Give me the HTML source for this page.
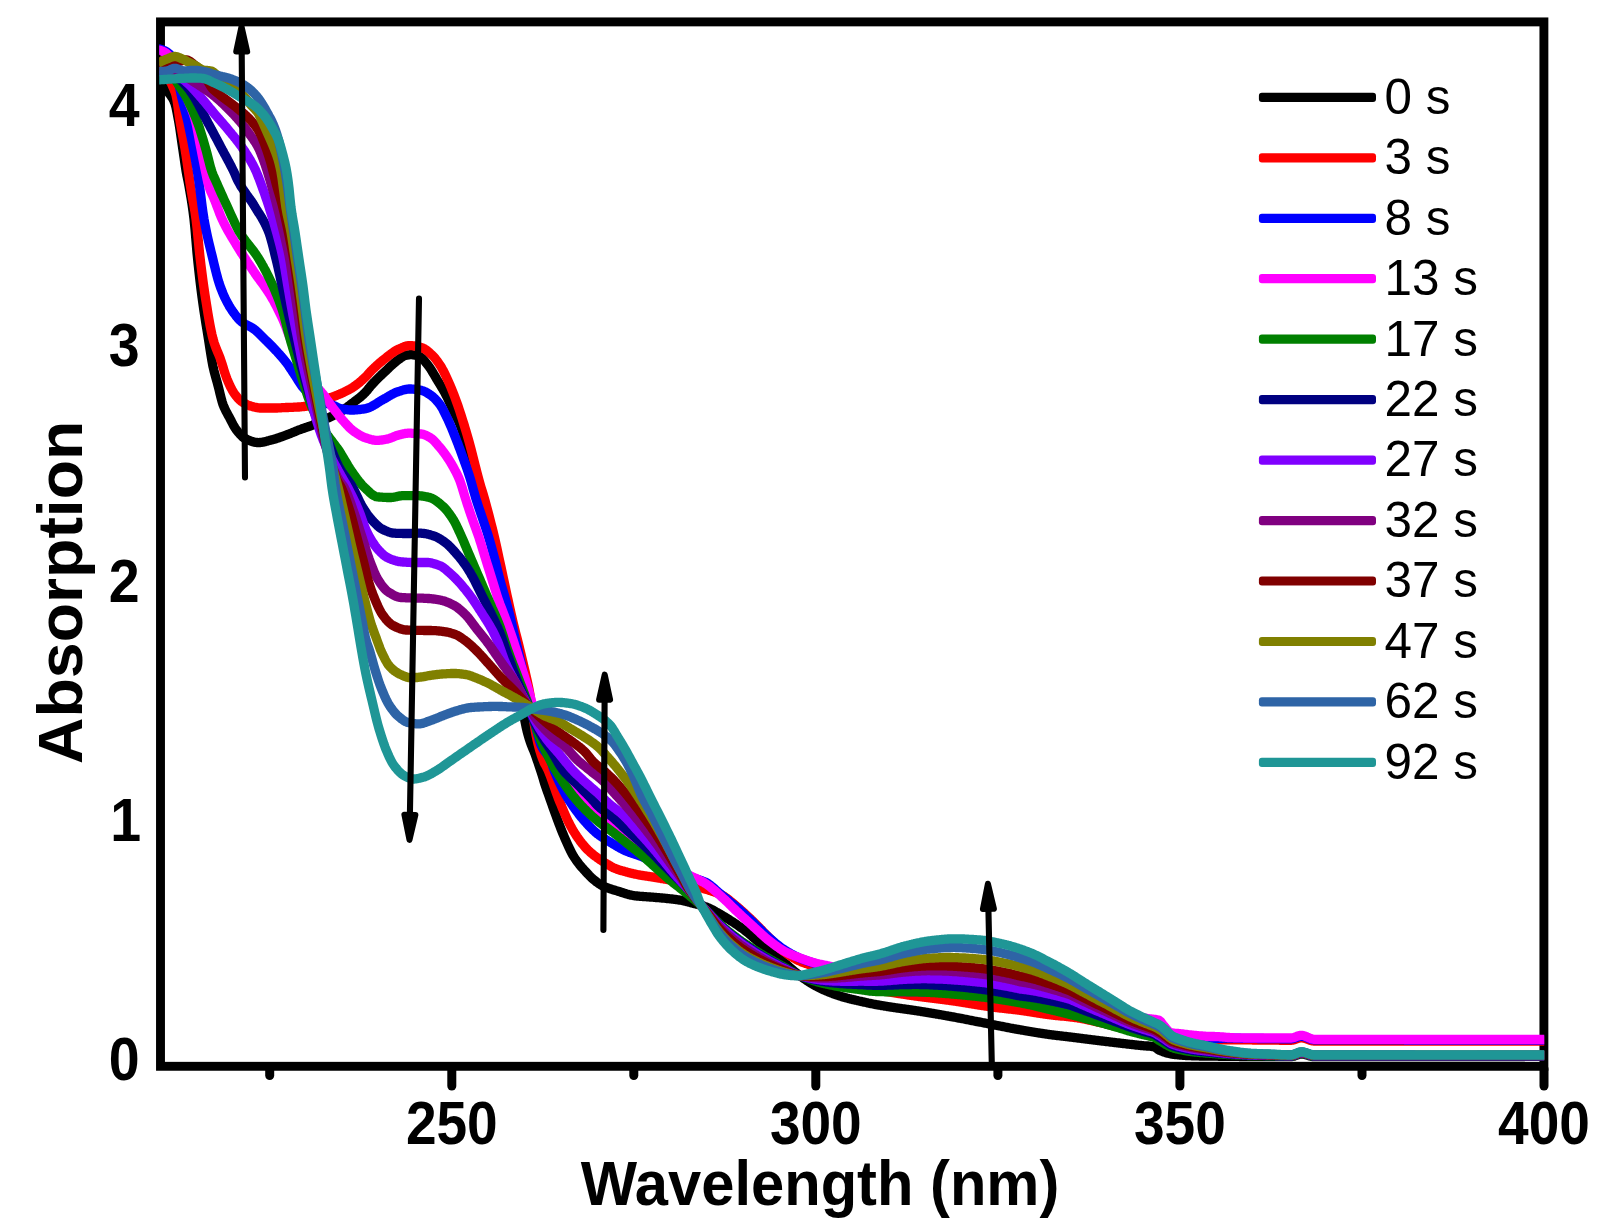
<!DOCTYPE html>
<html lang="en"><head><meta charset="utf-8"><title>UV absorption spectra</title>
<style>
html,body{margin:0;padding:0;background:#fff;}
body{width:1603px;height:1232px;overflow:hidden;}
svg{display:block;}
text{font-family:"Liberation Sans",sans-serif;fill:#000;}
.b{font-weight:bold;}
.c{fill:none;stroke-width:9.3;stroke-linejoin:round;stroke-linecap:butt;}
</style></head><body>
<svg width="1603" height="1232" viewBox="0 0 1603 1232">
<rect x="0" y="0" width="1603" height="1232" fill="#fff"/>
<defs><clipPath id="clip"><rect x="159.2" y="0" width="1385.0" height="1232"/></clipPath></defs>
<g fill="none" stroke="#000" stroke-width="8.9" stroke-linecap="butt">
<rect x="160.5" y="21.9" width="1383.4" height="1044.4"/>
</g>
<g stroke="#000" stroke-width="9.0" stroke-linecap="round">
<line x1="451.8" y1="1069" x2="451.8" y2="1086"/>
<line x1="815.8" y1="1069" x2="815.8" y2="1086"/>
<line x1="1179.9" y1="1069" x2="1179.9" y2="1086"/>
<line x1="1544.0" y1="1069" x2="1544.0" y2="1086"/>
<line x1="269.7" y1="1069" x2="269.7" y2="1075.5"/>
<line x1="633.8" y1="1069" x2="633.8" y2="1075.5"/>
<line x1="997.9" y1="1069" x2="997.9" y2="1075.5"/>
<line x1="1362.0" y1="1069" x2="1362.0" y2="1075.5"/>
</g>
<g clip-path="url(#clip)">
<path class="c" stroke="#000000" d="M158.0 86.0 L159.0 86.1 L160.0 86.3 L161.0 86.6 L162.0 87.0 L163.0 87.5 L164.0 88.0 L165.0 88.7 L166.0 89.7 L167.0 90.8 L168.0 92.1 L169.0 93.3 L170.0 94.5 L171.0 95.8 L172.0 97.3 L173.0 99.0 L174.0 101.1 L175.0 103.5 L176.0 107.3 L177.0 112.2 L178.0 117.7 L179.0 123.3 L180.0 129.6 L181.0 136.5 L182.0 143.5 L183.0 150.3 L184.0 157.2 L185.0 164.1 L186.0 170.6 L187.0 176.1 L188.0 180.9 L189.0 186.2 L190.0 191.9 L191.0 197.8 L192.0 204.1 L193.0 211.1 L194.0 219.0 L195.0 229.0 L196.0 240.9 L197.0 252.8 L198.0 262.8 L199.0 272.1 L200.0 280.9 L201.0 289.1 L202.0 296.9 L203.0 304.2 L204.0 311.0 L205.0 317.6 L206.0 323.9 L207.0 330.1 L208.0 336.3 L209.0 342.5 L210.0 349.0 L211.0 355.4 L212.0 361.3 L213.0 366.5 L214.0 370.8 L215.0 374.7 L216.0 378.3 L217.0 381.8 L218.0 385.5 L219.0 389.4 L220.0 393.6 L221.0 397.6 L222.0 401.3 L223.0 404.5 L224.0 407.0 L225.0 409.2 L226.0 411.3 L227.0 413.1 L228.0 414.9 L229.0 416.7 L230.0 418.6 L231.0 420.5 L232.0 422.5 L233.0 424.4 L234.0 426.2 L235.0 427.9 L236.0 429.3 L237.0 430.6 L238.0 431.9 L239.0 433.1 L240.0 434.3 L241.0 435.3 L242.0 436.3 L243.0 437.2 L244.0 437.9 L245.0 438.5 L246.0 439.0 L247.0 439.5 L248.0 439.9 L249.0 440.4 L250.0 440.8 L251.0 441.1 L252.0 441.5 L253.0 441.8 L254.0 442.1 L255.0 442.3 L256.0 442.4 L257.0 442.5 L258.0 442.6 L259.0 442.6 L260.0 442.5 L261.0 442.4 L262.0 442.3 L263.0 442.1 L264.0 441.9 L265.0 441.7 L266.0 441.4 L267.0 441.1 L268.0 440.9 L269.0 440.6 L270.0 440.3 L271.0 440.1 L272.0 439.8 L273.0 439.6 L274.0 439.3 L275.0 439.0 L276.0 438.7 L277.0 438.3 L278.0 438.0 L279.0 437.7 L280.0 437.3 L281.0 437.0 L282.0 436.6 L283.0 436.2 L284.0 435.9 L285.0 435.5 L286.0 435.1 L287.0 434.8 L288.0 434.4 L289.0 434.0 L290.0 433.6 L291.0 433.2 L292.0 432.8 L293.0 432.4 L294.0 432.0 L295.0 431.6 L296.0 431.1 L297.0 430.7 L298.0 430.3 L299.0 429.9 L300.0 429.6 L301.0 429.2 L302.0 428.8 L303.0 428.5 L304.0 428.2 L305.0 427.8 L306.0 427.5 L307.0 427.1 L308.0 426.8 L309.0 426.5 L310.0 426.1 L311.0 425.7 L312.0 425.4 L313.0 425.0 L314.0 424.5 L315.0 424.1 L316.0 423.7 L317.0 423.2 L318.0 422.8 L319.0 422.3 L320.0 421.8 L321.0 421.3 L322.0 420.8 L323.0 420.3 L324.0 419.9 L325.0 419.4 L326.0 418.9 L327.0 418.4 L328.0 418.0 L329.0 417.5 L330.0 417.1 L331.0 416.6 L332.0 416.1 L333.0 415.7 L334.0 415.2 L335.0 414.7 L336.0 414.2 L337.0 413.7 L338.0 413.2 L339.0 412.6 L340.0 412.0 L341.0 411.4 L342.0 410.7 L343.0 410.1 L344.0 409.4 L345.0 408.7 L346.0 407.9 L347.0 407.2 L348.0 406.5 L349.0 405.7 L350.0 405.0 L351.0 404.2 L352.0 403.4 L353.0 402.7 L354.0 402.0 L355.0 401.2 L356.0 400.4 L357.0 399.7 L358.0 398.9 L359.0 398.1 L360.0 397.3 L361.0 396.5 L362.0 395.6 L363.0 394.7 L364.0 393.8 L365.0 392.8 L366.0 391.7 L367.0 390.6 L368.0 389.3 L369.0 388.1 L370.0 386.8 L371.0 385.6 L372.0 384.5 L373.0 383.4 L374.0 382.4 L375.0 381.3 L376.0 380.3 L377.0 379.3 L378.0 378.3 L379.0 377.3 L380.0 376.3 L381.0 375.4 L382.0 374.4 L383.0 373.5 L384.0 372.5 L385.0 371.6 L386.0 370.7 L387.0 369.7 L388.0 368.7 L389.0 367.8 L390.0 366.8 L391.0 365.9 L392.0 365.0 L393.0 364.1 L394.0 363.2 L395.0 362.3 L396.0 361.5 L397.0 360.7 L398.0 360.0 L399.0 359.3 L400.0 358.5 L401.0 357.8 L402.0 357.0 L403.0 356.4 L404.0 355.9 L405.0 355.5 L406.0 355.2 L407.0 355.1 L408.0 354.9 L409.0 354.8 L410.0 354.7 L411.0 354.7 L412.0 354.7 L413.0 354.8 L414.0 354.9 L415.0 355.1 L416.0 355.3 L417.0 355.6 L418.0 355.8 L419.0 356.1 L420.0 356.6 L421.0 357.3 L422.0 358.1 L423.0 359.2 L424.0 360.3 L425.0 361.5 L426.0 362.8 L427.0 364.0 L428.0 365.2 L429.0 366.6 L430.0 368.0 L431.0 369.5 L432.0 371.1 L433.0 372.8 L434.0 374.5 L435.0 376.2 L436.0 377.9 L437.0 379.6 L438.0 381.2 L439.0 382.8 L440.0 384.5 L441.0 386.1 L442.0 387.8 L443.0 389.5 L444.0 391.3 L445.0 393.1 L446.0 395.0 L447.0 397.0 L448.0 399.1 L449.0 401.2 L450.0 403.5 L451.0 405.7 L452.0 407.9 L453.0 410.0 L454.0 412.0 L455.0 414.0 L456.0 415.9 L457.0 417.9 L458.0 419.9 L459.0 422.1 L460.0 424.5 L461.0 427.1 L462.0 429.9 L463.0 432.8 L464.0 435.8 L465.0 438.9 L466.0 442.0 L467.0 445.1 L468.0 448.3 L469.0 451.6 L470.0 454.9 L471.0 458.4 L472.0 462.0 L473.0 465.8 L474.0 469.9 L475.0 474.0 L476.0 478.1 L477.0 481.9 L478.0 485.5 L479.0 489.0 L480.0 492.4 L481.0 495.9 L482.0 499.5 L483.0 503.2 L484.0 506.9 L485.0 510.6 L486.0 514.4 L487.0 518.2 L488.0 522.1 L489.0 526.0 L490.0 530.0 L491.0 534.1 L492.0 538.3 L493.0 542.7 L494.0 547.3 L495.0 551.9 L496.0 556.5 L497.0 561.1 L498.0 565.7 L499.0 570.3 L500.0 575.0 L501.0 579.6 L502.0 584.3 L503.0 589.0 L504.0 593.6 L505.0 598.3 L506.0 603.0 L507.0 607.7 L508.0 612.3 L509.0 616.6 L510.0 621.0 L511.0 625.6 L512.0 630.5 L513.0 635.8 L514.0 641.3 L515.0 647.1 L516.0 652.9 L517.0 658.8 L518.0 665.0 L519.0 672.0 L520.0 680.8 L521.0 690.5 L522.0 699.3 L523.0 707.9 L524.0 715.6 L525.0 721.4 L526.0 726.4 L527.0 730.7 L528.0 734.5 L529.0 738.0 L530.0 741.1 L531.0 743.9 L532.0 746.4 L533.0 748.9 L534.0 751.3 L535.0 754.0 L536.0 756.8 L537.0 759.7 L538.0 762.5 L539.0 765.5 L540.0 768.5 L541.0 771.5 L542.0 774.7 L543.0 778.0 L544.0 781.3 L545.0 784.5 L546.0 787.5 L547.0 790.4 L548.0 793.2 L549.0 796.1 L550.0 798.9 L551.0 801.7 L552.0 804.6 L553.0 807.4 L554.0 810.2 L555.0 813.0 L556.0 815.7 L557.0 818.5 L558.0 821.2 L559.0 823.8 L560.0 826.4 L561.0 829.0 L562.0 831.5 L563.0 833.9 L564.0 836.3 L565.0 838.6 L566.0 840.9 L567.0 843.1 L568.0 845.3 L569.0 847.5 L570.0 849.7 L571.0 851.7 L572.0 853.6 L573.0 855.3 L574.0 857.0 L575.0 858.5 L576.0 860.0 L577.0 861.4 L578.0 862.7 L579.0 864.0 L580.0 865.3 L581.0 866.5 L582.0 867.6 L583.0 868.7 L584.0 869.8 L585.0 870.9 L586.0 872.0 L587.0 873.1 L588.0 874.1 L589.0 875.2 L590.0 876.2 L591.0 877.2 L592.0 878.2 L593.0 879.1 L594.0 879.9 L595.0 880.7 L596.0 881.5 L597.0 882.3 L598.0 883.0 L599.0 883.7 L600.0 884.3 L601.0 884.9 L602.0 885.5 L603.0 886.0 L604.0 886.5 L605.0 886.9 L606.0 887.3 L607.0 887.7 L608.0 888.0 L609.0 888.4 L610.0 888.7 L611.0 889.0 L612.0 889.4 L613.0 889.7 L614.0 890.0 L615.0 890.3 L616.0 890.6 L617.0 890.9 L618.0 891.2 L619.0 891.5 L620.0 891.8 L621.0 892.2 L622.0 892.5 L623.0 892.8 L624.0 893.1 L625.0 893.5 L626.0 893.8 L627.0 894.1 L628.0 894.4 L629.0 894.6 L630.0 894.9 L631.0 895.1 L632.0 895.3 L633.0 895.5 L634.0 895.7 L635.0 895.8 L636.0 895.9 L637.0 896.0 L638.0 896.1 L639.0 896.2 L640.0 896.3 L641.0 896.4 L642.0 896.4 L643.0 896.5 L644.0 896.6 L645.0 896.6 L646.0 896.7 L647.0 896.8 L648.0 896.9 L649.0 896.9 L650.0 897.0 L651.0 897.1 L652.0 897.2 L653.0 897.2 L654.0 897.3 L655.0 897.4 L656.0 897.5 L657.0 897.6 L658.0 897.6 L659.0 897.7 L660.0 897.8 L661.0 897.9 L662.0 898.0 L663.0 898.1 L664.0 898.2 L665.0 898.2 L666.0 898.4 L667.0 898.5 L668.0 898.6 L669.0 898.7 L670.0 898.8 L671.0 898.9 L672.0 899.0 L673.0 899.1 L674.0 899.3 L675.0 899.4 L676.0 899.5 L677.0 899.7 L678.0 899.8 L679.0 900.0 L680.0 900.1 L681.0 900.3 L682.0 900.5 L683.0 900.7 L684.0 900.9 L685.0 901.1 L686.0 901.4 L687.0 901.6 L688.0 901.9 L689.0 902.1 L690.0 902.4 L691.0 902.7 L692.0 903.0 L693.0 903.2 L694.0 903.5 L695.0 903.8 L696.0 904.0 L697.0 904.3 L698.0 904.5 L699.0 904.8 L700.0 905.1 L701.0 905.4 L702.0 905.6 L703.0 905.9 L704.0 906.3 L705.0 906.6 L706.0 906.9 L707.0 907.3 L708.0 907.7 L709.0 908.1 L710.0 908.6 L711.0 909.1 L712.0 909.6 L713.0 910.2 L714.0 910.7 L715.0 911.3 L716.0 911.9 L717.0 912.5 L718.0 913.0 L719.0 913.6 L720.0 914.2 L721.0 914.7 L722.0 915.3 L723.0 915.9 L724.0 916.5 L725.0 917.1 L726.0 917.7 L727.0 918.3 L728.0 919.0 L729.0 919.6 L730.0 920.2 L731.0 920.9 L732.0 921.5 L733.0 922.1 L734.0 922.8 L735.0 923.5 L736.0 924.1 L737.0 924.8 L738.0 925.5 L739.0 926.2 L740.0 926.9 L741.0 927.6 L742.0 928.3 L743.0 929.0 L744.0 929.7 L745.0 930.5 L746.0 931.3 L747.0 932.1 L748.0 932.9 L749.0 933.7 L750.0 934.6 L751.0 935.4 L752.0 936.3 L753.0 937.2 L754.0 938.1 L755.0 938.9 L756.0 939.8 L757.0 940.7 L758.0 941.5 L759.0 942.3 L760.0 943.2 L761.0 944.0 L762.0 944.9 L763.0 945.7 L764.0 946.5 L765.0 947.4 L766.0 948.2 L767.0 949.0 L768.0 949.9 L769.0 950.7 L770.0 951.5 L771.0 952.3 L772.0 953.1 L773.0 953.9 L774.0 954.7 L775.0 955.5 L776.0 956.2 L777.0 957.0 L778.0 957.8 L779.0 958.5 L780.0 959.3 L781.0 960.1 L782.0 960.9 L783.0 961.7 L784.0 962.5 L785.0 963.3 L786.0 964.2 L787.0 965.0 L788.0 965.9 L789.0 966.8 L790.0 967.6 L791.0 968.5 L792.0 969.4 L793.0 970.2 L794.0 971.1 L795.0 971.9 L796.0 972.7 L797.0 973.5 L798.0 974.3 L799.0 975.0 L800.0 975.8 L801.0 976.5 L802.0 977.2 L803.0 977.9 L804.0 978.6 L805.0 979.3 L806.0 980.0 L807.0 980.7 L808.0 981.3 L809.0 981.9 L810.0 982.6 L811.0 983.2 L812.0 983.8 L813.0 984.3 L814.0 984.9 L815.0 985.5 L816.0 986.0 L817.0 986.6 L818.0 987.1 L819.0 987.6 L820.0 988.1 L821.0 988.6 L822.0 989.1 L823.0 989.5 L824.0 990.0 L825.0 990.4 L826.0 990.9 L827.0 991.3 L828.0 991.7 L829.0 992.1 L830.0 992.5 L831.0 992.9 L832.0 993.3 L833.0 993.7 L834.0 994.0 L835.0 994.4 L836.0 994.8 L837.0 995.1 L838.0 995.4 L839.0 995.8 L840.0 996.1 L841.0 996.4 L842.0 996.7 L843.0 997.0 L844.0 997.3 L845.0 997.6 L846.0 997.8 L847.0 998.1 L848.0 998.4 L849.0 998.6 L850.0 998.9 L851.0 999.1 L852.0 999.4 L853.0 999.6 L854.0 999.8 L855.0 1000.1 L856.0 1000.3 L857.0 1000.5 L858.0 1000.8 L859.0 1001.0 L860.0 1001.2 L861.0 1001.4 L862.0 1001.6 L863.0 1001.9 L864.0 1002.1 L865.0 1002.3 L866.0 1002.5 L867.0 1002.7 L868.0 1003.0 L869.0 1003.2 L870.0 1003.4 L871.0 1003.6 L872.0 1003.8 L873.0 1004.0 L874.0 1004.2 L875.0 1004.4 L876.0 1004.6 L877.0 1004.8 L878.0 1004.9 L879.0 1005.1 L880.0 1005.3 L881.0 1005.5 L882.0 1005.6 L883.0 1005.8 L884.0 1006.0 L885.0 1006.1 L886.0 1006.3 L887.0 1006.5 L888.0 1006.6 L889.0 1006.8 L890.0 1006.9 L891.0 1007.1 L892.0 1007.2 L893.0 1007.4 L894.0 1007.5 L895.0 1007.7 L896.0 1007.8 L897.0 1008.0 L898.0 1008.1 L899.0 1008.2 L900.0 1008.4 L901.0 1008.5 L902.0 1008.7 L903.0 1008.8 L904.0 1008.9 L905.0 1009.1 L906.0 1009.2 L907.0 1009.4 L908.0 1009.5 L909.0 1009.6 L910.0 1009.8 L911.0 1009.9 L912.0 1010.1 L913.0 1010.2 L914.0 1010.4 L915.0 1010.5 L916.0 1010.7 L917.0 1010.8 L918.0 1011.0 L919.0 1011.1 L920.0 1011.3 L921.0 1011.5 L922.0 1011.6 L923.0 1011.8 L924.0 1011.9 L925.0 1012.1 L926.0 1012.3 L927.0 1012.4 L928.0 1012.6 L929.0 1012.8 L930.0 1012.9 L931.0 1013.1 L932.0 1013.3 L933.0 1013.4 L934.0 1013.6 L935.0 1013.8 L936.0 1014.0 L937.0 1014.1 L938.0 1014.3 L939.0 1014.5 L940.0 1014.6 L941.0 1014.8 L942.0 1015.0 L943.0 1015.2 L944.0 1015.3 L945.0 1015.5 L946.0 1015.7 L947.0 1015.9 L948.0 1016.0 L949.0 1016.2 L950.0 1016.4 L951.0 1016.6 L952.0 1016.8 L953.0 1016.9 L954.0 1017.1 L955.0 1017.3 L956.0 1017.5 L957.0 1017.7 L958.0 1017.9 L959.0 1018.1 L960.0 1018.2 L961.0 1018.4 L962.0 1018.6 L963.0 1018.8 L964.0 1019.0 L965.0 1019.2 L966.0 1019.4 L967.0 1019.6 L968.0 1019.8 L969.0 1020.0 L970.0 1020.2 L971.0 1020.4 L972.0 1020.6 L973.0 1020.8 L974.0 1021.0 L975.0 1021.2 L976.0 1021.4 L977.0 1021.6 L978.0 1021.8 L979.0 1021.9 L980.0 1022.1 L981.0 1022.3 L982.0 1022.5 L983.0 1022.7 L984.0 1022.9 L985.0 1023.1 L986.0 1023.3 L987.0 1023.5 L988.0 1023.7 L989.0 1023.9 L990.0 1024.1 L991.0 1024.3 L992.0 1024.5 L993.0 1024.7 L994.0 1024.9 L995.0 1025.1 L996.0 1025.3 L997.0 1025.5 L998.0 1025.7 L999.0 1025.8 L1000.0 1026.0 L1001.0 1026.2 L1002.0 1026.4 L1003.0 1026.6 L1004.0 1026.8 L1005.0 1027.0 L1006.0 1027.2 L1007.0 1027.4 L1008.0 1027.6 L1009.0 1027.8 L1010.0 1028.0 L1011.0 1028.2 L1012.0 1028.4 L1013.0 1028.5 L1014.0 1028.7 L1015.0 1028.9 L1016.0 1029.1 L1017.0 1029.3 L1018.0 1029.4 L1019.0 1029.6 L1020.0 1029.8 L1021.0 1030.0 L1022.0 1030.1 L1023.0 1030.3 L1024.0 1030.5 L1025.0 1030.7 L1026.0 1030.8 L1027.0 1031.0 L1028.0 1031.2 L1029.0 1031.3 L1030.0 1031.5 L1031.0 1031.7 L1032.0 1031.8 L1033.0 1032.0 L1034.0 1032.2 L1035.0 1032.3 L1036.0 1032.5 L1037.0 1032.7 L1038.0 1032.8 L1039.0 1033.0 L1040.0 1033.1 L1041.0 1033.3 L1042.0 1033.4 L1043.0 1033.6 L1044.0 1033.7 L1045.0 1033.9 L1046.0 1034.0 L1047.0 1034.2 L1048.0 1034.3 L1049.0 1034.5 L1050.0 1034.6 L1051.0 1034.7 L1052.0 1034.9 L1053.0 1035.0 L1054.0 1035.1 L1055.0 1035.2 L1056.0 1035.4 L1057.0 1035.5 L1058.0 1035.6 L1059.0 1035.7 L1060.0 1035.8 L1061.0 1035.9 L1062.0 1036.1 L1063.0 1036.2 L1064.0 1036.3 L1065.0 1036.4 L1066.0 1036.5 L1067.0 1036.6 L1068.0 1036.8 L1069.0 1036.9 L1070.0 1037.0 L1071.0 1037.1 L1072.0 1037.2 L1073.0 1037.4 L1074.0 1037.5 L1075.0 1037.6 L1076.0 1037.7 L1077.0 1037.9 L1078.0 1038.0 L1079.0 1038.1 L1080.0 1038.2 L1081.0 1038.4 L1082.0 1038.5 L1083.0 1038.6 L1084.0 1038.8 L1085.0 1038.9 L1086.0 1039.0 L1087.0 1039.1 L1088.0 1039.3 L1089.0 1039.4 L1090.0 1039.5 L1091.0 1039.6 L1092.0 1039.8 L1093.0 1039.9 L1094.0 1040.0 L1095.0 1040.1 L1096.0 1040.3 L1097.0 1040.4 L1098.0 1040.5 L1099.0 1040.6 L1100.0 1040.8 L1101.0 1040.9 L1102.0 1041.0 L1103.0 1041.1 L1104.0 1041.2 L1105.0 1041.4 L1106.0 1041.5 L1107.0 1041.6 L1108.0 1041.7 L1109.0 1041.8 L1110.0 1042.0 L1111.0 1042.1 L1112.0 1042.2 L1113.0 1042.3 L1114.0 1042.4 L1115.0 1042.6 L1116.0 1042.7 L1117.0 1042.8 L1118.0 1042.9 L1119.0 1043.0 L1120.0 1043.1 L1121.0 1043.3 L1122.0 1043.4 L1123.0 1043.5 L1124.0 1043.6 L1125.0 1043.7 L1126.0 1043.8 L1127.0 1044.0 L1128.0 1044.1 L1129.0 1044.2 L1130.0 1044.3 L1131.0 1044.4 L1132.0 1044.5 L1133.0 1044.6 L1134.0 1044.7 L1135.0 1044.9 L1136.0 1045.0 L1137.0 1045.1 L1138.0 1045.2 L1139.0 1045.3 L1140.0 1045.4 L1141.0 1045.5 L1142.0 1045.6 L1143.0 1045.7 L1144.0 1045.8 L1145.0 1045.8 L1146.0 1045.9 L1147.0 1046.0 L1148.0 1046.0 L1149.0 1046.1 L1150.0 1046.2 L1151.0 1046.3 L1152.0 1046.5 L1153.0 1046.6 L1154.0 1046.8 L1155.0 1047.2 L1156.0 1047.8 L1157.0 1048.6 L1158.0 1049.4 L1159.0 1050.0 L1160.0 1050.5 L1161.0 1050.9 L1162.0 1051.3 L1163.0 1051.7 L1164.0 1052.1 L1165.0 1052.4 L1166.0 1052.7 L1167.0 1053.0 L1168.0 1053.3 L1169.0 1053.5 L1170.0 1053.7 L1171.0 1053.9 L1172.0 1054.1 L1173.0 1054.3 L1174.0 1054.4 L1175.0 1054.5 L1176.0 1054.6 L1177.0 1054.7 L1178.0 1054.8 L1179.0 1054.9 L1180.0 1055.0 L1181.0 1055.1 L1182.0 1055.2 L1183.0 1055.3 L1184.0 1055.4 L1185.0 1055.4 L1186.0 1055.5 L1187.0 1055.6 L1188.0 1055.6 L1189.0 1055.7 L1190.0 1055.7 L1191.0 1055.7 L1192.0 1055.8 L1193.0 1055.8 L1194.0 1055.8 L1195.0 1055.8 L1196.0 1055.9 L1197.0 1055.9 L1198.0 1055.9 L1199.0 1055.9 L1200.0 1056.0 L1201.0 1056.0 L1202.0 1056.0 L1203.0 1056.0 L1204.0 1056.0 L1205.0 1056.1 L1206.0 1056.1 L1207.0 1056.1 L1208.0 1056.1 L1209.0 1056.1 L1210.0 1056.1 L1211.0 1056.2 L1212.0 1056.2 L1213.0 1056.2 L1214.0 1056.2 L1215.0 1056.2 L1216.0 1056.2 L1217.0 1056.2 L1218.0 1056.2 L1219.0 1056.3 L1220.0 1056.3 L1221.0 1056.3 L1222.0 1056.3 L1223.0 1056.3 L1224.0 1056.3 L1225.0 1056.3 L1226.0 1056.3 L1227.0 1056.3 L1228.0 1056.4 L1229.0 1056.4 L1230.0 1056.4 L1231.0 1056.4 L1232.0 1056.4 L1233.0 1056.4 L1234.0 1056.4 L1235.0 1056.4 L1236.0 1056.4 L1237.0 1056.4 L1238.0 1056.4 L1239.0 1056.4 L1240.0 1056.5 L1241.0 1056.5 L1242.0 1056.5 L1243.0 1056.5 L1244.0 1056.5 L1245.0 1056.5 L1246.0 1056.5 L1247.0 1056.5 L1248.0 1056.5 L1249.0 1056.5 L1250.0 1056.5 L1251.0 1056.5 L1252.0 1056.5 L1253.0 1056.5 L1254.0 1056.5 L1255.0 1056.5 L1256.0 1056.5 L1257.0 1056.5 L1258.0 1056.5 L1259.0 1056.5 L1260.0 1056.5 L1261.0 1056.5 L1262.0 1056.5 L1263.0 1056.5 L1264.0 1056.6 L1265.0 1056.6 L1266.0 1056.6 L1267.0 1056.6 L1268.0 1056.6 L1269.0 1056.6 L1270.0 1056.6 L1271.0 1056.6 L1272.0 1056.6 L1273.0 1056.6 L1274.0 1056.6 L1275.0 1056.6 L1276.0 1056.6 L1277.0 1056.6 L1278.0 1056.6 L1279.0 1056.6 L1280.0 1056.6 L1281.0 1056.6 L1282.0 1056.6 L1283.0 1056.6 L1284.0 1056.6 L1285.0 1056.6 L1286.0 1056.6 L1287.0 1056.6 L1288.0 1056.6 L1289.0 1056.6 L1290.0 1056.6 L1291.0 1056.6 L1292.0 1056.5 L1293.0 1056.3 L1294.0 1056.1 L1295.0 1055.7 L1296.0 1055.4 L1297.0 1055.0 L1298.0 1054.7 L1299.0 1054.4 L1300.0 1054.1 L1301.0 1054.0 L1302.0 1054.0 L1303.0 1054.1 L1304.0 1054.3 L1305.0 1054.5 L1306.0 1054.8 L1307.0 1055.1 L1308.0 1055.4 L1309.0 1055.7 L1310.0 1056.0 L1311.0 1056.2 L1312.0 1056.4 L1313.0 1056.6 L1314.0 1056.6 L1315.0 1056.6 L1316.0 1056.6 L1317.0 1056.6 L1318.0 1056.6 L1319.0 1056.6 L1320.0 1056.6 L1321.0 1056.6 L1322.0 1056.6 L1323.0 1056.6 L1324.0 1056.6 L1325.0 1056.6 L1326.0 1056.6 L1327.0 1056.6 L1328.0 1056.6 L1329.0 1056.6 L1330.0 1056.6 L1331.0 1056.6 L1332.0 1056.6 L1333.0 1056.6 L1334.0 1056.6 L1335.0 1056.6 L1336.0 1056.6 L1337.0 1056.6 L1338.0 1056.6 L1339.0 1056.6 L1340.0 1056.6 L1341.0 1056.6 L1342.0 1056.6 L1343.0 1056.6 L1344.0 1056.6 L1345.0 1056.6 L1346.0 1056.6 L1347.0 1056.6 L1348.0 1056.6 L1349.0 1056.6 L1350.0 1056.6 L1351.0 1056.6 L1352.0 1056.6 L1353.0 1056.6 L1354.0 1056.6 L1355.0 1056.6 L1356.0 1056.6 L1357.0 1056.6 L1358.0 1056.6 L1359.0 1056.6 L1360.0 1056.6 L1361.0 1056.6 L1362.0 1056.6 L1363.0 1056.6 L1364.0 1056.6 L1365.0 1056.6 L1366.0 1056.6 L1367.0 1056.6 L1368.0 1056.6 L1369.0 1056.6 L1370.0 1056.6 L1371.0 1056.6 L1372.0 1056.6 L1373.0 1056.6 L1374.0 1056.6 L1375.0 1056.6 L1376.0 1056.6 L1377.0 1056.6 L1378.0 1056.6 L1379.0 1056.6 L1380.0 1056.6 L1381.0 1056.6 L1382.0 1056.6 L1383.0 1056.6 L1384.0 1056.6 L1385.0 1056.6 L1386.0 1056.6 L1387.0 1056.6 L1388.0 1056.6 L1389.0 1056.6 L1390.0 1056.6 L1391.0 1056.6 L1392.0 1056.6 L1393.0 1056.6 L1394.0 1056.6 L1395.0 1056.6 L1396.0 1056.6 L1397.0 1056.6 L1398.0 1056.6 L1399.0 1056.6 L1400.0 1056.6 L1401.0 1056.6 L1402.0 1056.6 L1403.0 1056.6 L1404.0 1056.6 L1405.0 1056.6 L1406.0 1056.6 L1407.0 1056.6 L1408.0 1056.6 L1409.0 1056.6 L1410.0 1056.6 L1411.0 1056.6 L1412.0 1056.6 L1413.0 1056.6 L1414.0 1056.6 L1415.0 1056.6 L1416.0 1056.6 L1417.0 1056.6 L1418.0 1056.6 L1419.0 1056.6 L1420.0 1056.6 L1421.0 1056.6 L1422.0 1056.6 L1423.0 1056.6 L1424.0 1056.6 L1425.0 1056.6 L1426.0 1056.6 L1427.0 1056.6 L1428.0 1056.6 L1429.0 1056.6 L1430.0 1056.6 L1431.0 1056.6 L1432.0 1056.6 L1433.0 1056.6 L1434.0 1056.6 L1435.0 1056.6 L1436.0 1056.6 L1437.0 1056.6 L1438.0 1056.6 L1439.0 1056.6 L1440.0 1056.6 L1441.0 1056.6 L1442.0 1056.6 L1443.0 1056.6 L1444.0 1056.6 L1445.0 1056.6 L1446.0 1056.6 L1447.0 1056.6 L1448.0 1056.6 L1449.0 1056.6 L1450.0 1056.6 L1451.0 1056.6 L1452.0 1056.6 L1453.0 1056.6 L1454.0 1056.6 L1455.0 1056.6 L1456.0 1056.6 L1457.0 1056.6 L1458.0 1056.6 L1459.0 1056.6 L1460.0 1056.6 L1461.0 1056.5 L1462.0 1056.5 L1463.0 1056.5 L1464.0 1056.5 L1465.0 1056.5 L1466.0 1056.5 L1467.0 1056.5 L1468.0 1056.5 L1469.0 1056.5 L1470.0 1056.5 L1471.0 1056.5 L1472.0 1056.5 L1473.0 1056.5 L1474.0 1056.5 L1475.0 1056.5 L1476.0 1056.5 L1477.0 1056.5 L1478.0 1056.5 L1479.0 1056.5 L1480.0 1056.5 L1481.0 1056.5 L1482.0 1056.5 L1483.0 1056.5 L1484.0 1056.5 L1485.0 1056.5 L1486.0 1056.5 L1487.0 1056.5 L1488.0 1056.5 L1489.0 1056.5 L1490.0 1056.5 L1491.0 1056.5 L1492.0 1056.5 L1493.0 1056.5 L1494.0 1056.5 L1495.0 1056.5 L1496.0 1056.5 L1497.0 1056.5 L1498.0 1056.5 L1499.0 1056.5 L1500.0 1056.5 L1501.0 1056.5 L1502.0 1056.5 L1503.0 1056.5 L1504.0 1056.5 L1505.0 1056.5 L1506.0 1056.5 L1507.0 1056.5 L1508.0 1056.5 L1509.0 1056.5 L1510.0 1056.5 L1511.0 1056.5 L1512.0 1056.5 L1513.0 1056.5 L1514.0 1056.5 L1515.0 1056.5 L1516.0 1056.5 L1517.0 1056.5 L1518.0 1056.5 L1519.0 1056.5 L1520.0 1056.5 L1521.0 1056.5 L1522.0 1056.5 L1523.0 1056.5 L1524.0 1056.5 L1525.0 1056.4 L1526.0 1056.4 L1527.0 1056.4 L1528.0 1056.4 L1529.0 1056.4 L1530.0 1056.4 L1531.0 1056.4 L1532.0 1056.4 L1533.0 1056.4 L1534.0 1056.4 L1535.0 1056.4 L1536.0 1056.4 L1537.0 1056.4 L1538.0 1056.4 L1539.0 1056.4 L1540.0 1056.4 L1541.0 1056.4 L1542.0 1056.4 L1543.0 1056.4 L1544.0 1056.4 L1545.0 1056.4 L1546.0 1056.4"/>
<path class="c" stroke="#ff0000" d="M158.0 60.0 L159.0 60.7 L160.0 61.5 L161.0 62.6 L162.0 63.8 L163.0 65.2 L164.0 66.7 L165.0 68.3 L166.0 70.0 L167.0 71.9 L168.0 74.3 L169.0 76.9 L170.0 79.6 L171.0 82.4 L172.0 85.0 L173.0 87.3 L174.0 89.4 L175.0 91.9 L176.0 95.0 L177.0 100.0 L178.0 106.8 L179.0 114.3 L180.0 121.0 L181.0 126.7 L182.0 132.1 L183.0 137.3 L184.0 142.8 L185.0 148.7 L186.0 155.1 L187.0 161.9 L188.0 168.7 L189.0 175.7 L190.0 183.0 L191.0 189.4 L192.0 195.1 L193.0 200.6 L194.0 206.1 L195.0 212.1 L196.0 219.0 L197.0 227.5 L198.0 237.5 L199.0 247.7 L200.0 257.1 L201.0 265.5 L202.0 273.4 L203.0 281.0 L204.0 288.2 L205.0 295.0 L206.0 301.3 L207.0 307.6 L208.0 313.7 L209.0 319.5 L210.0 325.1 L211.0 330.2 L212.0 334.8 L213.0 338.9 L214.0 342.4 L215.0 345.4 L216.0 348.0 L217.0 350.5 L218.0 352.9 L219.0 355.3 L220.0 357.8 L221.0 360.7 L222.0 363.8 L223.0 367.0 L224.0 370.3 L225.0 373.4 L226.0 376.4 L227.0 379.0 L228.0 381.3 L229.0 383.6 L230.0 385.8 L231.0 387.8 L232.0 389.7 L233.0 391.5 L234.0 393.1 L235.0 394.5 L236.0 395.8 L237.0 397.0 L238.0 398.2 L239.0 399.2 L240.0 400.2 L241.0 401.0 L242.0 401.8 L243.0 402.5 L244.0 403.1 L245.0 403.7 L246.0 404.2 L247.0 404.7 L248.0 405.1 L249.0 405.5 L250.0 405.9 L251.0 406.1 L252.0 406.4 L253.0 406.7 L254.0 407.0 L255.0 407.2 L256.0 407.4 L257.0 407.6 L258.0 407.8 L259.0 407.9 L260.0 408.0 L261.0 408.0 L262.0 408.0 L263.0 408.0 L264.0 408.0 L265.0 408.0 L266.0 408.0 L267.0 408.0 L268.0 408.0 L269.0 408.0 L270.0 408.0 L271.0 408.0 L272.0 408.0 L273.0 408.0 L274.0 408.0 L275.0 408.0 L276.0 408.0 L277.0 408.0 L278.0 407.9 L279.0 407.9 L280.0 407.8 L281.0 407.8 L282.0 407.7 L283.0 407.7 L284.0 407.6 L285.0 407.6 L286.0 407.5 L287.0 407.5 L288.0 407.5 L289.0 407.4 L290.0 407.4 L291.0 407.3 L292.0 407.3 L293.0 407.3 L294.0 407.2 L295.0 407.2 L296.0 407.1 L297.0 407.1 L298.0 407.0 L299.0 407.0 L300.0 406.9 L301.0 406.8 L302.0 406.7 L303.0 406.6 L304.0 406.5 L305.0 406.4 L306.0 406.3 L307.0 406.1 L308.0 405.9 L309.0 405.8 L310.0 405.6 L311.0 405.4 L312.0 405.1 L313.0 404.9 L314.0 404.5 L315.0 404.2 L316.0 403.8 L317.0 403.4 L318.0 403.0 L319.0 402.5 L320.0 402.1 L321.0 401.6 L322.0 401.2 L323.0 400.7 L324.0 400.3 L325.0 399.8 L326.0 399.4 L327.0 399.0 L328.0 398.6 L329.0 398.2 L330.0 397.8 L331.0 397.4 L332.0 397.1 L333.0 396.7 L334.0 396.4 L335.0 396.0 L336.0 395.6 L337.0 395.2 L338.0 394.8 L339.0 394.4 L340.0 394.0 L341.0 393.5 L342.0 393.1 L343.0 392.6 L344.0 392.2 L345.0 391.7 L346.0 391.2 L347.0 390.7 L348.0 390.2 L349.0 389.6 L350.0 389.1 L351.0 388.5 L352.0 387.9 L353.0 387.2 L354.0 386.6 L355.0 385.9 L356.0 385.1 L357.0 384.4 L358.0 383.6 L359.0 382.8 L360.0 382.0 L361.0 381.1 L362.0 380.2 L363.0 379.3 L364.0 378.4 L365.0 377.5 L366.0 376.5 L367.0 375.5 L368.0 374.3 L369.0 373.2 L370.0 372.1 L371.0 371.0 L372.0 370.0 L373.0 369.0 L374.0 368.1 L375.0 367.1 L376.0 366.2 L377.0 365.3 L378.0 364.4 L379.0 363.5 L380.0 362.7 L381.0 361.8 L382.0 361.0 L383.0 360.2 L384.0 359.4 L385.0 358.6 L386.0 357.8 L387.0 357.0 L388.0 356.2 L389.0 355.4 L390.0 354.7 L391.0 353.9 L392.0 353.2 L393.0 352.4 L394.0 351.8 L395.0 351.1 L396.0 350.5 L397.0 350.0 L398.0 349.5 L399.0 349.0 L400.0 348.6 L401.0 348.1 L402.0 347.7 L403.0 347.2 L404.0 346.8 L405.0 346.5 L406.0 346.1 L407.0 345.9 L408.0 345.7 L409.0 345.6 L410.0 345.6 L411.0 345.6 L412.0 345.7 L413.0 345.8 L414.0 345.9 L415.0 346.1 L416.0 346.3 L417.0 346.5 L418.0 346.7 L419.0 346.9 L420.0 347.2 L421.0 347.4 L422.0 347.7 L423.0 348.1 L424.0 348.6 L425.0 349.2 L426.0 349.9 L427.0 350.6 L428.0 351.4 L429.0 352.3 L430.0 353.2 L431.0 354.1 L432.0 355.0 L433.0 356.0 L434.0 357.0 L435.0 358.2 L436.0 359.5 L437.0 360.8 L438.0 362.2 L439.0 363.6 L440.0 365.2 L441.0 366.7 L442.0 368.4 L443.0 370.2 L444.0 372.2 L445.0 374.2 L446.0 376.3 L447.0 378.5 L448.0 380.7 L449.0 382.9 L450.0 385.2 L451.0 387.5 L452.0 390.0 L453.0 392.5 L454.0 395.0 L455.0 397.6 L456.0 400.3 L457.0 403.1 L458.0 405.9 L459.0 408.9 L460.0 411.9 L461.0 415.0 L462.0 418.1 L463.0 421.3 L464.0 424.5 L465.0 427.8 L466.0 431.1 L467.0 434.5 L468.0 438.0 L469.0 441.6 L470.0 445.2 L471.0 449.0 L472.0 452.9 L473.0 456.9 L474.0 460.9 L475.0 464.9 L476.0 468.7 L477.0 472.6 L478.0 476.4 L479.0 480.2 L480.0 483.8 L481.0 487.2 L482.0 490.4 L483.0 493.7 L484.0 497.1 L485.0 500.6 L486.0 504.2 L487.0 507.9 L488.0 511.7 L489.0 515.5 L490.0 519.4 L491.0 523.3 L492.0 527.2 L493.0 531.2 L494.0 535.3 L495.0 539.6 L496.0 544.1 L497.0 548.6 L498.0 553.3 L499.0 557.9 L500.0 562.5 L501.0 567.1 L502.0 571.7 L503.0 576.4 L504.0 581.0 L505.0 585.7 L506.0 590.4 L507.0 595.1 L508.0 599.6 L509.0 604.2 L510.0 608.7 L511.0 613.2 L512.0 617.6 L513.0 622.0 L514.0 626.2 L515.0 630.2 L516.0 634.1 L517.0 638.0 L518.0 642.0 L519.0 646.0 L520.0 650.1 L521.0 654.2 L522.0 658.3 L523.0 662.5 L524.0 666.8 L525.0 671.1 L526.0 675.5 L527.0 679.8 L528.0 684.4 L529.0 689.3 L530.0 694.9 L531.0 701.6 L532.0 708.6 L533.0 715.4 L534.0 722.5 L535.0 729.3 L536.0 735.0 L537.0 739.6 L538.0 743.8 L539.0 747.7 L540.0 751.2 L541.0 754.4 L542.0 757.3 L543.0 760.0 L544.0 762.3 L545.0 764.3 L546.0 766.1 L547.0 767.9 L548.0 770.0 L549.0 772.4 L550.0 774.9 L551.0 777.6 L552.0 780.4 L553.0 783.3 L554.0 786.2 L555.0 789.1 L556.0 792.0 L557.0 794.8 L558.0 797.5 L559.0 800.0 L560.0 802.4 L561.0 804.8 L562.0 807.3 L563.0 809.6 L564.0 812.0 L565.0 814.3 L566.0 816.6 L567.0 818.8 L568.0 820.9 L569.0 823.0 L570.0 824.9 L571.0 826.8 L572.0 828.6 L573.0 830.3 L574.0 832.0 L575.0 833.5 L576.0 835.1 L577.0 836.6 L578.0 838.0 L579.0 839.4 L580.0 840.8 L581.0 842.1 L582.0 843.4 L583.0 844.6 L584.0 845.8 L585.0 847.0 L586.0 848.1 L587.0 849.1 L588.0 850.1 L589.0 851.0 L590.0 852.0 L591.0 852.8 L592.0 853.7 L593.0 854.5 L594.0 855.3 L595.0 856.1 L596.0 856.8 L597.0 857.5 L598.0 858.3 L599.0 859.0 L600.0 859.7 L601.0 860.3 L602.0 861.0 L603.0 861.6 L604.0 862.3 L605.0 862.9 L606.0 863.5 L607.0 864.1 L608.0 864.6 L609.0 865.2 L610.0 865.8 L611.0 866.4 L612.0 867.0 L613.0 867.6 L614.0 868.0 L615.0 868.4 L616.0 868.8 L617.0 869.2 L618.0 869.5 L619.0 869.9 L620.0 870.2 L621.0 870.5 L622.0 870.8 L623.0 871.0 L624.0 871.3 L625.0 871.6 L626.0 871.9 L627.0 872.1 L628.0 872.4 L629.0 872.7 L630.0 872.9 L631.0 873.2 L632.0 873.4 L633.0 873.6 L634.0 873.9 L635.0 874.1 L636.0 874.3 L637.0 874.5 L638.0 874.7 L639.0 874.9 L640.0 875.1 L641.0 875.3 L642.0 875.4 L643.0 875.6 L644.0 875.7 L645.0 875.9 L646.0 876.0 L647.0 876.2 L648.0 876.3 L649.0 876.5 L650.0 876.6 L651.0 876.8 L652.0 876.9 L653.0 877.1 L654.0 877.3 L655.0 877.4 L656.0 877.6 L657.0 877.8 L658.0 877.9 L659.0 878.1 L660.0 878.3 L661.0 878.5 L662.0 878.6 L663.0 878.8 L664.0 879.0 L665.0 879.1 L666.0 879.3 L667.0 879.4 L668.0 879.6 L669.0 879.7 L670.0 879.9 L671.0 880.0 L672.0 880.1 L673.0 880.3 L674.0 880.4 L675.0 880.6 L676.0 880.8 L677.0 880.9 L678.0 881.1 L679.0 881.3 L680.0 881.5 L681.0 881.7 L682.0 881.9 L683.0 882.2 L684.0 882.4 L685.0 882.7 L686.0 883.0 L687.0 883.3 L688.0 883.6 L689.0 883.9 L690.0 884.2 L691.0 884.5 L692.0 884.9 L693.0 885.2 L694.0 885.5 L695.0 885.9 L696.0 886.2 L697.0 886.5 L698.0 886.8 L699.0 887.2 L700.0 887.5 L701.0 887.8 L702.0 888.1 L703.0 888.4 L704.0 888.7 L705.0 889.0 L706.0 889.3 L707.0 889.6 L708.0 889.9 L709.0 890.2 L710.0 890.6 L711.0 890.9 L712.0 891.2 L713.0 891.5 L714.0 891.9 L715.0 892.2 L716.0 892.6 L717.0 893.0 L718.0 893.4 L719.0 893.8 L720.0 894.3 L721.0 894.7 L722.0 895.2 L723.0 895.7 L724.0 896.3 L725.0 897.0 L726.0 897.7 L727.0 898.4 L728.0 899.2 L729.0 900.0 L730.0 900.8 L731.0 901.6 L732.0 902.4 L733.0 903.3 L734.0 904.2 L735.0 905.0 L736.0 905.9 L737.0 906.7 L738.0 907.5 L739.0 908.4 L740.0 909.2 L741.0 910.1 L742.0 911.0 L743.0 911.9 L744.0 912.8 L745.0 913.7 L746.0 914.7 L747.0 915.6 L748.0 916.5 L749.0 917.5 L750.0 918.4 L751.0 919.4 L752.0 920.3 L753.0 921.3 L754.0 922.3 L755.0 923.3 L756.0 924.3 L757.0 925.3 L758.0 926.3 L759.0 927.3 L760.0 928.3 L761.0 929.4 L762.0 930.4 L763.0 931.5 L764.0 932.5 L765.0 933.5 L766.0 934.5 L767.0 935.5 L768.0 936.5 L769.0 937.5 L770.0 938.5 L771.0 939.5 L772.0 940.5 L773.0 941.5 L774.0 942.5 L775.0 943.5 L776.0 944.5 L777.0 945.5 L778.0 946.4 L779.0 947.4 L780.0 948.3 L781.0 949.2 L782.0 950.0 L783.0 950.8 L784.0 951.6 L785.0 952.3 L786.0 953.0 L787.0 953.7 L788.0 954.4 L789.0 955.1 L790.0 955.7 L791.0 956.4 L792.0 957.0 L793.0 957.6 L794.0 958.2 L795.0 958.7 L796.0 959.3 L797.0 959.8 L798.0 960.3 L799.0 960.8 L800.0 961.2 L801.0 961.7 L802.0 962.1 L803.0 962.5 L804.0 962.8 L805.0 963.2 L806.0 963.6 L807.0 963.9 L808.0 964.2 L809.0 964.6 L810.0 964.9 L811.0 965.2 L812.0 965.5 L813.0 965.9 L814.0 966.2 L815.0 966.5 L816.0 966.8 L817.0 967.1 L818.0 967.4 L819.0 967.7 L820.0 968.0 L821.0 968.2 L822.0 968.5 L823.0 968.8 L824.0 969.1 L825.0 969.4 L826.0 969.7 L827.0 970.1 L828.0 970.4 L829.0 970.8 L830.0 971.2 L831.0 971.6 L832.0 972.1 L833.0 972.5 L834.0 973.0 L835.0 973.4 L836.0 973.9 L837.0 974.4 L838.0 974.9 L839.0 975.4 L840.0 975.9 L841.0 976.4 L842.0 976.8 L843.0 977.3 L844.0 977.8 L845.0 978.3 L846.0 978.8 L847.0 979.2 L848.0 979.7 L849.0 980.1 L850.0 980.5 L851.0 980.9 L852.0 981.3 L853.0 981.7 L854.0 982.2 L855.0 982.6 L856.0 983.0 L857.0 983.4 L858.0 983.8 L859.0 984.2 L860.0 984.6 L861.0 985.0 L862.0 985.4 L863.0 985.8 L864.0 986.1 L865.0 986.5 L866.0 986.8 L867.0 987.1 L868.0 987.4 L869.0 987.7 L870.0 988.0 L871.0 988.3 L872.0 988.5 L873.0 988.7 L874.0 989.0 L875.0 989.2 L876.0 989.4 L877.0 989.6 L878.0 989.9 L879.0 990.1 L880.0 990.3 L881.0 990.5 L882.0 990.7 L883.0 990.9 L884.0 991.1 L885.0 991.2 L886.0 991.4 L887.0 991.6 L888.0 991.8 L889.0 991.9 L890.0 992.1 L891.0 992.3 L892.0 992.4 L893.0 992.6 L894.0 992.8 L895.0 992.9 L896.0 993.1 L897.0 993.3 L898.0 993.4 L899.0 993.6 L900.0 993.7 L901.0 993.9 L902.0 994.0 L903.0 994.2 L904.0 994.3 L905.0 994.5 L906.0 994.7 L907.0 994.8 L908.0 995.0 L909.0 995.1 L910.0 995.3 L911.0 995.4 L912.0 995.5 L913.0 995.7 L914.0 995.8 L915.0 996.0 L916.0 996.1 L917.0 996.2 L918.0 996.4 L919.0 996.5 L920.0 996.6 L921.0 996.8 L922.0 996.9 L923.0 997.0 L924.0 997.2 L925.0 997.3 L926.0 997.4 L927.0 997.5 L928.0 997.7 L929.0 997.8 L930.0 997.9 L931.0 998.0 L932.0 998.2 L933.0 998.3 L934.0 998.4 L935.0 998.5 L936.0 998.7 L937.0 998.8 L938.0 998.9 L939.0 999.0 L940.0 999.2 L941.0 999.3 L942.0 999.4 L943.0 999.5 L944.0 999.7 L945.0 999.8 L946.0 999.9 L947.0 1000.1 L948.0 1000.2 L949.0 1000.3 L950.0 1000.5 L951.0 1000.6 L952.0 1000.8 L953.0 1000.9 L954.0 1001.0 L955.0 1001.2 L956.0 1001.3 L957.0 1001.5 L958.0 1001.6 L959.0 1001.8 L960.0 1001.9 L961.0 1002.1 L962.0 1002.3 L963.0 1002.4 L964.0 1002.6 L965.0 1002.7 L966.0 1002.9 L967.0 1003.1 L968.0 1003.2 L969.0 1003.4 L970.0 1003.6 L971.0 1003.7 L972.0 1003.9 L973.0 1004.1 L974.0 1004.2 L975.0 1004.4 L976.0 1004.6 L977.0 1004.7 L978.0 1004.9 L979.0 1005.1 L980.0 1005.2 L981.0 1005.4 L982.0 1005.5 L983.0 1005.7 L984.0 1005.8 L985.0 1006.0 L986.0 1006.1 L987.0 1006.3 L988.0 1006.4 L989.0 1006.6 L990.0 1006.7 L991.0 1006.9 L992.0 1007.0 L993.0 1007.1 L994.0 1007.3 L995.0 1007.4 L996.0 1007.5 L997.0 1007.6 L998.0 1007.8 L999.0 1007.9 L1000.0 1008.0 L1001.0 1008.1 L1002.0 1008.2 L1003.0 1008.3 L1004.0 1008.4 L1005.0 1008.5 L1006.0 1008.7 L1007.0 1008.8 L1008.0 1008.9 L1009.0 1009.0 L1010.0 1009.1 L1011.0 1009.2 L1012.0 1009.3 L1013.0 1009.4 L1014.0 1009.6 L1015.0 1009.7 L1016.0 1009.8 L1017.0 1009.9 L1018.0 1010.0 L1019.0 1010.2 L1020.0 1010.3 L1021.0 1010.4 L1022.0 1010.6 L1023.0 1010.7 L1024.0 1010.9 L1025.0 1011.0 L1026.0 1011.2 L1027.0 1011.3 L1028.0 1011.5 L1029.0 1011.6 L1030.0 1011.8 L1031.0 1011.9 L1032.0 1012.1 L1033.0 1012.3 L1034.0 1012.4 L1035.0 1012.6 L1036.0 1012.7 L1037.0 1012.9 L1038.0 1013.1 L1039.0 1013.2 L1040.0 1013.4 L1041.0 1013.5 L1042.0 1013.7 L1043.0 1013.8 L1044.0 1014.0 L1045.0 1014.1 L1046.0 1014.3 L1047.0 1014.4 L1048.0 1014.5 L1049.0 1014.7 L1050.0 1014.8 L1051.0 1014.9 L1052.0 1015.0 L1053.0 1015.2 L1054.0 1015.3 L1055.0 1015.4 L1056.0 1015.5 L1057.0 1015.6 L1058.0 1015.7 L1059.0 1015.8 L1060.0 1015.9 L1061.0 1016.0 L1062.0 1016.1 L1063.0 1016.1 L1064.0 1016.2 L1065.0 1016.3 L1066.0 1016.4 L1067.0 1016.5 L1068.0 1016.6 L1069.0 1016.8 L1070.0 1016.9 L1071.0 1017.0 L1072.0 1017.1 L1073.0 1017.2 L1074.0 1017.4 L1075.0 1017.5 L1076.0 1017.6 L1077.0 1017.8 L1078.0 1018.0 L1079.0 1018.1 L1080.0 1018.3 L1081.0 1018.5 L1082.0 1018.7 L1083.0 1018.8 L1084.0 1019.0 L1085.0 1019.2 L1086.0 1019.4 L1087.0 1019.6 L1088.0 1019.9 L1089.0 1020.1 L1090.0 1020.3 L1091.0 1020.5 L1092.0 1020.7 L1093.0 1021.0 L1094.0 1021.2 L1095.0 1021.4 L1096.0 1021.6 L1097.0 1021.9 L1098.0 1022.1 L1099.0 1022.3 L1100.0 1022.5 L1101.0 1022.8 L1102.0 1023.0 L1103.0 1023.2 L1104.0 1023.5 L1105.0 1023.7 L1106.0 1023.9 L1107.0 1024.2 L1108.0 1024.4 L1109.0 1024.7 L1110.0 1024.9 L1111.0 1025.2 L1112.0 1025.4 L1113.0 1025.7 L1114.0 1026.0 L1115.0 1026.2 L1116.0 1026.5 L1117.0 1026.7 L1118.0 1027.0 L1119.0 1027.2 L1120.0 1027.5 L1121.0 1027.8 L1122.0 1028.0 L1123.0 1028.3 L1124.0 1028.5 L1125.0 1028.8 L1126.0 1029.1 L1127.0 1029.3 L1128.0 1029.6 L1129.0 1029.8 L1130.0 1030.1 L1131.0 1030.4 L1132.0 1030.6 L1133.0 1030.9 L1134.0 1031.2 L1135.0 1031.4 L1136.0 1031.7 L1137.0 1032.0 L1138.0 1032.2 L1139.0 1032.5 L1140.0 1032.7 L1141.0 1033.0 L1142.0 1033.3 L1143.0 1033.6 L1144.0 1033.9 L1145.0 1034.2 L1146.0 1034.5 L1147.0 1034.8 L1148.0 1035.1 L1149.0 1035.4 L1150.0 1035.7 L1151.0 1035.9 L1152.0 1036.1 L1153.0 1036.2 L1154.0 1036.3 L1155.0 1036.3 L1156.0 1036.4 L1157.0 1036.4 L1158.0 1036.4 L1159.0 1036.5 L1160.0 1036.5 L1161.0 1036.6 L1162.0 1036.8 L1163.0 1037.2 L1164.0 1037.5 L1165.0 1037.9 L1166.0 1038.3 L1167.0 1038.7 L1168.0 1039.0 L1169.0 1039.3 L1170.0 1039.5 L1171.0 1039.6 L1172.0 1039.7 L1173.0 1039.9 L1174.0 1040.0 L1175.0 1040.1 L1176.0 1040.1 L1177.0 1040.2 L1178.0 1040.3 L1179.0 1040.3 L1180.0 1040.3 L1181.0 1040.3 L1182.0 1040.3 L1183.0 1040.3 L1184.0 1040.3 L1185.0 1040.3 L1186.0 1040.3 L1187.0 1040.3 L1188.0 1040.3 L1189.0 1040.3 L1190.0 1040.2 L1191.0 1040.2 L1192.0 1040.2 L1193.0 1040.2 L1194.0 1040.2 L1195.0 1040.2 L1196.0 1040.2 L1197.0 1040.2 L1198.0 1040.2 L1199.0 1040.1 L1200.0 1040.1 L1201.0 1040.1 L1202.0 1040.1 L1203.0 1040.1 L1204.0 1040.1 L1205.0 1040.0 L1206.0 1040.0 L1207.0 1040.0 L1208.0 1040.0 L1209.0 1040.0 L1210.0 1040.0 L1211.0 1040.0 L1212.0 1039.9 L1213.0 1039.9 L1214.0 1039.9 L1215.0 1039.9 L1216.0 1039.9 L1217.0 1039.9 L1218.0 1039.9 L1219.0 1039.9 L1220.0 1039.9 L1221.0 1039.8 L1222.0 1039.8 L1223.0 1039.8 L1224.0 1039.8 L1225.0 1039.8 L1226.0 1039.8 L1227.0 1039.8 L1228.0 1039.8 L1229.0 1039.8 L1230.0 1039.8 L1231.0 1039.8 L1232.0 1039.8 L1233.0 1039.8 L1234.0 1039.8 L1235.0 1039.8 L1236.0 1039.8 L1237.0 1039.8 L1238.0 1039.8 L1239.0 1039.8 L1240.0 1039.8 L1241.0 1039.8 L1242.0 1039.9 L1243.0 1039.9 L1244.0 1039.9 L1245.0 1039.9 L1246.0 1039.9 L1247.0 1039.9 L1248.0 1039.9 L1249.0 1039.9 L1250.0 1039.9 L1251.0 1039.9 L1252.0 1039.9 L1253.0 1040.0 L1254.0 1040.0 L1255.0 1040.0 L1256.0 1040.0 L1257.0 1040.0 L1258.0 1040.0 L1259.0 1040.0 L1260.0 1040.0 L1261.0 1040.1 L1262.0 1040.1 L1263.0 1040.1 L1264.0 1040.1 L1265.0 1040.1 L1266.0 1040.1 L1267.0 1040.1 L1268.0 1040.1 L1269.0 1040.2 L1270.0 1040.2 L1271.0 1040.2 L1272.0 1040.2 L1273.0 1040.2 L1274.0 1040.2 L1275.0 1040.2 L1276.0 1040.2 L1277.0 1040.2 L1278.0 1040.2 L1279.0 1040.2 L1280.0 1040.3 L1281.0 1040.3 L1282.0 1040.3 L1283.0 1040.3 L1284.0 1040.3 L1285.0 1040.3 L1286.0 1040.3 L1287.0 1040.3 L1288.0 1040.3 L1289.0 1040.3 L1290.0 1040.3 L1291.0 1040.3 L1292.0 1040.2 L1293.0 1040.1 L1294.0 1039.8 L1295.0 1039.5 L1296.0 1039.1 L1297.0 1038.8 L1298.0 1038.4 L1299.0 1038.1 L1300.0 1037.9 L1301.0 1037.8 L1302.0 1037.8 L1303.0 1037.9 L1304.0 1038.2 L1305.0 1038.4 L1306.0 1038.8 L1307.0 1039.1 L1308.0 1039.5 L1309.0 1039.9 L1310.0 1040.2 L1311.0 1040.5 L1312.0 1040.8 L1313.0 1040.9 L1314.0 1041.0 L1315.0 1041.0 L1316.0 1041.0 L1317.0 1041.0 L1318.0 1041.0 L1319.0 1041.0 L1320.0 1041.0 L1321.0 1041.0 L1322.0 1041.0 L1323.0 1041.0 L1324.0 1041.0 L1325.0 1041.0 L1326.0 1041.0 L1327.0 1041.0 L1328.0 1041.0 L1329.0 1041.0 L1330.0 1041.0 L1331.0 1041.0 L1332.0 1041.0 L1333.0 1041.0 L1334.0 1041.0 L1335.0 1041.0 L1336.0 1041.0 L1337.0 1041.0 L1338.0 1041.0 L1339.0 1041.0 L1340.0 1041.0 L1341.0 1041.0 L1342.0 1041.0 L1343.0 1041.0 L1344.0 1041.0 L1345.0 1041.0 L1346.0 1041.0 L1347.0 1041.0 L1348.0 1041.0 L1349.0 1041.0 L1350.0 1041.0 L1351.0 1041.0 L1352.0 1041.0 L1353.0 1041.0 L1354.0 1041.0 L1355.0 1041.0 L1356.0 1041.0 L1357.0 1041.0 L1358.0 1041.0 L1359.0 1041.0 L1360.0 1041.0 L1361.0 1041.0 L1362.0 1041.0 L1363.0 1041.0 L1364.0 1041.0 L1365.0 1041.0 L1366.0 1041.0 L1367.0 1041.0 L1368.0 1041.0 L1369.0 1041.0 L1370.0 1041.0 L1371.0 1041.0 L1372.0 1041.0 L1373.0 1041.0 L1374.0 1041.0 L1375.0 1041.0 L1376.0 1041.0 L1377.0 1041.0 L1378.0 1041.0 L1379.0 1041.0 L1380.0 1041.0 L1381.0 1041.0 L1382.0 1041.0 L1383.0 1041.0 L1384.0 1041.0 L1385.0 1041.0 L1386.0 1041.0 L1387.0 1041.0 L1388.0 1041.0 L1389.0 1041.0 L1390.0 1041.0 L1391.0 1041.0 L1392.0 1041.0 L1393.0 1041.0 L1394.0 1041.0 L1395.0 1041.0 L1396.0 1041.0 L1397.0 1041.0 L1398.0 1041.0 L1399.0 1041.0 L1400.0 1041.0 L1401.0 1041.0 L1402.0 1041.0 L1403.0 1041.0 L1404.0 1041.0 L1405.0 1041.0 L1406.0 1041.0 L1407.0 1041.0 L1408.0 1041.0 L1409.0 1041.0 L1410.0 1041.0 L1411.0 1041.0 L1412.0 1041.0 L1413.0 1041.0 L1414.0 1041.0 L1415.0 1041.0 L1416.0 1041.0 L1417.0 1041.0 L1418.0 1041.0 L1419.0 1041.0 L1420.0 1041.0 L1421.0 1041.0 L1422.0 1041.0 L1423.0 1041.0 L1424.0 1041.0 L1425.0 1041.0 L1426.0 1041.0 L1427.0 1041.0 L1428.0 1041.0 L1429.0 1041.0 L1430.0 1041.0 L1431.0 1041.0 L1432.0 1041.0 L1433.0 1041.0 L1434.0 1041.0 L1435.0 1041.0 L1436.0 1041.0 L1437.0 1041.0 L1438.0 1041.0 L1439.0 1041.0 L1440.0 1041.0 L1441.0 1041.0 L1442.0 1041.0 L1443.0 1041.0 L1444.0 1041.0 L1445.0 1041.0 L1446.0 1041.0 L1447.0 1041.0 L1448.0 1041.0 L1449.0 1041.0 L1450.0 1041.0 L1451.0 1041.0 L1452.0 1041.0 L1453.0 1041.0 L1454.0 1041.0 L1455.0 1041.0 L1456.0 1041.0 L1457.0 1041.0 L1458.0 1041.0 L1459.0 1041.0 L1460.0 1041.0 L1461.0 1041.0 L1462.0 1041.0 L1463.0 1041.0 L1464.0 1041.0 L1465.0 1041.0 L1466.0 1041.0 L1467.0 1041.0 L1468.0 1041.0 L1469.0 1041.0 L1470.0 1041.0 L1471.0 1041.0 L1472.0 1041.0 L1473.0 1041.0 L1474.0 1041.0 L1475.0 1041.0 L1476.0 1041.0 L1477.0 1041.0 L1478.0 1041.0 L1479.0 1041.0 L1480.0 1041.0 L1481.0 1041.0 L1482.0 1041.0 L1483.0 1041.0 L1484.0 1041.0 L1485.0 1041.0 L1486.0 1041.0 L1487.0 1041.0 L1488.0 1041.0 L1489.0 1041.0 L1490.0 1041.0 L1491.0 1041.0 L1492.0 1041.0 L1493.0 1041.0 L1494.0 1041.0 L1495.0 1041.0 L1496.0 1041.0 L1497.0 1041.0 L1498.0 1041.0 L1499.0 1041.0 L1500.0 1041.0 L1501.0 1041.0 L1502.0 1041.0 L1503.0 1041.0 L1504.0 1041.0 L1505.0 1041.0 L1506.0 1041.0 L1507.0 1041.0 L1508.0 1041.0 L1509.0 1041.0 L1510.0 1041.0 L1511.0 1041.0 L1512.0 1041.0 L1513.0 1041.0 L1514.0 1041.0 L1515.0 1041.0 L1516.0 1041.0 L1517.0 1041.0 L1518.0 1041.0 L1519.0 1041.0 L1520.0 1041.0 L1521.0 1041.0 L1522.0 1041.0 L1523.0 1041.0 L1524.0 1041.0 L1525.0 1041.0 L1526.0 1041.0 L1527.0 1041.0 L1528.0 1041.0 L1529.0 1041.0 L1530.0 1041.0 L1531.0 1041.0 L1532.0 1041.0 L1533.0 1041.0 L1534.0 1041.0 L1535.0 1041.0 L1536.0 1041.0 L1537.0 1041.0 L1538.0 1041.0 L1539.0 1041.0 L1540.0 1041.0 L1541.0 1041.0 L1542.0 1041.0 L1543.0 1041.0 L1544.0 1041.0 L1545.0 1041.0 L1546.0 1041.0"/>
<path class="c" stroke="#0000ff" d="M158.0 48.8 L159.0 48.9 L160.0 49.1 L161.0 49.4 L162.0 49.7 L163.0 50.1 L164.0 50.5 L165.0 51.0 L166.0 51.5 L167.0 52.1 L168.0 52.8 L169.0 53.6 L170.0 54.6 L171.0 55.8 L172.0 57.4 L173.0 60.4 L174.0 64.2 L175.0 68.0 L176.0 71.8 L177.0 75.8 L178.0 80.0 L179.0 84.6 L180.0 89.4 L181.0 94.1 L182.0 98.4 L183.0 102.4 L184.0 106.2 L185.0 110.1 L186.0 113.9 L187.0 118.0 L188.0 122.3 L189.0 126.9 L190.0 131.7 L191.0 136.7 L192.0 141.7 L193.0 146.9 L194.0 152.1 L195.0 157.4 L196.0 162.8 L197.0 168.6 L198.0 174.9 L199.0 182.0 L200.0 189.5 L201.0 197.4 L202.0 205.3 L203.0 212.6 L204.0 219.0 L205.0 224.5 L206.0 229.6 L207.0 234.4 L208.0 238.9 L209.0 243.2 L210.0 247.4 L211.0 251.5 L212.0 255.5 L213.0 259.7 L214.0 263.8 L215.0 267.9 L216.0 272.0 L217.0 275.8 L218.0 279.4 L219.0 282.8 L220.0 285.8 L221.0 288.6 L222.0 291.1 L223.0 293.6 L224.0 295.8 L225.0 298.0 L226.0 300.0 L227.0 302.0 L228.0 303.8 L229.0 305.6 L230.0 307.3 L231.0 308.9 L232.0 310.3 L233.0 311.8 L234.0 313.2 L235.0 314.5 L236.0 315.8 L237.0 317.1 L238.0 318.3 L239.0 319.4 L240.0 320.4 L241.0 321.3 L242.0 322.1 L243.0 322.8 L244.0 323.5 L245.0 324.1 L246.0 324.6 L247.0 325.2 L248.0 325.7 L249.0 326.2 L250.0 326.7 L251.0 327.2 L252.0 327.8 L253.0 328.4 L254.0 329.1 L255.0 329.9 L256.0 330.7 L257.0 331.6 L258.0 332.5 L259.0 333.5 L260.0 334.5 L261.0 335.5 L262.0 336.5 L263.0 337.5 L264.0 338.5 L265.0 339.5 L266.0 340.5 L267.0 341.4 L268.0 342.4 L269.0 343.4 L270.0 344.4 L271.0 345.4 L272.0 346.4 L273.0 347.4 L274.0 348.5 L275.0 349.6 L276.0 350.6 L277.0 351.7 L278.0 352.8 L279.0 353.9 L280.0 355.0 L281.0 356.2 L282.0 357.3 L283.0 358.5 L284.0 359.7 L285.0 361.0 L286.0 362.2 L287.0 363.5 L288.0 364.9 L289.0 366.3 L290.0 367.8 L291.0 369.3 L292.0 370.9 L293.0 372.4 L294.0 373.9 L295.0 375.5 L296.0 377.0 L297.0 378.6 L298.0 380.2 L299.0 381.8 L300.0 383.4 L301.0 384.8 L302.0 386.2 L303.0 387.4 L304.0 388.5 L305.0 389.6 L306.0 390.7 L307.0 391.7 L308.0 392.6 L309.0 393.6 L310.0 394.4 L311.0 395.2 L312.0 396.0 L313.0 396.7 L314.0 397.4 L315.0 398.1 L316.0 398.8 L317.0 399.4 L318.0 400.0 L319.0 400.6 L320.0 401.1 L321.0 401.6 L322.0 402.0 L323.0 402.4 L324.0 402.7 L325.0 403.0 L326.0 403.3 L327.0 403.5 L328.0 403.8 L329.0 404.0 L330.0 404.3 L331.0 404.6 L332.0 404.9 L333.0 405.3 L334.0 405.7 L335.0 406.2 L336.0 406.7 L337.0 407.2 L338.0 407.6 L339.0 408.1 L340.0 408.4 L341.0 408.7 L342.0 408.9 L343.0 409.1 L344.0 409.3 L345.0 409.4 L346.0 409.6 L347.0 409.7 L348.0 409.8 L349.0 409.9 L350.0 410.0 L351.0 410.0 L352.0 410.0 L353.0 410.0 L354.0 410.0 L355.0 409.9 L356.0 409.8 L357.0 409.8 L358.0 409.7 L359.0 409.6 L360.0 409.5 L361.0 409.3 L362.0 409.2 L363.0 409.1 L364.0 408.9 L365.0 408.8 L366.0 408.6 L367.0 408.3 L368.0 408.0 L369.0 407.6 L370.0 407.2 L371.0 406.8 L372.0 406.2 L373.0 405.7 L374.0 405.1 L375.0 404.5 L376.0 403.9 L377.0 403.2 L378.0 402.6 L379.0 402.0 L380.0 401.3 L381.0 400.7 L382.0 400.2 L383.0 399.6 L384.0 399.0 L385.0 398.5 L386.0 397.9 L387.0 397.3 L388.0 396.7 L389.0 396.1 L390.0 395.5 L391.0 394.9 L392.0 394.4 L393.0 393.8 L394.0 393.3 L395.0 392.9 L396.0 392.4 L397.0 392.0 L398.0 391.7 L399.0 391.4 L400.0 391.1 L401.0 390.7 L402.0 390.4 L403.0 390.1 L404.0 389.8 L405.0 389.6 L406.0 389.4 L407.0 389.2 L408.0 389.1 L409.0 389.0 L410.0 389.0 L411.0 389.0 L412.0 389.1 L413.0 389.1 L414.0 389.2 L415.0 389.4 L416.0 389.5 L417.0 389.6 L418.0 389.8 L419.0 390.0 L420.0 390.1 L421.0 390.3 L422.0 390.6 L423.0 390.9 L424.0 391.3 L425.0 391.7 L426.0 392.2 L427.0 392.8 L428.0 393.4 L429.0 394.1 L430.0 394.7 L431.0 395.4 L432.0 396.2 L433.0 397.0 L434.0 397.9 L435.0 398.8 L436.0 399.9 L437.0 401.0 L438.0 402.1 L439.0 403.4 L440.0 404.7 L441.0 406.2 L442.0 407.8 L443.0 409.6 L444.0 411.6 L445.0 413.6 L446.0 415.6 L447.0 417.7 L448.0 419.8 L449.0 422.0 L450.0 424.3 L451.0 426.6 L452.0 429.1 L453.0 431.5 L454.0 434.0 L455.0 436.5 L456.0 439.0 L457.0 441.6 L458.0 444.1 L459.0 446.8 L460.0 449.4 L461.0 452.1 L462.0 454.8 L463.0 457.6 L464.0 460.3 L465.0 463.1 L466.0 465.9 L467.0 468.8 L468.0 471.7 L469.0 474.8 L470.0 477.9 L471.0 481.3 L472.0 484.8 L473.0 488.4 L474.0 492.0 L475.0 495.5 L476.0 498.9 L477.0 502.0 L478.0 505.1 L479.0 508.1 L480.0 511.0 L481.0 513.9 L482.0 516.9 L483.0 519.9 L484.0 522.9 L485.0 525.9 L486.0 528.8 L487.0 531.9 L488.0 535.0 L489.0 538.3 L490.0 541.8 L491.0 545.3 L492.0 548.9 L493.0 552.6 L494.0 556.4 L495.0 560.2 L496.0 564.2 L497.0 568.3 L498.0 572.4 L499.0 576.4 L500.0 580.2 L501.0 583.7 L502.0 587.2 L503.0 590.6 L504.0 594.1 L505.0 597.6 L506.0 601.3 L507.0 604.9 L508.0 608.6 L509.0 612.5 L510.0 616.4 L511.0 620.5 L512.0 624.8 L513.0 629.1 L514.0 633.5 L515.0 637.9 L516.0 642.1 L517.0 646.2 L518.0 650.3 L519.0 654.4 L520.0 658.5 L521.0 662.8 L522.0 667.2 L523.0 671.9 L524.0 676.7 L525.0 681.5 L526.0 686.3 L527.0 690.9 L528.0 695.6 L529.0 700.2 L530.0 704.7 L531.0 709.0 L532.0 713.1 L533.0 716.9 L534.0 720.7 L535.0 724.4 L536.0 728.0 L537.0 731.7 L538.0 735.5 L539.0 739.1 L540.0 742.4 L541.0 745.0 L542.0 747.1 L543.0 748.8 L544.0 750.3 L545.0 751.7 L546.0 753.0 L547.0 754.2 L548.0 755.6 L549.0 757.2 L550.0 759.0 L551.0 761.2 L552.0 764.1 L553.0 767.2 L554.0 770.0 L555.0 772.4 L556.0 774.8 L557.0 777.1 L558.0 779.3 L559.0 781.5 L560.0 783.7 L561.0 785.7 L562.0 787.7 L563.0 789.7 L564.0 791.6 L565.0 793.4 L566.0 795.2 L567.0 796.9 L568.0 798.6 L569.0 800.2 L570.0 801.7 L571.0 803.2 L572.0 804.7 L573.0 806.2 L574.0 807.6 L575.0 809.0 L576.0 810.4 L577.0 811.7 L578.0 813.0 L579.0 814.3 L580.0 815.6 L581.0 816.9 L582.0 818.1 L583.0 819.3 L584.0 820.4 L585.0 821.6 L586.0 822.7 L587.0 823.8 L588.0 824.9 L589.0 826.0 L590.0 827.0 L591.0 828.0 L592.0 829.0 L593.0 830.0 L594.0 830.9 L595.0 831.8 L596.0 832.7 L597.0 833.5 L598.0 834.3 L599.0 835.0 L600.0 835.8 L601.0 836.5 L602.0 837.1 L603.0 837.8 L604.0 838.4 L605.0 839.1 L606.0 839.7 L607.0 840.3 L608.0 840.9 L609.0 841.5 L610.0 842.1 L611.0 842.7 L612.0 843.3 L613.0 843.9 L614.0 844.5 L615.0 845.1 L616.0 845.7 L617.0 846.3 L618.0 846.9 L619.0 847.4 L620.0 848.0 L621.0 848.5 L622.0 849.1 L623.0 849.6 L624.0 850.1 L625.0 850.5 L626.0 851.0 L627.0 851.4 L628.0 851.8 L629.0 852.2 L630.0 852.6 L631.0 852.9 L632.0 853.3 L633.0 853.6 L634.0 853.9 L635.0 854.3 L636.0 854.6 L637.0 854.9 L638.0 855.3 L639.0 855.6 L640.0 856.0 L641.0 856.3 L642.0 856.7 L643.0 857.1 L644.0 857.6 L645.0 858.1 L646.0 858.6 L647.0 859.2 L648.0 859.7 L649.0 860.4 L650.0 861.0 L651.0 861.6 L652.0 862.3 L653.0 862.9 L654.0 863.6 L655.0 864.2 L656.0 864.8 L657.0 865.4 L658.0 866.0 L659.0 866.5 L660.0 867.0 L661.0 867.5 L662.0 867.9 L663.0 868.4 L664.0 868.8 L665.0 869.3 L666.0 869.7 L667.0 870.1 L668.0 870.5 L669.0 870.9 L670.0 871.3 L671.0 871.6 L672.0 872.0 L673.0 872.3 L674.0 872.7 L675.0 873.0 L676.0 873.3 L677.0 873.6 L678.0 873.9 L679.0 874.2 L680.0 874.4 L681.0 874.7 L682.0 874.9 L683.0 875.2 L684.0 875.4 L685.0 875.7 L686.0 875.9 L687.0 876.2 L688.0 876.4 L689.0 876.7 L690.0 877.0 L691.0 877.3 L692.0 877.6 L693.0 877.9 L694.0 878.2 L695.0 878.5 L696.0 878.8 L697.0 879.1 L698.0 879.4 L699.0 879.7 L700.0 880.1 L701.0 880.4 L702.0 880.8 L703.0 881.2 L704.0 881.6 L705.0 882.0 L706.0 882.5 L707.0 883.0 L708.0 883.6 L709.0 884.3 L710.0 885.0 L711.0 885.8 L712.0 886.6 L713.0 887.4 L714.0 888.3 L715.0 889.2 L716.0 890.1 L717.0 891.0 L718.0 891.9 L719.0 892.8 L720.0 893.7 L721.0 894.5 L722.0 895.3 L723.0 896.1 L724.0 896.9 L725.0 897.7 L726.0 898.5 L727.0 899.3 L728.0 900.1 L729.0 901.0 L730.0 901.8 L731.0 902.6 L732.0 903.4 L733.0 904.2 L734.0 905.1 L735.0 905.9 L736.0 906.7 L737.0 907.6 L738.0 908.5 L739.0 909.3 L740.0 910.2 L741.0 911.1 L742.0 912.0 L743.0 913.0 L744.0 913.9 L745.0 914.8 L746.0 915.7 L747.0 916.7 L748.0 917.6 L749.0 918.5 L750.0 919.5 L751.0 920.4 L752.0 921.3 L753.0 922.3 L754.0 923.2 L755.0 924.2 L756.0 925.2 L757.0 926.2 L758.0 927.1 L759.0 928.1 L760.0 929.1 L761.0 930.1 L762.0 931.1 L763.0 932.1 L764.0 933.0 L765.0 934.0 L766.0 934.9 L767.0 935.8 L768.0 936.7 L769.0 937.6 L770.0 938.5 L771.0 939.4 L772.0 940.2 L773.0 941.1 L774.0 941.9 L775.0 942.8 L776.0 943.6 L777.0 944.4 L778.0 945.2 L779.0 946.0 L780.0 946.8 L781.0 947.5 L782.0 948.2 L783.0 948.9 L784.0 949.6 L785.0 950.2 L786.0 950.8 L787.0 951.5 L788.0 952.1 L789.0 952.6 L790.0 953.2 L791.0 953.8 L792.0 954.3 L793.0 954.9 L794.0 955.4 L795.0 955.9 L796.0 956.4 L797.0 956.9 L798.0 957.3 L799.0 957.8 L800.0 958.2 L801.0 958.6 L802.0 959.0 L803.0 959.4 L804.0 959.8 L805.0 960.1 L806.0 960.5 L807.0 960.8 L808.0 961.2 L809.0 961.5 L810.0 961.8 L811.0 962.2 L812.0 962.5 L813.0 962.8 L814.0 963.2 L815.0 963.5 L816.0 963.8 L817.0 964.2 L818.0 964.5 L819.0 964.8 L820.0 965.1 L821.0 965.4 L822.0 965.8 L823.0 966.1 L824.0 966.4 L825.0 966.8 L826.0 967.2 L827.0 967.6 L828.0 968.0 L829.0 968.5 L830.0 969.0 L831.0 969.5 L832.0 970.1 L833.0 970.6 L834.0 971.2 L835.0 971.8 L836.0 972.4 L837.0 973.1 L838.0 973.7 L839.0 974.3 L840.0 975.0 L841.0 975.6 L842.0 976.3 L843.0 976.9 L844.0 977.5 L845.0 978.1 L846.0 978.7 L847.0 979.3 L848.0 979.9 L849.0 980.5 L850.0 981.0 L851.0 981.5 L852.0 982.1 L853.0 982.7 L854.0 983.3 L855.0 983.9 L856.0 984.5 L857.0 985.1 L858.0 985.7 L859.0 986.3 L860.0 986.9 L861.0 987.5 L862.0 988.0 L863.0 988.5 L864.0 988.9 L865.0 989.3 L866.0 989.7 L867.0 990.0 L868.0 990.2 L869.0 990.4 L870.0 990.5 L871.0 990.6 L872.0 990.6 L873.0 990.7 L874.0 990.7 L875.0 990.8 L876.0 990.8 L877.0 990.8 L878.0 990.9 L879.0 990.9 L880.0 991.0 L881.0 991.0 L882.0 991.0 L883.0 991.1 L884.0 991.1 L885.0 991.1 L886.0 991.2 L887.0 991.2 L888.0 991.2 L889.0 991.3 L890.0 991.3 L891.0 991.3 L892.0 991.3 L893.0 991.3 L894.0 991.4 L895.0 991.4 L896.0 991.4 L897.0 991.4 L898.0 991.4 L899.0 991.5 L900.0 991.5 L901.0 991.5 L902.0 991.5 L903.0 991.5 L904.0 991.5 L905.0 991.6 L906.0 991.6 L907.0 991.6 L908.0 991.6 L909.0 991.6 L910.0 991.6 L911.0 991.6 L912.0 991.6 L913.0 991.7 L914.0 991.7 L915.0 991.7 L916.0 991.7 L917.0 991.7 L918.0 991.7 L919.0 991.7 L920.0 991.7 L921.0 991.7 L922.0 991.8 L923.0 991.8 L924.0 991.8 L925.0 991.8 L926.0 991.8 L927.0 991.8 L928.0 991.8 L929.0 991.8 L930.0 991.9 L931.0 991.9 L932.0 991.9 L933.0 991.9 L934.0 991.9 L935.0 991.9 L936.0 992.0 L937.0 992.0 L938.0 992.0 L939.0 992.0 L940.0 992.0 L941.0 992.1 L942.0 992.1 L943.0 992.1 L944.0 992.1 L945.0 992.2 L946.0 992.2 L947.0 992.2 L948.0 992.3 L949.0 992.3 L950.0 992.3 L951.0 992.4 L952.0 992.4 L953.0 992.4 L954.0 992.5 L955.0 992.5 L956.0 992.6 L957.0 992.6 L958.0 992.7 L959.0 992.7 L960.0 992.8 L961.0 992.9 L962.0 992.9 L963.0 993.0 L964.0 993.1 L965.0 993.2 L966.0 993.3 L967.0 993.4 L968.0 993.5 L969.0 993.6 L970.0 993.7 L971.0 993.8 L972.0 993.9 L973.0 994.0 L974.0 994.1 L975.0 994.2 L976.0 994.3 L977.0 994.5 L978.0 994.6 L979.0 994.7 L980.0 994.9 L981.0 995.0 L982.0 995.1 L983.0 995.3 L984.0 995.4 L985.0 995.6 L986.0 995.7 L987.0 995.9 L988.0 996.0 L989.0 996.2 L990.0 996.3 L991.0 996.5 L992.0 996.6 L993.0 996.8 L994.0 997.0 L995.0 997.1 L996.0 997.3 L997.0 997.5 L998.0 997.6 L999.0 997.8 L1000.0 998.0 L1001.0 998.1 L1002.0 998.3 L1003.0 998.5 L1004.0 998.7 L1005.0 998.8 L1006.0 999.0 L1007.0 999.2 L1008.0 999.4 L1009.0 999.5 L1010.0 999.7 L1011.0 999.9 L1012.0 1000.1 L1013.0 1000.3 L1014.0 1000.4 L1015.0 1000.6 L1016.0 1000.8 L1017.0 1001.0 L1018.0 1001.1 L1019.0 1001.3 L1020.0 1001.5 L1021.0 1001.7 L1022.0 1001.9 L1023.0 1002.1 L1024.0 1002.2 L1025.0 1002.4 L1026.0 1002.6 L1027.0 1002.9 L1028.0 1003.1 L1029.0 1003.3 L1030.0 1003.5 L1031.0 1003.7 L1032.0 1003.9 L1033.0 1004.2 L1034.0 1004.4 L1035.0 1004.6 L1036.0 1004.9 L1037.0 1005.1 L1038.0 1005.4 L1039.0 1005.6 L1040.0 1005.9 L1041.0 1006.1 L1042.0 1006.4 L1043.0 1006.6 L1044.0 1006.9 L1045.0 1007.1 L1046.0 1007.4 L1047.0 1007.6 L1048.0 1007.9 L1049.0 1008.2 L1050.0 1008.4 L1051.0 1008.7 L1052.0 1008.9 L1053.0 1009.2 L1054.0 1009.5 L1055.0 1009.7 L1056.0 1010.0 L1057.0 1010.2 L1058.0 1010.5 L1059.0 1010.8 L1060.0 1011.0 L1061.0 1011.3 L1062.0 1011.5 L1063.0 1011.8 L1064.0 1012.0 L1065.0 1012.3 L1066.0 1012.5 L1067.0 1012.8 L1068.0 1013.0 L1069.0 1013.3 L1070.0 1013.5 L1071.0 1013.7 L1072.0 1014.0 L1073.0 1014.2 L1074.0 1014.4 L1075.0 1014.7 L1076.0 1014.9 L1077.0 1015.1 L1078.0 1015.4 L1079.0 1015.6 L1080.0 1015.8 L1081.0 1016.0 L1082.0 1016.3 L1083.0 1016.5 L1084.0 1016.7 L1085.0 1016.9 L1086.0 1017.2 L1087.0 1017.4 L1088.0 1017.6 L1089.0 1017.9 L1090.0 1018.1 L1091.0 1018.3 L1092.0 1018.6 L1093.0 1018.8 L1094.0 1019.0 L1095.0 1019.3 L1096.0 1019.5 L1097.0 1019.8 L1098.0 1020.0 L1099.0 1020.2 L1100.0 1020.5 L1101.0 1020.7 L1102.0 1021.0 L1103.0 1021.3 L1104.0 1021.5 L1105.0 1021.8 L1106.0 1022.1 L1107.0 1022.3 L1108.0 1022.6 L1109.0 1022.9 L1110.0 1023.2 L1111.0 1023.5 L1112.0 1023.7 L1113.0 1024.0 L1114.0 1024.3 L1115.0 1024.6 L1116.0 1024.9 L1117.0 1025.2 L1118.0 1025.4 L1119.0 1025.7 L1120.0 1026.0 L1121.0 1026.3 L1122.0 1026.5 L1123.0 1026.8 L1124.0 1027.1 L1125.0 1027.4 L1126.0 1027.6 L1127.0 1027.9 L1128.0 1028.2 L1129.0 1028.4 L1130.0 1028.7 L1131.0 1029.0 L1132.0 1029.3 L1133.0 1029.5 L1134.0 1029.8 L1135.0 1030.1 L1136.0 1030.3 L1137.0 1030.6 L1138.0 1030.9 L1139.0 1031.1 L1140.0 1031.4 L1141.0 1031.7 L1142.0 1031.9 L1143.0 1032.2 L1144.0 1032.4 L1145.0 1032.7 L1146.0 1033.0 L1147.0 1033.2 L1148.0 1033.5 L1149.0 1033.7 L1150.0 1034.0 L1151.0 1034.3 L1152.0 1034.5 L1153.0 1034.8 L1154.0 1035.1 L1155.0 1035.3 L1156.0 1035.6 L1157.0 1035.8 L1158.0 1036.1 L1159.0 1036.3 L1160.0 1036.5 L1161.0 1036.7 L1162.0 1036.9 L1163.0 1037.0 L1164.0 1037.2 L1165.0 1037.3 L1166.0 1037.5 L1167.0 1037.6 L1168.0 1037.8 L1169.0 1037.9 L1170.0 1038.0 L1171.0 1038.1 L1172.0 1038.3 L1173.0 1038.4 L1174.0 1038.5 L1175.0 1038.7 L1176.0 1038.8 L1177.0 1038.9 L1178.0 1038.9 L1179.0 1039.0 L1180.0 1039.0 L1181.0 1039.0 L1182.0 1039.0 L1183.0 1039.0 L1184.0 1039.0 L1185.0 1039.0 L1186.0 1039.0 L1187.0 1039.0 L1188.0 1038.9 L1189.0 1038.9 L1190.0 1038.9 L1191.0 1038.9 L1192.0 1038.9 L1193.0 1038.9 L1194.0 1038.8 L1195.0 1038.8 L1196.0 1038.8 L1197.0 1038.8 L1198.0 1038.8 L1199.0 1038.7 L1200.0 1038.7 L1201.0 1038.7 L1202.0 1038.7 L1203.0 1038.6 L1204.0 1038.6 L1205.0 1038.6 L1206.0 1038.6 L1207.0 1038.6 L1208.0 1038.5 L1209.0 1038.5 L1210.0 1038.5 L1211.0 1038.5 L1212.0 1038.4 L1213.0 1038.4 L1214.0 1038.4 L1215.0 1038.4 L1216.0 1038.4 L1217.0 1038.3 L1218.0 1038.3 L1219.0 1038.3 L1220.0 1038.3 L1221.0 1038.3 L1222.0 1038.3 L1223.0 1038.2 L1224.0 1038.2 L1225.0 1038.2 L1226.0 1038.2 L1227.0 1038.2 L1228.0 1038.2 L1229.0 1038.2 L1230.0 1038.2 L1231.0 1038.2 L1232.0 1038.2 L1233.0 1038.2 L1234.0 1038.2 L1235.0 1038.2 L1236.0 1038.2 L1237.0 1038.2 L1238.0 1038.2 L1239.0 1038.2 L1240.0 1038.2 L1241.0 1038.3 L1242.0 1038.3 L1243.0 1038.3 L1244.0 1038.3 L1245.0 1038.3 L1246.0 1038.3 L1247.0 1038.3 L1248.0 1038.3 L1249.0 1038.3 L1250.0 1038.4 L1251.0 1038.4 L1252.0 1038.4 L1253.0 1038.4 L1254.0 1038.4 L1255.0 1038.4 L1256.0 1038.4 L1257.0 1038.4 L1258.0 1038.5 L1259.0 1038.5 L1260.0 1038.5 L1261.0 1038.5 L1262.0 1038.5 L1263.0 1038.5 L1264.0 1038.6 L1265.0 1038.6 L1266.0 1038.6 L1267.0 1038.6 L1268.0 1038.6 L1269.0 1038.6 L1270.0 1038.6 L1271.0 1038.6 L1272.0 1038.7 L1273.0 1038.7 L1274.0 1038.7 L1275.0 1038.7 L1276.0 1038.7 L1277.0 1038.7 L1278.0 1038.7 L1279.0 1038.7 L1280.0 1038.7 L1281.0 1038.8 L1282.0 1038.8 L1283.0 1038.8 L1284.0 1038.8 L1285.0 1038.8 L1286.0 1038.8 L1287.0 1038.8 L1288.0 1038.8 L1289.0 1038.8 L1290.0 1038.8 L1291.0 1038.8 L1292.0 1038.7 L1293.0 1038.5 L1294.0 1038.3 L1295.0 1037.9 L1296.0 1037.6 L1297.0 1037.2 L1298.0 1036.9 L1299.0 1036.6 L1300.0 1036.3 L1301.0 1036.2 L1302.0 1036.2 L1303.0 1036.4 L1304.0 1036.6 L1305.0 1036.9 L1306.0 1037.3 L1307.0 1037.7 L1308.0 1038.1 L1309.0 1038.5 L1310.0 1038.9 L1311.0 1039.3 L1312.0 1039.6 L1313.0 1039.7 L1314.0 1039.8 L1315.0 1039.8 L1316.0 1039.8 L1317.0 1039.8 L1318.0 1039.8 L1319.0 1039.8 L1320.0 1039.8 L1321.0 1039.8 L1322.0 1039.8 L1323.0 1039.8 L1324.0 1039.8 L1325.0 1039.8 L1326.0 1039.8 L1327.0 1039.8 L1328.0 1039.8 L1329.0 1039.8 L1330.0 1039.8 L1331.0 1039.8 L1332.0 1039.8 L1333.0 1039.8 L1334.0 1039.8 L1335.0 1039.8 L1336.0 1039.8 L1337.0 1039.9 L1338.0 1039.9 L1339.0 1039.9 L1340.0 1039.9 L1341.0 1039.9 L1342.0 1039.9 L1343.0 1039.9 L1344.0 1039.9 L1345.0 1039.9 L1346.0 1039.9 L1347.0 1039.9 L1348.0 1039.9 L1349.0 1039.9 L1350.0 1039.9 L1351.0 1039.9 L1352.0 1039.9 L1353.0 1039.9 L1354.0 1039.9 L1355.0 1039.9 L1356.0 1039.9 L1357.0 1039.9 L1358.0 1039.9 L1359.0 1039.9 L1360.0 1039.9 L1361.0 1039.9 L1362.0 1039.9 L1363.0 1039.9 L1364.0 1039.9 L1365.0 1039.9 L1366.0 1039.9 L1367.0 1039.9 L1368.0 1039.9 L1369.0 1039.9 L1370.0 1039.9 L1371.0 1039.9 L1372.0 1039.9 L1373.0 1039.9 L1374.0 1039.9 L1375.0 1039.9 L1376.0 1039.9 L1377.0 1039.9 L1378.0 1039.9 L1379.0 1039.9 L1380.0 1039.9 L1381.0 1039.9 L1382.0 1039.9 L1383.0 1039.9 L1384.0 1039.9 L1385.0 1039.9 L1386.0 1039.9 L1387.0 1039.9 L1388.0 1039.9 L1389.0 1039.9 L1390.0 1039.9 L1391.0 1039.9 L1392.0 1039.9 L1393.0 1039.9 L1394.0 1039.9 L1395.0 1039.9 L1396.0 1039.9 L1397.0 1039.9 L1398.0 1039.9 L1399.0 1039.9 L1400.0 1039.9 L1401.0 1039.9 L1402.0 1039.9 L1403.0 1039.9 L1404.0 1039.9 L1405.0 1040.0 L1406.0 1040.0 L1407.0 1040.0 L1408.0 1040.0 L1409.0 1040.0 L1410.0 1040.0 L1411.0 1040.0 L1412.0 1040.0 L1413.0 1040.0 L1414.0 1040.0 L1415.0 1040.0 L1416.0 1040.0 L1417.0 1040.0 L1418.0 1040.0 L1419.0 1040.0 L1420.0 1040.0 L1421.0 1040.0 L1422.0 1040.0 L1423.0 1040.0 L1424.0 1040.0 L1425.0 1040.0 L1426.0 1040.0 L1427.0 1040.0 L1428.0 1040.0 L1429.0 1040.0 L1430.0 1040.0 L1431.0 1040.0 L1432.0 1040.0 L1433.0 1040.0 L1434.0 1040.0 L1435.0 1040.0 L1436.0 1040.0 L1437.0 1040.0 L1438.0 1040.0 L1439.0 1040.0 L1440.0 1040.0 L1441.0 1040.0 L1442.0 1040.0 L1443.0 1040.0 L1444.0 1040.0 L1445.0 1040.0 L1446.0 1040.0 L1447.0 1040.0 L1448.0 1040.0 L1449.0 1040.0 L1450.0 1040.0 L1451.0 1040.0 L1452.0 1040.0 L1453.0 1040.0 L1454.0 1040.0 L1455.0 1040.0 L1456.0 1040.0 L1457.0 1040.0 L1458.0 1040.0 L1459.0 1040.0 L1460.0 1040.0 L1461.0 1040.0 L1462.0 1040.0 L1463.0 1040.0 L1464.0 1040.0 L1465.0 1040.0 L1466.0 1040.0 L1467.0 1040.0 L1468.0 1040.0 L1469.0 1040.0 L1470.0 1040.0 L1471.0 1040.0 L1472.0 1040.0 L1473.0 1040.0 L1474.0 1040.0 L1475.0 1040.0 L1476.0 1040.0 L1477.0 1040.0 L1478.0 1040.0 L1479.0 1040.0 L1480.0 1040.0 L1481.0 1040.0 L1482.0 1040.0 L1483.0 1040.0 L1484.0 1040.0 L1485.0 1040.0 L1486.0 1040.0 L1487.0 1040.0 L1488.0 1040.0 L1489.0 1040.0 L1490.0 1040.0 L1491.0 1040.0 L1492.0 1040.0 L1493.0 1040.0 L1494.0 1040.0 L1495.0 1040.0 L1496.0 1040.0 L1497.0 1040.0 L1498.0 1040.0 L1499.0 1040.0 L1500.0 1040.0 L1501.0 1040.0 L1502.0 1040.0 L1503.0 1040.0 L1504.0 1040.0 L1505.0 1040.0 L1506.0 1040.0 L1507.0 1040.0 L1508.0 1040.0 L1509.0 1040.0 L1510.0 1040.0 L1511.0 1040.0 L1512.0 1040.0 L1513.0 1040.0 L1514.0 1040.0 L1515.0 1040.0 L1516.0 1040.0 L1517.0 1040.0 L1518.0 1040.0 L1519.0 1040.0 L1520.0 1040.0 L1521.0 1040.0 L1522.0 1040.0 L1523.0 1040.0 L1524.0 1040.0 L1525.0 1040.0 L1526.0 1040.0 L1527.0 1040.0 L1528.0 1040.0 L1529.0 1040.0 L1530.0 1040.0 L1531.0 1040.0 L1532.0 1040.0 L1533.0 1040.0 L1534.0 1040.0 L1535.0 1040.0 L1536.0 1040.0 L1537.0 1040.0 L1538.0 1040.0 L1539.0 1040.0 L1540.0 1040.0 L1541.0 1040.0 L1542.0 1040.0 L1543.0 1040.0 L1544.0 1040.0 L1545.0 1040.0 L1546.0 1040.0"/>
<path class="c" stroke="#ff00ff" d="M158.0 50.0 L159.0 50.1 L160.0 50.3 L161.0 50.6 L162.0 51.0 L163.0 51.5 L164.0 52.0 L165.0 52.5 L166.0 53.1 L167.0 53.9 L168.0 54.8 L169.0 55.9 L170.0 57.1 L171.0 58.5 L172.0 60.2 L173.0 62.4 L174.0 64.9 L175.0 67.5 L176.0 70.0 L177.0 72.4 L178.0 74.9 L179.0 77.5 L180.0 80.0 L181.0 82.5 L182.0 84.9 L183.0 87.4 L184.0 89.9 L185.0 92.3 L186.0 94.8 L187.0 97.4 L188.0 100.0 L189.0 102.6 L190.0 105.1 L191.0 107.6 L192.0 110.2 L193.0 112.9 L194.0 115.9 L195.0 119.2 L196.0 123.0 L197.0 127.6 L198.0 132.8 L199.0 138.3 L200.0 143.8 L201.0 148.9 L202.0 154.0 L203.0 159.1 L204.0 164.1 L205.0 169.1 L206.0 173.8 L207.0 178.7 L208.0 183.2 L209.0 186.6 L210.0 189.4 L211.0 191.9 L212.0 194.2 L213.0 196.4 L214.0 198.6 L215.0 201.0 L216.0 203.6 L217.0 206.3 L218.0 209.0 L219.0 211.6 L220.0 214.3 L221.0 216.7 L222.0 219.0 L223.0 221.1 L224.0 223.2 L225.0 225.1 L226.0 227.0 L227.0 228.9 L228.0 230.7 L229.0 232.5 L230.0 234.2 L231.0 235.9 L232.0 237.6 L233.0 239.2 L234.0 240.9 L235.0 242.5 L236.0 244.2 L237.0 245.8 L238.0 247.5 L239.0 249.1 L240.0 250.7 L241.0 252.3 L242.0 253.8 L243.0 255.4 L244.0 256.9 L245.0 258.4 L246.0 259.9 L247.0 261.5 L248.0 263.0 L249.0 264.4 L250.0 265.9 L251.0 267.4 L252.0 268.9 L253.0 270.4 L254.0 271.9 L255.0 273.3 L256.0 274.8 L257.0 276.2 L258.0 277.6 L259.0 278.9 L260.0 280.3 L261.0 281.7 L262.0 283.0 L263.0 284.4 L264.0 285.8 L265.0 287.2 L266.0 288.6 L267.0 290.1 L268.0 291.6 L269.0 293.2 L270.0 294.7 L271.0 296.4 L272.0 298.1 L273.0 299.8 L274.0 301.6 L275.0 303.5 L276.0 305.4 L277.0 307.3 L278.0 309.3 L279.0 311.3 L280.0 313.4 L281.0 315.5 L282.0 317.7 L283.0 319.9 L284.0 322.2 L285.0 324.6 L286.0 327.2 L287.0 330.0 L288.0 332.8 L289.0 335.5 L290.0 338.0 L291.0 340.3 L292.0 342.6 L293.0 344.7 L294.0 346.8 L295.0 348.9 L296.0 350.9 L297.0 352.9 L298.0 355.0 L299.0 357.1 L300.0 359.2 L301.0 361.3 L302.0 363.5 L303.0 365.6 L304.0 367.6 L305.0 369.6 L306.0 371.5 L307.0 373.3 L308.0 375.0 L309.0 376.6 L310.0 378.1 L311.0 379.5 L312.0 380.9 L313.0 382.2 L314.0 383.5 L315.0 384.7 L316.0 386.0 L317.0 387.2 L318.0 388.4 L319.0 389.5 L320.0 390.6 L321.0 391.7 L322.0 392.9 L323.0 394.1 L324.0 395.4 L325.0 396.8 L326.0 398.2 L327.0 399.6 L328.0 401.0 L329.0 402.4 L330.0 403.9 L331.0 405.3 L332.0 406.7 L333.0 408.0 L334.0 409.3 L335.0 410.6 L336.0 411.9 L337.0 413.2 L338.0 414.5 L339.0 415.8 L340.0 417.0 L341.0 418.2 L342.0 419.4 L343.0 420.6 L344.0 421.7 L345.0 422.8 L346.0 423.9 L347.0 425.0 L348.0 426.0 L349.0 427.1 L350.0 428.1 L351.0 429.0 L352.0 429.9 L353.0 430.7 L354.0 431.4 L355.0 432.1 L356.0 432.8 L357.0 433.5 L358.0 434.1 L359.0 434.7 L360.0 435.3 L361.0 435.9 L362.0 436.4 L363.0 436.8 L364.0 437.3 L365.0 437.6 L366.0 438.0 L367.0 438.3 L368.0 438.6 L369.0 438.9 L370.0 439.2 L371.0 439.5 L372.0 439.7 L373.0 440.0 L374.0 440.1 L375.0 440.3 L376.0 440.4 L377.0 440.4 L378.0 440.4 L379.0 440.3 L380.0 440.2 L381.0 440.1 L382.0 440.0 L383.0 439.8 L384.0 439.7 L385.0 439.5 L386.0 439.3 L387.0 439.1 L388.0 438.9 L389.0 438.6 L390.0 438.3 L391.0 437.9 L392.0 437.5 L393.0 437.1 L394.0 436.6 L395.0 436.2 L396.0 435.8 L397.0 435.5 L398.0 435.2 L399.0 434.9 L400.0 434.7 L401.0 434.4 L402.0 434.2 L403.0 433.9 L404.0 433.7 L405.0 433.5 L406.0 433.4 L407.0 433.3 L408.0 433.2 L409.0 433.2 L410.0 433.2 L411.0 433.2 L412.0 433.3 L413.0 433.3 L414.0 433.4 L415.0 433.4 L416.0 433.5 L417.0 433.6 L418.0 433.7 L419.0 433.8 L420.0 433.9 L421.0 434.0 L422.0 434.1 L423.0 434.3 L424.0 434.6 L425.0 435.0 L426.0 435.4 L427.0 435.9 L428.0 436.4 L429.0 437.0 L430.0 437.6 L431.0 438.2 L432.0 438.9 L433.0 439.8 L434.0 440.8 L435.0 441.8 L436.0 442.9 L437.0 444.1 L438.0 445.3 L439.0 446.4 L440.0 447.6 L441.0 448.8 L442.0 450.0 L443.0 451.3 L444.0 452.6 L445.0 454.0 L446.0 455.4 L447.0 456.9 L448.0 458.4 L449.0 459.9 L450.0 461.5 L451.0 463.2 L452.0 464.9 L453.0 466.6 L454.0 468.4 L455.0 470.3 L456.0 472.2 L457.0 474.2 L458.0 476.3 L459.0 478.5 L460.0 481.0 L461.0 483.9 L462.0 487.0 L463.0 490.3 L464.0 493.7 L465.0 497.0 L466.0 500.1 L467.0 503.2 L468.0 506.2 L469.0 509.3 L470.0 512.3 L471.0 515.2 L472.0 518.1 L473.0 521.0 L474.0 523.7 L475.0 526.4 L476.0 529.1 L477.0 531.9 L478.0 534.7 L479.0 537.6 L480.0 540.7 L481.0 543.8 L482.0 547.1 L483.0 550.4 L484.0 553.7 L485.0 556.9 L486.0 560.1 L487.0 563.3 L488.0 566.5 L489.0 569.7 L490.0 572.9 L491.0 576.1 L492.0 579.3 L493.0 582.6 L494.0 585.9 L495.0 589.2 L496.0 592.4 L497.0 595.6 L498.0 598.6 L499.0 601.5 L500.0 604.3 L501.0 606.9 L502.0 609.5 L503.0 612.1 L504.0 614.7 L505.0 617.3 L506.0 620.0 L507.0 622.8 L508.0 625.6 L509.0 628.4 L510.0 631.2 L511.0 634.1 L512.0 637.0 L513.0 640.0 L514.0 643.0 L515.0 646.1 L516.0 649.2 L517.0 652.4 L518.0 655.6 L519.0 658.9 L520.0 662.2 L521.0 665.5 L522.0 668.7 L523.0 672.0 L524.0 675.2 L525.0 678.4 L526.0 681.6 L527.0 684.9 L528.0 688.3 L529.0 691.8 L530.0 695.6 L531.0 699.5 L532.0 703.2 L533.0 706.7 L534.0 710.0 L535.0 713.1 L536.0 716.2 L537.0 719.1 L538.0 722.0 L539.0 724.8 L540.0 727.5 L541.0 730.1 L542.0 732.6 L543.0 735.1 L544.0 737.6 L545.0 740.0 L546.0 742.4 L547.0 744.8 L548.0 747.1 L549.0 749.5 L550.0 751.7 L551.0 753.9 L552.0 756.0 L553.0 758.0 L554.0 759.9 L555.0 761.8 L556.0 763.6 L557.0 765.3 L558.0 767.0 L559.0 768.7 L560.0 770.3 L561.0 771.9 L562.0 773.5 L563.0 775.0 L564.0 776.5 L565.0 778.0 L566.0 779.5 L567.0 780.9 L568.0 782.4 L569.0 783.8 L570.0 785.1 L571.0 786.5 L572.0 787.8 L573.0 789.1 L574.0 790.3 L575.0 791.6 L576.0 792.7 L577.0 793.9 L578.0 795.0 L579.0 796.1 L580.0 797.2 L581.0 798.3 L582.0 799.4 L583.0 800.4 L584.0 801.4 L585.0 802.4 L586.0 803.4 L587.0 804.4 L588.0 805.4 L589.0 806.3 L590.0 807.3 L591.0 808.2 L592.0 809.1 L593.0 810.0 L594.0 811.0 L595.0 811.8 L596.0 812.7 L597.0 813.6 L598.0 814.5 L599.0 815.4 L600.0 816.2 L601.0 817.1 L602.0 817.9 L603.0 818.7 L604.0 819.6 L605.0 820.4 L606.0 821.2 L607.0 822.0 L608.0 822.8 L609.0 823.6 L610.0 824.3 L611.0 825.1 L612.0 825.9 L613.0 826.6 L614.0 827.4 L615.0 828.1 L616.0 828.9 L617.0 829.6 L618.0 830.4 L619.0 831.1 L620.0 831.8 L621.0 832.6 L622.0 833.3 L623.0 834.0 L624.0 834.8 L625.0 835.5 L626.0 836.2 L627.0 837.0 L628.0 837.7 L629.0 838.4 L630.0 839.2 L631.0 839.9 L632.0 840.6 L633.0 841.3 L634.0 842.1 L635.0 842.8 L636.0 843.5 L637.0 844.2 L638.0 844.9 L639.0 845.6 L640.0 846.3 L641.0 847.0 L642.0 847.7 L643.0 848.4 L644.0 849.1 L645.0 849.8 L646.0 850.4 L647.0 851.1 L648.0 851.7 L649.0 852.4 L650.0 853.0 L651.0 853.6 L652.0 854.2 L653.0 854.8 L654.0 855.4 L655.0 856.0 L656.0 856.6 L657.0 857.2 L658.0 857.8 L659.0 858.3 L660.0 858.9 L661.0 859.5 L662.0 860.0 L663.0 860.6 L664.0 861.1 L665.0 861.7 L666.0 862.3 L667.0 862.8 L668.0 863.4 L669.0 863.9 L670.0 864.5 L671.0 865.1 L672.0 865.6 L673.0 866.2 L674.0 866.8 L675.0 867.3 L676.0 867.9 L677.0 868.5 L678.0 869.0 L679.0 869.6 L680.0 870.2 L681.0 870.7 L682.0 871.3 L683.0 871.8 L684.0 872.4 L685.0 872.9 L686.0 873.5 L687.0 874.0 L688.0 874.6 L689.0 875.1 L690.0 875.6 L691.0 876.1 L692.0 876.6 L693.0 877.1 L694.0 877.6 L695.0 878.0 L696.0 878.5 L697.0 879.0 L698.0 879.5 L699.0 879.9 L700.0 880.4 L701.0 881.0 L702.0 881.5 L703.0 882.0 L704.0 882.6 L705.0 883.2 L706.0 883.8 L707.0 884.5 L708.0 885.2 L709.0 885.9 L710.0 886.7 L711.0 887.5 L712.0 888.3 L713.0 889.1 L714.0 890.0 L715.0 890.9 L716.0 891.7 L717.0 892.6 L718.0 893.6 L719.0 894.5 L720.0 895.4 L721.0 896.3 L722.0 897.2 L723.0 898.1 L724.0 899.0 L725.0 899.9 L726.0 900.9 L727.0 901.8 L728.0 902.8 L729.0 903.8 L730.0 904.7 L731.0 905.7 L732.0 906.7 L733.0 907.7 L734.0 908.6 L735.0 909.6 L736.0 910.6 L737.0 911.5 L738.0 912.4 L739.0 913.4 L740.0 914.3 L741.0 915.2 L742.0 916.2 L743.0 917.1 L744.0 918.0 L745.0 918.9 L746.0 919.9 L747.0 920.8 L748.0 921.7 L749.0 922.6 L750.0 923.5 L751.0 924.5 L752.0 925.4 L753.0 926.3 L754.0 927.2 L755.0 928.1 L756.0 929.0 L757.0 930.0 L758.0 930.9 L759.0 931.8 L760.0 932.8 L761.0 933.7 L762.0 934.6 L763.0 935.5 L764.0 936.4 L765.0 937.3 L766.0 938.1 L767.0 939.0 L768.0 939.8 L769.0 940.6 L770.0 941.3 L771.0 942.1 L772.0 942.9 L773.0 943.7 L774.0 944.4 L775.0 945.2 L776.0 945.9 L777.0 946.6 L778.0 947.3 L779.0 948.0 L780.0 948.7 L781.0 949.3 L782.0 949.9 L783.0 950.5 L784.0 951.1 L785.0 951.6 L786.0 952.1 L787.0 952.6 L788.0 953.1 L789.0 953.5 L790.0 954.0 L791.0 954.4 L792.0 954.8 L793.0 955.3 L794.0 955.7 L795.0 956.1 L796.0 956.5 L797.0 956.8 L798.0 957.2 L799.0 957.6 L800.0 958.0 L801.0 958.4 L802.0 958.7 L803.0 959.1 L804.0 959.5 L805.0 959.8 L806.0 960.2 L807.0 960.5 L808.0 960.9 L809.0 961.2 L810.0 961.5 L811.0 961.8 L812.0 962.2 L813.0 962.4 L814.0 962.7 L815.0 963.0 L816.0 963.3 L817.0 963.5 L818.0 963.7 L819.0 964.0 L820.0 964.2 L821.0 964.4 L822.0 964.6 L823.0 964.8 L824.0 965.0 L825.0 965.2 L826.0 965.4 L827.0 965.6 L828.0 965.9 L829.0 966.1 L830.0 966.3 L831.0 966.6 L832.0 966.8 L833.0 967.0 L834.0 967.3 L835.0 967.5 L836.0 967.8 L837.0 968.0 L838.0 968.2 L839.0 968.5 L840.0 968.7 L841.0 969.0 L842.0 969.2 L843.0 969.4 L844.0 969.7 L845.0 969.9 L846.0 970.1 L847.0 970.3 L848.0 970.6 L849.0 970.8 L850.0 971.0 L851.0 971.2 L852.0 971.4 L853.0 971.7 L854.0 971.9 L855.0 972.1 L856.0 972.3 L857.0 972.6 L858.0 972.8 L859.0 973.0 L860.0 973.2 L861.0 973.4 L862.0 973.6 L863.0 973.8 L864.0 974.0 L865.0 974.2 L866.0 974.4 L867.0 974.6 L868.0 974.7 L869.0 974.9 L870.0 975.0 L871.0 975.1 L872.0 975.2 L873.0 975.4 L874.0 975.5 L875.0 975.6 L876.0 975.7 L877.0 975.8 L878.0 975.9 L879.0 976.0 L880.0 976.1 L881.0 976.2 L882.0 976.3 L883.0 976.4 L884.0 976.5 L885.0 976.6 L886.0 976.7 L887.0 976.8 L888.0 976.8 L889.0 976.9 L890.0 977.0 L891.0 977.1 L892.0 977.2 L893.0 977.2 L894.0 977.3 L895.0 977.4 L896.0 977.4 L897.0 977.5 L898.0 977.6 L899.0 977.6 L900.0 977.7 L901.0 977.8 L902.0 977.8 L903.0 977.9 L904.0 977.9 L905.0 978.0 L906.0 978.1 L907.0 978.1 L908.0 978.2 L909.0 978.2 L910.0 978.3 L911.0 978.3 L912.0 978.3 L913.0 978.4 L914.0 978.4 L915.0 978.5 L916.0 978.5 L917.0 978.6 L918.0 978.6 L919.0 978.6 L920.0 978.7 L921.0 978.7 L922.0 978.7 L923.0 978.8 L924.0 978.8 L925.0 978.8 L926.0 978.9 L927.0 978.9 L928.0 978.9 L929.0 979.0 L930.0 979.0 L931.0 979.0 L932.0 979.1 L933.0 979.1 L934.0 979.1 L935.0 979.2 L936.0 979.2 L937.0 979.2 L938.0 979.3 L939.0 979.3 L940.0 979.3 L941.0 979.4 L942.0 979.4 L943.0 979.5 L944.0 979.5 L945.0 979.5 L946.0 979.6 L947.0 979.6 L948.0 979.7 L949.0 979.7 L950.0 979.8 L951.0 979.8 L952.0 979.9 L953.0 979.9 L954.0 980.0 L955.0 980.1 L956.0 980.1 L957.0 980.2 L958.0 980.3 L959.0 980.3 L960.0 980.4 L961.0 980.5 L962.0 980.6 L963.0 980.7 L964.0 980.8 L965.0 980.8 L966.0 980.9 L967.0 981.0 L968.0 981.1 L969.0 981.2 L970.0 981.3 L971.0 981.4 L972.0 981.5 L973.0 981.6 L974.0 981.8 L975.0 981.9 L976.0 982.0 L977.0 982.1 L978.0 982.2 L979.0 982.3 L980.0 982.5 L981.0 982.6 L982.0 982.7 L983.0 982.8 L984.0 983.0 L985.0 983.1 L986.0 983.2 L987.0 983.3 L988.0 983.5 L989.0 983.6 L990.0 983.7 L991.0 983.9 L992.0 984.0 L993.0 984.1 L994.0 984.3 L995.0 984.4 L996.0 984.6 L997.0 984.7 L998.0 984.9 L999.0 985.0 L1000.0 985.2 L1001.0 985.4 L1002.0 985.5 L1003.0 985.7 L1004.0 985.9 L1005.0 986.1 L1006.0 986.3 L1007.0 986.4 L1008.0 986.6 L1009.0 986.8 L1010.0 987.0 L1011.0 987.2 L1012.0 987.4 L1013.0 987.6 L1014.0 987.8 L1015.0 988.0 L1016.0 988.2 L1017.0 988.4 L1018.0 988.6 L1019.0 988.8 L1020.0 989.0 L1021.0 989.2 L1022.0 989.4 L1023.0 989.6 L1024.0 989.8 L1025.0 990.0 L1026.0 990.2 L1027.0 990.4 L1028.0 990.6 L1029.0 990.8 L1030.0 991.0 L1031.0 991.2 L1032.0 991.4 L1033.0 991.6 L1034.0 991.8 L1035.0 992.0 L1036.0 992.2 L1037.0 992.4 L1038.0 992.6 L1039.0 992.8 L1040.0 993.0 L1041.0 993.2 L1042.0 993.4 L1043.0 993.6 L1044.0 993.9 L1045.0 994.1 L1046.0 994.3 L1047.0 994.5 L1048.0 994.7 L1049.0 994.9 L1050.0 995.1 L1051.0 995.3 L1052.0 995.5 L1053.0 995.8 L1054.0 996.0 L1055.0 996.2 L1056.0 996.4 L1057.0 996.6 L1058.0 996.8 L1059.0 997.1 L1060.0 997.3 L1061.0 997.5 L1062.0 997.7 L1063.0 997.9 L1064.0 998.2 L1065.0 998.4 L1066.0 998.6 L1067.0 998.8 L1068.0 999.1 L1069.0 999.3 L1070.0 999.5 L1071.0 999.7 L1072.0 999.9 L1073.0 1000.2 L1074.0 1000.4 L1075.0 1000.6 L1076.0 1000.9 L1077.0 1001.1 L1078.0 1001.3 L1079.0 1001.5 L1080.0 1001.8 L1081.0 1002.0 L1082.0 1002.2 L1083.0 1002.5 L1084.0 1002.7 L1085.0 1002.9 L1086.0 1003.2 L1087.0 1003.4 L1088.0 1003.6 L1089.0 1003.9 L1090.0 1004.1 L1091.0 1004.4 L1092.0 1004.6 L1093.0 1004.8 L1094.0 1005.1 L1095.0 1005.3 L1096.0 1005.6 L1097.0 1005.8 L1098.0 1006.0 L1099.0 1006.3 L1100.0 1006.5 L1101.0 1006.8 L1102.0 1007.0 L1103.0 1007.2 L1104.0 1007.5 L1105.0 1007.7 L1106.0 1008.0 L1107.0 1008.2 L1108.0 1008.5 L1109.0 1008.7 L1110.0 1009.0 L1111.0 1009.2 L1112.0 1009.5 L1113.0 1009.7 L1114.0 1009.9 L1115.0 1010.2 L1116.0 1010.4 L1117.0 1010.7 L1118.0 1010.9 L1119.0 1011.2 L1120.0 1011.5 L1121.0 1011.7 L1122.0 1012.0 L1123.0 1012.2 L1124.0 1012.5 L1125.0 1012.7 L1126.0 1013.0 L1127.0 1013.2 L1128.0 1013.5 L1129.0 1013.8 L1130.0 1014.0 L1131.0 1014.3 L1132.0 1014.6 L1133.0 1014.9 L1134.0 1015.2 L1135.0 1015.5 L1136.0 1015.8 L1137.0 1016.0 L1138.0 1016.3 L1139.0 1016.6 L1140.0 1016.9 L1141.0 1017.2 L1142.0 1017.4 L1143.0 1017.7 L1144.0 1017.9 L1145.0 1018.1 L1146.0 1018.3 L1147.0 1018.5 L1148.0 1018.6 L1149.0 1018.7 L1150.0 1018.9 L1151.0 1019.0 L1152.0 1019.1 L1153.0 1019.2 L1154.0 1019.3 L1155.0 1019.4 L1156.0 1019.6 L1157.0 1019.8 L1158.0 1020.0 L1159.0 1020.3 L1160.0 1020.9 L1161.0 1022.0 L1162.0 1023.4 L1163.0 1024.8 L1164.0 1026.0 L1165.0 1027.1 L1166.0 1028.4 L1167.0 1029.6 L1168.0 1030.7 L1169.0 1031.7 L1170.0 1032.4 L1171.0 1032.7 L1172.0 1032.9 L1173.0 1033.1 L1174.0 1033.2 L1175.0 1033.3 L1176.0 1033.4 L1177.0 1033.4 L1178.0 1033.5 L1179.0 1033.6 L1180.0 1033.7 L1181.0 1033.8 L1182.0 1033.9 L1183.0 1034.0 L1184.0 1034.2 L1185.0 1034.3 L1186.0 1034.4 L1187.0 1034.5 L1188.0 1034.7 L1189.0 1034.8 L1190.0 1034.9 L1191.0 1035.0 L1192.0 1035.1 L1193.0 1035.2 L1194.0 1035.3 L1195.0 1035.4 L1196.0 1035.5 L1197.0 1035.6 L1198.0 1035.7 L1199.0 1035.8 L1200.0 1035.9 L1201.0 1036.0 L1202.0 1036.0 L1203.0 1036.1 L1204.0 1036.2 L1205.0 1036.2 L1206.0 1036.3 L1207.0 1036.3 L1208.0 1036.4 L1209.0 1036.4 L1210.0 1036.4 L1211.0 1036.5 L1212.0 1036.5 L1213.0 1036.5 L1214.0 1036.5 L1215.0 1036.6 L1216.0 1036.6 L1217.0 1036.6 L1218.0 1036.7 L1219.0 1036.7 L1220.0 1036.8 L1221.0 1036.8 L1222.0 1036.9 L1223.0 1037.0 L1224.0 1037.1 L1225.0 1037.2 L1226.0 1037.3 L1227.0 1037.4 L1228.0 1037.5 L1229.0 1037.5 L1230.0 1037.6 L1231.0 1037.7 L1232.0 1037.7 L1233.0 1037.7 L1234.0 1037.8 L1235.0 1037.8 L1236.0 1037.8 L1237.0 1037.8 L1238.0 1037.9 L1239.0 1037.9 L1240.0 1037.9 L1241.0 1037.9 L1242.0 1037.9 L1243.0 1037.9 L1244.0 1038.0 L1245.0 1038.0 L1246.0 1038.0 L1247.0 1038.0 L1248.0 1038.0 L1249.0 1038.0 L1250.0 1038.0 L1251.0 1038.0 L1252.0 1038.0 L1253.0 1038.0 L1254.0 1038.0 L1255.0 1038.0 L1256.0 1038.0 L1257.0 1038.0 L1258.0 1038.0 L1259.0 1038.0 L1260.0 1038.0 L1261.0 1038.0 L1262.0 1038.0 L1263.0 1038.0 L1264.0 1038.0 L1265.0 1038.0 L1266.0 1038.0 L1267.0 1038.0 L1268.0 1038.0 L1269.0 1038.0 L1270.0 1038.0 L1271.0 1038.0 L1272.0 1038.0 L1273.0 1038.0 L1274.0 1038.0 L1275.0 1038.0 L1276.0 1038.0 L1277.0 1038.0 L1278.0 1038.0 L1279.0 1038.0 L1280.0 1038.0 L1281.0 1038.0 L1282.0 1038.0 L1283.0 1038.0 L1284.0 1038.0 L1285.0 1038.0 L1286.0 1038.0 L1287.0 1038.0 L1288.0 1038.0 L1289.0 1038.0 L1290.0 1038.0 L1291.0 1038.0 L1292.0 1037.9 L1293.0 1037.7 L1294.0 1037.5 L1295.0 1037.1 L1296.0 1036.7 L1297.0 1036.3 L1298.0 1036.0 L1299.0 1035.7 L1300.0 1035.4 L1301.0 1035.3 L1302.0 1035.3 L1303.0 1035.5 L1304.0 1035.7 L1305.0 1036.1 L1306.0 1036.5 L1307.0 1037.0 L1308.0 1037.4 L1309.0 1037.9 L1310.0 1038.3 L1311.0 1038.7 L1312.0 1039.0 L1313.0 1039.2 L1314.0 1039.3 L1315.0 1039.3 L1316.0 1039.3 L1317.0 1039.3 L1318.0 1039.3 L1319.0 1039.3 L1320.0 1039.3 L1321.0 1039.3 L1322.0 1039.3 L1323.0 1039.3 L1324.0 1039.3 L1325.0 1039.3 L1326.0 1039.3 L1327.0 1039.3 L1328.0 1039.3 L1329.0 1039.3 L1330.0 1039.3 L1331.0 1039.3 L1332.0 1039.3 L1333.0 1039.3 L1334.0 1039.3 L1335.0 1039.3 L1336.0 1039.3 L1337.0 1039.4 L1338.0 1039.4 L1339.0 1039.4 L1340.0 1039.4 L1341.0 1039.4 L1342.0 1039.4 L1343.0 1039.4 L1344.0 1039.4 L1345.0 1039.4 L1346.0 1039.4 L1347.0 1039.4 L1348.0 1039.4 L1349.0 1039.4 L1350.0 1039.4 L1351.0 1039.4 L1352.0 1039.4 L1353.0 1039.4 L1354.0 1039.4 L1355.0 1039.4 L1356.0 1039.4 L1357.0 1039.4 L1358.0 1039.4 L1359.0 1039.4 L1360.0 1039.4 L1361.0 1039.4 L1362.0 1039.4 L1363.0 1039.4 L1364.0 1039.4 L1365.0 1039.4 L1366.0 1039.4 L1367.0 1039.4 L1368.0 1039.4 L1369.0 1039.4 L1370.0 1039.4 L1371.0 1039.4 L1372.0 1039.4 L1373.0 1039.4 L1374.0 1039.4 L1375.0 1039.4 L1376.0 1039.4 L1377.0 1039.4 L1378.0 1039.4 L1379.0 1039.4 L1380.0 1039.4 L1381.0 1039.4 L1382.0 1039.4 L1383.0 1039.4 L1384.0 1039.4 L1385.0 1039.4 L1386.0 1039.4 L1387.0 1039.4 L1388.0 1039.4 L1389.0 1039.4 L1390.0 1039.4 L1391.0 1039.4 L1392.0 1039.4 L1393.0 1039.4 L1394.0 1039.4 L1395.0 1039.4 L1396.0 1039.4 L1397.0 1039.4 L1398.0 1039.4 L1399.0 1039.4 L1400.0 1039.4 L1401.0 1039.4 L1402.0 1039.4 L1403.0 1039.4 L1404.0 1039.4 L1405.0 1039.5 L1406.0 1039.5 L1407.0 1039.5 L1408.0 1039.5 L1409.0 1039.5 L1410.0 1039.5 L1411.0 1039.5 L1412.0 1039.5 L1413.0 1039.5 L1414.0 1039.5 L1415.0 1039.5 L1416.0 1039.5 L1417.0 1039.5 L1418.0 1039.5 L1419.0 1039.5 L1420.0 1039.5 L1421.0 1039.5 L1422.0 1039.5 L1423.0 1039.5 L1424.0 1039.5 L1425.0 1039.5 L1426.0 1039.5 L1427.0 1039.5 L1428.0 1039.5 L1429.0 1039.5 L1430.0 1039.5 L1431.0 1039.5 L1432.0 1039.5 L1433.0 1039.5 L1434.0 1039.5 L1435.0 1039.5 L1436.0 1039.5 L1437.0 1039.5 L1438.0 1039.5 L1439.0 1039.5 L1440.0 1039.5 L1441.0 1039.5 L1442.0 1039.5 L1443.0 1039.5 L1444.0 1039.5 L1445.0 1039.5 L1446.0 1039.5 L1447.0 1039.5 L1448.0 1039.5 L1449.0 1039.5 L1450.0 1039.5 L1451.0 1039.5 L1452.0 1039.5 L1453.0 1039.5 L1454.0 1039.5 L1455.0 1039.5 L1456.0 1039.5 L1457.0 1039.5 L1458.0 1039.5 L1459.0 1039.5 L1460.0 1039.5 L1461.0 1039.5 L1462.0 1039.5 L1463.0 1039.5 L1464.0 1039.5 L1465.0 1039.5 L1466.0 1039.5 L1467.0 1039.5 L1468.0 1039.5 L1469.0 1039.5 L1470.0 1039.5 L1471.0 1039.5 L1472.0 1039.5 L1473.0 1039.5 L1474.0 1039.5 L1475.0 1039.5 L1476.0 1039.5 L1477.0 1039.5 L1478.0 1039.5 L1479.0 1039.5 L1480.0 1039.5 L1481.0 1039.5 L1482.0 1039.5 L1483.0 1039.5 L1484.0 1039.5 L1485.0 1039.5 L1486.0 1039.5 L1487.0 1039.5 L1488.0 1039.5 L1489.0 1039.5 L1490.0 1039.5 L1491.0 1039.5 L1492.0 1039.5 L1493.0 1039.5 L1494.0 1039.5 L1495.0 1039.5 L1496.0 1039.5 L1497.0 1039.5 L1498.0 1039.5 L1499.0 1039.5 L1500.0 1039.5 L1501.0 1039.5 L1502.0 1039.5 L1503.0 1039.5 L1504.0 1039.5 L1505.0 1039.5 L1506.0 1039.5 L1507.0 1039.5 L1508.0 1039.5 L1509.0 1039.5 L1510.0 1039.5 L1511.0 1039.5 L1512.0 1039.5 L1513.0 1039.5 L1514.0 1039.5 L1515.0 1039.5 L1516.0 1039.5 L1517.0 1039.5 L1518.0 1039.5 L1519.0 1039.5 L1520.0 1039.5 L1521.0 1039.5 L1522.0 1039.5 L1523.0 1039.5 L1524.0 1039.5 L1525.0 1039.5 L1526.0 1039.5 L1527.0 1039.5 L1528.0 1039.5 L1529.0 1039.5 L1530.0 1039.5 L1531.0 1039.5 L1532.0 1039.5 L1533.0 1039.5 L1534.0 1039.5 L1535.0 1039.5 L1536.0 1039.5 L1537.0 1039.5 L1538.0 1039.5 L1539.0 1039.5 L1540.0 1039.5 L1541.0 1039.5 L1542.0 1039.5 L1543.0 1039.5 L1544.0 1039.5 L1545.0 1039.5 L1546.0 1039.5"/>
<path class="c" stroke="#008000" d="M158.0 64.0 L159.0 64.1 L160.0 64.3 L161.0 64.5 L162.0 64.9 L163.0 65.4 L164.0 65.9 L165.0 66.4 L166.0 67.0 L167.0 67.7 L168.0 68.7 L169.0 69.9 L170.0 71.2 L171.0 72.6 L172.0 74.0 L173.0 75.5 L174.0 77.1 L175.0 78.8 L176.0 80.6 L177.0 82.3 L178.0 84.0 L179.0 85.6 L180.0 87.1 L181.0 88.6 L182.0 90.1 L183.0 91.6 L184.0 93.3 L185.0 95.0 L186.0 96.8 L187.0 98.7 L188.0 100.6 L189.0 102.6 L190.0 104.7 L191.0 106.8 L192.0 109.0 L193.0 111.2 L194.0 113.6 L195.0 116.0 L196.0 118.4 L197.0 121.0 L198.0 123.7 L199.0 126.6 L200.0 129.6 L201.0 132.8 L202.0 136.1 L203.0 139.4 L204.0 142.8 L205.0 146.2 L206.0 149.7 L207.0 153.5 L208.0 157.5 L209.0 161.4 L210.0 165.3 L211.0 168.9 L212.0 172.0 L213.0 174.7 L214.0 177.1 L215.0 179.2 L216.0 181.5 L217.0 183.7 L218.0 186.0 L219.0 188.3 L220.0 190.5 L221.0 192.8 L222.0 195.0 L223.0 197.2 L224.0 199.5 L225.0 201.7 L226.0 203.8 L227.0 206.0 L228.0 208.2 L229.0 210.4 L230.0 212.6 L231.0 214.8 L232.0 217.0 L233.0 219.2 L234.0 221.3 L235.0 223.4 L236.0 225.5 L237.0 227.5 L238.0 229.4 L239.0 231.1 L240.0 232.8 L241.0 234.4 L242.0 236.0 L243.0 237.4 L244.0 238.8 L245.0 240.2 L246.0 241.5 L247.0 242.8 L248.0 244.0 L249.0 245.3 L250.0 246.5 L251.0 247.8 L252.0 249.1 L253.0 250.4 L254.0 251.7 L255.0 253.1 L256.0 254.5 L257.0 256.0 L258.0 257.5 L259.0 259.1 L260.0 260.8 L261.0 262.5 L262.0 264.3 L263.0 266.0 L264.0 267.9 L265.0 269.7 L266.0 271.7 L267.0 273.6 L268.0 275.6 L269.0 277.6 L270.0 279.7 L271.0 281.8 L272.0 284.0 L273.0 286.2 L274.0 288.4 L275.0 290.7 L276.0 293.1 L277.0 295.5 L278.0 298.0 L279.0 300.6 L280.0 303.3 L281.0 306.1 L282.0 309.0 L283.0 312.1 L284.0 315.5 L285.0 319.2 L286.0 323.1 L287.0 327.0 L288.0 331.0 L289.0 334.9 L290.0 338.6 L291.0 342.1 L292.0 345.5 L293.0 348.8 L294.0 352.2 L295.0 355.4 L296.0 358.7 L297.0 362.0 L298.0 365.3 L299.0 368.7 L300.0 372.0 L301.0 375.4 L302.0 378.7 L303.0 381.9 L304.0 385.0 L305.0 388.1 L306.0 391.1 L307.0 394.1 L308.0 397.0 L309.0 399.8 L310.0 402.5 L311.0 405.0 L312.0 407.4 L313.0 409.7 L314.0 411.9 L315.0 414.1 L316.0 416.1 L317.0 418.1 L318.0 420.0 L319.0 421.8 L320.0 423.6 L321.0 425.2 L322.0 426.9 L323.0 428.4 L324.0 430.0 L325.0 431.5 L326.0 433.0 L327.0 434.5 L328.0 435.9 L329.0 437.2 L330.0 438.6 L331.0 439.9 L332.0 441.2 L333.0 442.5 L334.0 443.8 L335.0 445.1 L336.0 446.5 L337.0 447.8 L338.0 449.2 L339.0 450.7 L340.0 452.2 L341.0 453.8 L342.0 455.5 L343.0 457.1 L344.0 458.8 L345.0 460.5 L346.0 462.2 L347.0 463.9 L348.0 465.6 L349.0 467.2 L350.0 468.8 L351.0 470.3 L352.0 471.8 L353.0 473.2 L354.0 474.6 L355.0 476.0 L356.0 477.4 L357.0 478.8 L358.0 480.1 L359.0 481.4 L360.0 482.6 L361.0 483.8 L362.0 485.0 L363.0 486.0 L364.0 487.0 L365.0 488.0 L366.0 488.9 L367.0 489.9 L368.0 490.8 L369.0 491.8 L370.0 492.7 L371.0 493.6 L372.0 494.4 L373.0 495.1 L374.0 495.7 L375.0 496.2 L376.0 496.6 L377.0 496.8 L378.0 496.9 L379.0 497.0 L380.0 497.1 L381.0 497.2 L382.0 497.2 L383.0 497.3 L384.0 497.3 L385.0 497.4 L386.0 497.4 L387.0 497.5 L388.0 497.5 L389.0 497.5 L390.0 497.5 L391.0 497.5 L392.0 497.4 L393.0 497.3 L394.0 497.2 L395.0 497.0 L396.0 496.8 L397.0 496.6 L398.0 496.3 L399.0 496.1 L400.0 495.9 L401.0 495.8 L402.0 495.7 L403.0 495.6 L404.0 495.6 L405.0 495.6 L406.0 495.6 L407.0 495.6 L408.0 495.6 L409.0 495.6 L410.0 495.6 L411.0 495.6 L412.0 495.6 L413.0 495.6 L414.0 495.6 L415.0 495.6 L416.0 495.6 L417.0 495.6 L418.0 495.6 L419.0 495.7 L420.0 495.8 L421.0 495.9 L422.0 496.0 L423.0 496.2 L424.0 496.3 L425.0 496.5 L426.0 496.7 L427.0 496.9 L428.0 497.1 L429.0 497.4 L430.0 497.6 L431.0 498.0 L432.0 498.4 L433.0 498.9 L434.0 499.4 L435.0 500.0 L436.0 500.7 L437.0 501.5 L438.0 502.2 L439.0 503.0 L440.0 503.9 L441.0 504.7 L442.0 505.6 L443.0 506.4 L444.0 507.4 L445.0 508.4 L446.0 509.5 L447.0 510.7 L448.0 512.0 L449.0 513.3 L450.0 514.7 L451.0 516.1 L452.0 517.6 L453.0 519.2 L454.0 520.8 L455.0 522.7 L456.0 524.6 L457.0 526.7 L458.0 528.8 L459.0 531.0 L460.0 533.2 L461.0 535.4 L462.0 537.6 L463.0 539.9 L464.0 542.2 L465.0 544.6 L466.0 547.0 L467.0 549.4 L468.0 551.8 L469.0 554.1 L470.0 556.4 L471.0 558.8 L472.0 561.1 L473.0 563.4 L474.0 565.8 L475.0 568.1 L476.0 570.4 L477.0 572.8 L478.0 575.1 L479.0 577.4 L480.0 579.7 L481.0 582.0 L482.0 584.3 L483.0 586.7 L484.0 589.0 L485.0 591.3 L486.0 593.7 L487.0 596.0 L488.0 598.4 L489.0 600.7 L490.0 603.1 L491.0 605.4 L492.0 607.8 L493.0 610.0 L494.0 612.3 L495.0 614.5 L496.0 616.8 L497.0 619.1 L498.0 621.5 L499.0 624.0 L500.0 626.7 L501.0 629.5 L502.0 632.5 L503.0 635.5 L504.0 638.6 L505.0 641.8 L506.0 644.8 L507.0 647.9 L508.0 650.8 L509.0 653.6 L510.0 656.3 L511.0 659.0 L512.0 661.7 L513.0 664.3 L514.0 666.8 L515.0 669.4 L516.0 672.0 L517.0 674.5 L518.0 677.1 L519.0 679.7 L520.0 682.3 L521.0 684.9 L522.0 687.5 L523.0 690.1 L524.0 692.7 L525.0 695.3 L526.0 698.0 L527.0 700.7 L528.0 703.5 L529.0 706.3 L530.0 709.1 L531.0 712.0 L532.0 714.9 L533.0 718.0 L534.0 721.0 L535.0 724.0 L536.0 727.1 L537.0 730.2 L538.0 733.3 L539.0 736.2 L540.0 738.8 L541.0 741.2 L542.0 743.5 L543.0 745.7 L544.0 747.8 L545.0 749.9 L546.0 752.0 L547.0 754.0 L548.0 756.0 L549.0 758.0 L550.0 760.0 L551.0 761.9 L552.0 763.8 L553.0 765.6 L554.0 767.4 L555.0 769.2 L556.0 770.8 L557.0 772.5 L558.0 774.1 L559.0 775.7 L560.0 777.3 L561.0 778.9 L562.0 780.4 L563.0 781.9 L564.0 783.4 L565.0 784.9 L566.0 786.4 L567.0 787.8 L568.0 789.2 L569.0 790.6 L570.0 791.9 L571.0 793.3 L572.0 794.6 L573.0 795.9 L574.0 797.1 L575.0 798.3 L576.0 799.5 L577.0 800.7 L578.0 801.8 L579.0 803.0 L580.0 804.1 L581.0 805.2 L582.0 806.2 L583.0 807.3 L584.0 808.3 L585.0 809.4 L586.0 810.4 L587.0 811.4 L588.0 812.3 L589.0 813.3 L590.0 814.2 L591.0 815.2 L592.0 816.1 L593.0 817.0 L594.0 817.9 L595.0 818.7 L596.0 819.6 L597.0 820.4 L598.0 821.3 L599.0 822.1 L600.0 822.9 L601.0 823.6 L602.0 824.4 L603.0 825.1 L604.0 825.8 L605.0 826.5 L606.0 827.1 L607.0 827.8 L608.0 828.5 L609.0 829.3 L610.0 830.0 L611.0 830.8 L612.0 831.5 L613.0 832.3 L614.0 833.0 L615.0 833.8 L616.0 834.6 L617.0 835.4 L618.0 836.2 L619.0 837.0 L620.0 837.7 L621.0 838.5 L622.0 839.3 L623.0 840.1 L624.0 840.9 L625.0 841.7 L626.0 842.5 L627.0 843.3 L628.0 844.1 L629.0 844.9 L630.0 845.7 L631.0 846.5 L632.0 847.2 L633.0 848.0 L634.0 848.8 L635.0 849.6 L636.0 850.4 L637.0 851.2 L638.0 852.1 L639.0 852.9 L640.0 853.7 L641.0 854.5 L642.0 855.4 L643.0 856.2 L644.0 857.1 L645.0 858.0 L646.0 858.9 L647.0 859.8 L648.0 860.7 L649.0 861.6 L650.0 862.5 L651.0 863.4 L652.0 864.3 L653.0 865.2 L654.0 866.1 L655.0 867.0 L656.0 867.9 L657.0 868.8 L658.0 869.7 L659.0 870.6 L660.0 871.5 L661.0 872.4 L662.0 873.3 L663.0 874.1 L664.0 875.0 L665.0 875.9 L666.0 876.8 L667.0 877.6 L668.0 878.5 L669.0 879.3 L670.0 880.1 L671.0 880.9 L672.0 881.7 L673.0 882.5 L674.0 883.3 L675.0 884.1 L676.0 884.9 L677.0 885.6 L678.0 886.4 L679.0 887.2 L680.0 888.0 L681.0 888.8 L682.0 889.6 L683.0 890.4 L684.0 891.2 L685.0 892.0 L686.0 892.8 L687.0 893.6 L688.0 894.4 L689.0 895.2 L690.0 896.0 L691.0 896.8 L692.0 897.7 L693.0 898.5 L694.0 899.3 L695.0 900.1 L696.0 901.0 L697.0 901.8 L698.0 902.7 L699.0 903.5 L700.0 904.4 L701.0 905.3 L702.0 906.2 L703.0 907.1 L704.0 908.0 L705.0 909.0 L706.0 910.0 L707.0 911.0 L708.0 912.0 L709.0 913.0 L710.0 914.1 L711.0 915.1 L712.0 916.2 L713.0 917.2 L714.0 918.3 L715.0 919.3 L716.0 920.4 L717.0 921.4 L718.0 922.4 L719.0 923.3 L720.0 924.2 L721.0 925.1 L722.0 926.0 L723.0 926.9 L724.0 927.8 L725.0 928.6 L726.0 929.4 L727.0 930.3 L728.0 931.1 L729.0 931.9 L730.0 932.7 L731.0 933.5 L732.0 934.3 L733.0 935.0 L734.0 935.8 L735.0 936.5 L736.0 937.3 L737.0 938.0 L738.0 938.8 L739.0 939.5 L740.0 940.2 L741.0 941.0 L742.0 941.7 L743.0 942.4 L744.0 943.1 L745.0 943.8 L746.0 944.4 L747.0 945.1 L748.0 945.7 L749.0 946.4 L750.0 947.0 L751.0 947.7 L752.0 948.4 L753.0 949.0 L754.0 949.7 L755.0 950.3 L756.0 950.9 L757.0 951.6 L758.0 952.2 L759.0 952.8 L760.0 953.4 L761.0 954.0 L762.0 954.6 L763.0 955.2 L764.0 955.8 L765.0 956.4 L766.0 957.0 L767.0 957.6 L768.0 958.2 L769.0 958.7 L770.0 959.3 L771.0 959.9 L772.0 960.5 L773.0 961.0 L774.0 961.6 L775.0 962.1 L776.0 962.7 L777.0 963.2 L778.0 963.8 L779.0 964.3 L780.0 964.9 L781.0 965.4 L782.0 966.0 L783.0 966.5 L784.0 967.1 L785.0 967.6 L786.0 968.2 L787.0 968.7 L788.0 969.3 L789.0 969.9 L790.0 970.5 L791.0 971.1 L792.0 971.6 L793.0 972.2 L794.0 972.8 L795.0 973.3 L796.0 973.8 L797.0 974.3 L798.0 974.8 L799.0 975.3 L800.0 975.7 L801.0 976.1 L802.0 976.5 L803.0 976.9 L804.0 977.3 L805.0 977.7 L806.0 978.1 L807.0 978.4 L808.0 978.8 L809.0 979.1 L810.0 979.5 L811.0 979.8 L812.0 980.1 L813.0 980.5 L814.0 980.8 L815.0 981.1 L816.0 981.4 L817.0 981.7 L818.0 982.0 L819.0 982.3 L820.0 982.6 L821.0 982.8 L822.0 983.1 L823.0 983.3 L824.0 983.6 L825.0 983.8 L826.0 984.0 L827.0 984.3 L828.0 984.5 L829.0 984.7 L830.0 984.9 L831.0 985.1 L832.0 985.3 L833.0 985.5 L834.0 985.7 L835.0 985.9 L836.0 986.1 L837.0 986.3 L838.0 986.4 L839.0 986.6 L840.0 986.8 L841.0 986.9 L842.0 987.1 L843.0 987.3 L844.0 987.4 L845.0 987.6 L846.0 987.7 L847.0 987.9 L848.0 988.0 L849.0 988.1 L850.0 988.3 L851.0 988.4 L852.0 988.5 L853.0 988.7 L854.0 988.8 L855.0 988.9 L856.0 989.1 L857.0 989.2 L858.0 989.3 L859.0 989.4 L860.0 989.6 L861.0 989.7 L862.0 989.9 L863.0 990.0 L864.0 990.2 L865.0 990.3 L866.0 990.5 L867.0 990.6 L868.0 990.8 L869.0 990.9 L870.0 991.1 L871.0 991.1 L872.0 991.2 L873.0 991.3 L874.0 991.3 L875.0 991.4 L876.0 991.5 L877.0 991.5 L878.0 991.6 L879.0 991.6 L880.0 991.6 L881.0 991.7 L882.0 991.7 L883.0 991.7 L884.0 991.7 L885.0 991.8 L886.0 991.8 L887.0 991.8 L888.0 991.8 L889.0 991.8 L890.0 991.8 L891.0 991.8 L892.0 991.8 L893.0 991.8 L894.0 991.8 L895.0 991.8 L896.0 991.8 L897.0 991.7 L898.0 991.7 L899.0 991.7 L900.0 991.7 L901.0 991.7 L902.0 991.7 L903.0 991.7 L904.0 991.7 L905.0 991.7 L906.0 991.7 L907.0 991.8 L908.0 991.8 L909.0 991.8 L910.0 991.8 L911.0 991.8 L912.0 991.8 L913.0 991.8 L914.0 991.8 L915.0 991.9 L916.0 991.9 L917.0 991.9 L918.0 991.9 L919.0 992.0 L920.0 992.0 L921.0 992.0 L922.0 992.1 L923.0 992.1 L924.0 992.1 L925.0 992.2 L926.0 992.2 L927.0 992.3 L928.0 992.3 L929.0 992.4 L930.0 992.4 L931.0 992.5 L932.0 992.6 L933.0 992.6 L934.0 992.7 L935.0 992.7 L936.0 992.8 L937.0 992.9 L938.0 992.9 L939.0 993.0 L940.0 993.1 L941.0 993.1 L942.0 993.2 L943.0 993.3 L944.0 993.3 L945.0 993.4 L946.0 993.5 L947.0 993.6 L948.0 993.6 L949.0 993.7 L950.0 993.8 L951.0 993.9 L952.0 994.0 L953.0 994.1 L954.0 994.2 L955.0 994.3 L956.0 994.3 L957.0 994.4 L958.0 994.5 L959.0 994.6 L960.0 994.7 L961.0 994.8 L962.0 994.9 L963.0 995.0 L964.0 995.1 L965.0 995.2 L966.0 995.3 L967.0 995.4 L968.0 995.5 L969.0 995.6 L970.0 995.7 L971.0 995.8 L972.0 995.9 L973.0 996.0 L974.0 996.1 L975.0 996.2 L976.0 996.3 L977.0 996.4 L978.0 996.5 L979.0 996.6 L980.0 996.8 L981.0 996.9 L982.0 997.0 L983.0 997.1 L984.0 997.2 L985.0 997.3 L986.0 997.5 L987.0 997.6 L988.0 997.7 L989.0 997.9 L990.0 998.0 L991.0 998.1 L992.0 998.3 L993.0 998.4 L994.0 998.6 L995.0 998.7 L996.0 998.9 L997.0 999.0 L998.0 999.2 L999.0 999.3 L1000.0 999.5 L1001.0 999.6 L1002.0 999.8 L1003.0 999.9 L1004.0 1000.1 L1005.0 1000.2 L1006.0 1000.4 L1007.0 1000.6 L1008.0 1000.7 L1009.0 1000.9 L1010.0 1001.0 L1011.0 1001.2 L1012.0 1001.4 L1013.0 1001.6 L1014.0 1001.7 L1015.0 1001.9 L1016.0 1002.1 L1017.0 1002.3 L1018.0 1002.4 L1019.0 1002.6 L1020.0 1002.8 L1021.0 1003.0 L1022.0 1003.2 L1023.0 1003.4 L1024.0 1003.6 L1025.0 1003.8 L1026.0 1004.0 L1027.0 1004.2 L1028.0 1004.4 L1029.0 1004.6 L1030.0 1004.8 L1031.0 1005.0 L1032.0 1005.3 L1033.0 1005.5 L1034.0 1005.7 L1035.0 1005.9 L1036.0 1006.2 L1037.0 1006.4 L1038.0 1006.7 L1039.0 1006.9 L1040.0 1007.1 L1041.0 1007.4 L1042.0 1007.6 L1043.0 1007.9 L1044.0 1008.1 L1045.0 1008.4 L1046.0 1008.6 L1047.0 1008.9 L1048.0 1009.1 L1049.0 1009.3 L1050.0 1009.6 L1051.0 1009.8 L1052.0 1010.1 L1053.0 1010.3 L1054.0 1010.5 L1055.0 1010.8 L1056.0 1011.0 L1057.0 1011.2 L1058.0 1011.5 L1059.0 1011.7 L1060.0 1012.0 L1061.0 1012.2 L1062.0 1012.4 L1063.0 1012.7 L1064.0 1012.9 L1065.0 1013.2 L1066.0 1013.4 L1067.0 1013.7 L1068.0 1013.9 L1069.0 1014.2 L1070.0 1014.5 L1071.0 1014.7 L1072.0 1015.0 L1073.0 1015.2 L1074.0 1015.5 L1075.0 1015.7 L1076.0 1016.0 L1077.0 1016.3 L1078.0 1016.5 L1079.0 1016.8 L1080.0 1017.1 L1081.0 1017.4 L1082.0 1017.6 L1083.0 1017.9 L1084.0 1018.2 L1085.0 1018.5 L1086.0 1018.7 L1087.0 1019.0 L1088.0 1019.3 L1089.0 1019.5 L1090.0 1019.8 L1091.0 1020.1 L1092.0 1020.3 L1093.0 1020.6 L1094.0 1020.9 L1095.0 1021.2 L1096.0 1021.4 L1097.0 1021.7 L1098.0 1022.0 L1099.0 1022.3 L1100.0 1022.5 L1101.0 1022.8 L1102.0 1023.1 L1103.0 1023.3 L1104.0 1023.6 L1105.0 1023.9 L1106.0 1024.2 L1107.0 1024.5 L1108.0 1024.7 L1109.0 1025.0 L1110.0 1025.3 L1111.0 1025.6 L1112.0 1025.9 L1113.0 1026.2 L1114.0 1026.4 L1115.0 1026.7 L1116.0 1027.0 L1117.0 1027.3 L1118.0 1027.6 L1119.0 1027.9 L1120.0 1028.2 L1121.0 1028.5 L1122.0 1028.8 L1123.0 1029.1 L1124.0 1029.4 L1125.0 1029.8 L1126.0 1030.1 L1127.0 1030.4 L1128.0 1030.7 L1129.0 1031.0 L1130.0 1031.2 L1131.0 1031.5 L1132.0 1031.8 L1133.0 1032.1 L1134.0 1032.3 L1135.0 1032.6 L1136.0 1032.8 L1137.0 1033.1 L1138.0 1033.4 L1139.0 1033.6 L1140.0 1033.9 L1141.0 1034.1 L1142.0 1034.4 L1143.0 1034.6 L1144.0 1034.8 L1145.0 1035.1 L1146.0 1035.3 L1147.0 1035.5 L1148.0 1035.7 L1149.0 1035.9 L1150.0 1036.2 L1151.0 1036.4 L1152.0 1036.7 L1153.0 1036.9 L1154.0 1037.2 L1155.0 1037.7 L1156.0 1038.3 L1157.0 1039.0 L1158.0 1039.7 L1159.0 1040.4 L1160.0 1040.9 L1161.0 1041.5 L1162.0 1042.1 L1163.0 1042.7 L1164.0 1043.3 L1165.0 1044.0 L1166.0 1044.5 L1167.0 1045.1 L1168.0 1045.6 L1169.0 1046.2 L1170.0 1046.7 L1171.0 1047.2 L1172.0 1047.6 L1173.0 1047.9 L1174.0 1048.2 L1175.0 1048.5 L1176.0 1048.7 L1177.0 1049.0 L1178.0 1049.2 L1179.0 1049.4 L1180.0 1049.6 L1181.0 1049.8 L1182.0 1050.0 L1183.0 1050.2 L1184.0 1050.4 L1185.0 1050.6 L1186.0 1050.8 L1187.0 1050.9 L1188.0 1051.1 L1189.0 1051.3 L1190.0 1051.4 L1191.0 1051.5 L1192.0 1051.7 L1193.0 1051.8 L1194.0 1051.9 L1195.0 1052.0 L1196.0 1052.1 L1197.0 1052.2 L1198.0 1052.3 L1199.0 1052.4 L1200.0 1052.5 L1201.0 1052.6 L1202.0 1052.7 L1203.0 1052.7 L1204.0 1052.8 L1205.0 1052.9 L1206.0 1053.0 L1207.0 1053.0 L1208.0 1053.1 L1209.0 1053.2 L1210.0 1053.3 L1211.0 1053.4 L1212.0 1053.4 L1213.0 1053.5 L1214.0 1053.6 L1215.0 1053.7 L1216.0 1053.8 L1217.0 1053.8 L1218.0 1053.9 L1219.0 1054.0 L1220.0 1054.1 L1221.0 1054.1 L1222.0 1054.2 L1223.0 1054.3 L1224.0 1054.3 L1225.0 1054.4 L1226.0 1054.4 L1227.0 1054.5 L1228.0 1054.6 L1229.0 1054.6 L1230.0 1054.7 L1231.0 1054.7 L1232.0 1054.8 L1233.0 1054.8 L1234.0 1054.9 L1235.0 1054.9 L1236.0 1055.0 L1237.0 1055.0 L1238.0 1055.1 L1239.0 1055.1 L1240.0 1055.2 L1241.0 1055.2 L1242.0 1055.2 L1243.0 1055.3 L1244.0 1055.3 L1245.0 1055.4 L1246.0 1055.4 L1247.0 1055.4 L1248.0 1055.5 L1249.0 1055.5 L1250.0 1055.5 L1251.0 1055.5 L1252.0 1055.6 L1253.0 1055.6 L1254.0 1055.6 L1255.0 1055.6 L1256.0 1055.6 L1257.0 1055.6 L1258.0 1055.7 L1259.0 1055.7 L1260.0 1055.7 L1261.0 1055.7 L1262.0 1055.7 L1263.0 1055.7 L1264.0 1055.7 L1265.0 1055.7 L1266.0 1055.8 L1267.0 1055.8 L1268.0 1055.8 L1269.0 1055.8 L1270.0 1055.8 L1271.0 1055.8 L1272.0 1055.8 L1273.0 1055.9 L1274.0 1055.9 L1275.0 1055.9 L1276.0 1055.9 L1277.0 1055.9 L1278.0 1055.9 L1279.0 1056.0 L1280.0 1056.0 L1281.0 1056.0 L1282.0 1056.0 L1283.0 1056.0 L1284.0 1056.0 L1285.0 1056.0 L1286.0 1056.0 L1287.0 1056.0 L1288.0 1056.1 L1289.0 1056.1 L1290.0 1056.1 L1291.0 1056.0 L1292.0 1056.0 L1293.0 1055.8 L1294.0 1055.5 L1295.0 1055.2 L1296.0 1054.8 L1297.0 1054.4 L1298.0 1054.0 L1299.0 1053.7 L1300.0 1053.5 L1301.0 1053.4 L1302.0 1053.4 L1303.0 1053.5 L1304.0 1053.6 L1305.0 1053.9 L1306.0 1054.2 L1307.0 1054.5 L1308.0 1054.8 L1309.0 1055.1 L1310.0 1055.4 L1311.0 1055.7 L1312.0 1055.9 L1313.0 1056.0 L1314.0 1056.1 L1315.0 1056.1 L1316.0 1056.1 L1317.0 1056.1 L1318.0 1056.1 L1319.0 1056.1 L1320.0 1056.1 L1321.0 1056.1 L1322.0 1056.1 L1323.0 1056.1 L1324.0 1056.1 L1325.0 1056.1 L1326.0 1056.1 L1327.0 1056.1 L1328.0 1056.1 L1329.0 1056.1 L1330.0 1056.1 L1331.0 1056.1 L1332.0 1056.1 L1333.0 1056.1 L1334.0 1056.1 L1335.0 1056.1 L1336.0 1056.1 L1337.0 1056.1 L1338.0 1056.1 L1339.0 1056.1 L1340.0 1056.1 L1341.0 1056.1 L1342.0 1056.1 L1343.0 1056.1 L1344.0 1056.1 L1345.0 1056.1 L1346.0 1056.1 L1347.0 1056.1 L1348.0 1056.1 L1349.0 1056.1 L1350.0 1056.1 L1351.0 1056.1 L1352.0 1056.1 L1353.0 1056.1 L1354.0 1056.1 L1355.0 1056.1 L1356.0 1056.1 L1357.0 1056.1 L1358.0 1056.1 L1359.0 1056.1 L1360.0 1056.1 L1361.0 1056.1 L1362.0 1056.1 L1363.0 1056.1 L1364.0 1056.1 L1365.0 1056.1 L1366.0 1056.1 L1367.0 1056.1 L1368.0 1056.1 L1369.0 1056.1 L1370.0 1056.1 L1371.0 1056.1 L1372.0 1056.1 L1373.0 1056.1 L1374.0 1056.1 L1375.0 1056.1 L1376.0 1056.1 L1377.0 1056.1 L1378.0 1056.1 L1379.0 1056.1 L1380.0 1056.1 L1381.0 1056.1 L1382.0 1056.1 L1383.0 1056.1 L1384.0 1056.1 L1385.0 1056.1 L1386.0 1056.1 L1387.0 1056.1 L1388.0 1056.1 L1389.0 1056.1 L1390.0 1056.1 L1391.0 1056.1 L1392.0 1056.1 L1393.0 1056.1 L1394.0 1056.1 L1395.0 1056.1 L1396.0 1056.1 L1397.0 1056.1 L1398.0 1056.1 L1399.0 1056.1 L1400.0 1056.1 L1401.0 1056.1 L1402.0 1056.1 L1403.0 1056.1 L1404.0 1056.1 L1405.0 1056.1 L1406.0 1056.1 L1407.0 1056.1 L1408.0 1056.1 L1409.0 1056.1 L1410.0 1056.1 L1411.0 1056.1 L1412.0 1056.1 L1413.0 1056.1 L1414.0 1056.1 L1415.0 1056.1 L1416.0 1056.1 L1417.0 1056.1 L1418.0 1056.1 L1419.0 1056.1 L1420.0 1056.1 L1421.0 1056.1 L1422.0 1056.1 L1423.0 1056.1 L1424.0 1056.1 L1425.0 1056.1 L1426.0 1056.1 L1427.0 1056.1 L1428.0 1056.1 L1429.0 1056.1 L1430.0 1056.1 L1431.0 1056.1 L1432.0 1056.1 L1433.0 1056.1 L1434.0 1056.1 L1435.0 1056.1 L1436.0 1056.1 L1437.0 1056.1 L1438.0 1056.1 L1439.0 1056.1 L1440.0 1056.1 L1441.0 1056.1 L1442.0 1056.1 L1443.0 1056.1 L1444.0 1056.1 L1445.0 1056.1 L1446.0 1056.1 L1447.0 1056.1 L1448.0 1056.1 L1449.0 1056.1 L1450.0 1056.1 L1451.0 1056.1 L1452.0 1056.1 L1453.0 1056.1 L1454.0 1056.1 L1455.0 1056.1 L1456.0 1056.1 L1457.0 1056.1 L1458.0 1056.1 L1459.0 1056.1 L1460.0 1056.1 L1461.0 1056.1 L1462.0 1056.1 L1463.0 1056.1 L1464.0 1056.1 L1465.0 1056.0 L1466.0 1056.0 L1467.0 1056.0 L1468.0 1056.0 L1469.0 1056.0 L1470.0 1056.0 L1471.0 1056.0 L1472.0 1056.0 L1473.0 1056.0 L1474.0 1056.0 L1475.0 1056.0 L1476.0 1056.0 L1477.0 1056.0 L1478.0 1056.0 L1479.0 1056.0 L1480.0 1056.0 L1481.0 1056.0 L1482.0 1056.0 L1483.0 1056.0 L1484.0 1056.0 L1485.0 1056.0 L1486.0 1056.0 L1487.0 1056.0 L1488.0 1056.0 L1489.0 1056.0 L1490.0 1056.0 L1491.0 1056.0 L1492.0 1056.0 L1493.0 1056.0 L1494.0 1056.0 L1495.0 1056.0 L1496.0 1056.0 L1497.0 1056.0 L1498.0 1056.0 L1499.0 1056.0 L1500.0 1056.0 L1501.0 1056.0 L1502.0 1056.0 L1503.0 1056.0 L1504.0 1056.0 L1505.0 1056.0 L1506.0 1056.0 L1507.0 1056.0 L1508.0 1056.0 L1509.0 1056.0 L1510.0 1056.0 L1511.0 1056.0 L1512.0 1056.0 L1513.0 1056.0 L1514.0 1056.0 L1515.0 1056.0 L1516.0 1056.0 L1517.0 1056.0 L1518.0 1056.0 L1519.0 1056.0 L1520.0 1056.0 L1521.0 1056.0 L1522.0 1056.0 L1523.0 1056.0 L1524.0 1056.0 L1525.0 1056.0 L1526.0 1056.0 L1527.0 1056.0 L1528.0 1056.0 L1529.0 1056.0 L1530.0 1056.0 L1531.0 1056.0 L1532.0 1056.0 L1533.0 1056.0 L1534.0 1056.0 L1535.0 1056.0 L1536.0 1056.0 L1537.0 1056.0 L1538.0 1056.0 L1539.0 1056.0 L1540.0 1056.0 L1541.0 1056.0 L1542.0 1056.0 L1543.0 1056.0 L1544.0 1056.0 L1545.0 1056.0 L1546.0 1056.0"/>
<path class="c" stroke="#000080" d="M158.0 66.0 L159.0 66.0 L160.0 66.2 L161.0 66.4 L162.0 66.6 L163.0 66.9 L164.0 67.3 L165.0 67.7 L166.0 68.1 L167.0 68.5 L168.0 69.0 L169.0 69.5 L170.0 70.3 L171.0 71.1 L172.0 72.0 L173.0 73.0 L174.0 74.1 L175.0 75.1 L176.0 76.0 L177.0 76.9 L178.0 77.8 L179.0 78.7 L180.0 79.6 L181.0 80.5 L182.0 81.4 L183.0 82.4 L184.0 83.4 L185.0 84.5 L186.0 85.6 L187.0 86.8 L188.0 88.1 L189.0 89.4 L190.0 90.8 L191.0 92.2 L192.0 93.6 L193.0 95.2 L194.0 96.7 L195.0 98.4 L196.0 100.1 L197.0 101.9 L198.0 103.7 L199.0 105.6 L200.0 107.5 L201.0 109.4 L202.0 111.4 L203.0 113.3 L204.0 115.3 L205.0 117.2 L206.0 119.1 L207.0 121.0 L208.0 122.9 L209.0 124.7 L210.0 126.6 L211.0 128.5 L212.0 130.3 L213.0 132.2 L214.0 134.1 L215.0 136.0 L216.0 137.8 L217.0 139.7 L218.0 141.6 L219.0 143.5 L220.0 145.4 L221.0 147.3 L222.0 149.2 L223.0 151.0 L224.0 152.9 L225.0 154.7 L226.0 156.6 L227.0 158.4 L228.0 160.3 L229.0 162.2 L230.0 164.1 L231.0 166.0 L232.0 168.0 L233.0 170.0 L234.0 172.1 L235.0 174.2 L236.0 176.6 L237.0 178.9 L238.0 181.0 L239.0 182.8 L240.0 184.6 L241.0 186.3 L242.0 187.8 L243.0 189.4 L244.0 190.8 L245.0 192.3 L246.0 193.7 L247.0 195.1 L248.0 196.5 L249.0 197.9 L250.0 199.3 L251.0 200.7 L252.0 202.2 L253.0 203.7 L254.0 205.3 L255.0 207.0 L256.0 208.6 L257.0 210.2 L258.0 211.8 L259.0 213.3 L260.0 214.9 L261.0 216.5 L262.0 218.2 L263.0 220.0 L264.0 221.8 L265.0 223.7 L266.0 225.8 L267.0 227.9 L268.0 230.3 L269.0 232.8 L270.0 235.7 L271.0 239.1 L272.0 242.7 L273.0 246.6 L274.0 250.7 L275.0 254.8 L276.0 258.8 L277.0 263.0 L278.0 267.3 L279.0 271.8 L280.0 276.3 L281.0 280.9 L282.0 285.3 L283.0 289.8 L284.0 294.4 L285.0 298.9 L286.0 303.4 L287.0 307.8 L288.0 312.2 L289.0 316.4 L290.0 320.6 L291.0 324.8 L292.0 329.0 L293.0 333.1 L294.0 337.2 L295.0 341.2 L296.0 345.3 L297.0 349.3 L298.0 353.3 L299.0 357.3 L300.0 361.2 L301.0 365.0 L302.0 368.7 L303.0 372.4 L304.0 376.1 L305.0 379.6 L306.0 383.2 L307.0 386.6 L308.0 390.0 L309.0 393.4 L310.0 396.7 L311.0 400.0 L312.0 403.2 L313.0 406.3 L314.0 409.3 L315.0 412.0 L316.0 414.5 L317.0 416.9 L318.0 419.2 L319.0 421.3 L320.0 423.4 L321.0 425.5 L322.0 427.5 L323.0 429.6 L324.0 431.6 L325.0 433.8 L326.0 436.0 L327.0 438.3 L328.0 440.8 L329.0 443.2 L330.0 445.8 L331.0 448.4 L332.0 450.9 L333.0 453.5 L334.0 456.0 L335.0 458.4 L336.0 460.7 L337.0 463.0 L338.0 465.1 L339.0 467.0 L340.0 468.8 L341.0 470.4 L342.0 472.0 L343.0 473.5 L344.0 474.9 L345.0 476.3 L346.0 477.7 L347.0 479.0 L348.0 480.4 L349.0 481.8 L350.0 483.2 L351.0 484.7 L352.0 486.3 L353.0 488.0 L354.0 489.8 L355.0 491.8 L356.0 493.9 L357.0 496.0 L358.0 498.1 L359.0 500.3 L360.0 502.3 L361.0 504.2 L362.0 506.0 L363.0 507.7 L364.0 509.3 L365.0 510.9 L366.0 512.4 L367.0 513.9 L368.0 515.3 L369.0 516.6 L370.0 517.8 L371.0 519.0 L372.0 520.1 L373.0 521.2 L374.0 522.3 L375.0 523.3 L376.0 524.3 L377.0 525.3 L378.0 526.2 L379.0 527.0 L380.0 527.8 L381.0 528.4 L382.0 529.0 L383.0 529.5 L384.0 530.0 L385.0 530.5 L386.0 530.9 L387.0 531.3 L388.0 531.7 L389.0 532.1 L390.0 532.4 L391.0 532.7 L392.0 532.9 L393.0 533.1 L394.0 533.2 L395.0 533.2 L396.0 533.3 L397.0 533.3 L398.0 533.3 L399.0 533.4 L400.0 533.4 L401.0 533.4 L402.0 533.4 L403.0 533.5 L404.0 533.5 L405.0 533.5 L406.0 533.5 L407.0 533.5 L408.0 533.5 L409.0 533.5 L410.0 533.5 L411.0 533.4 L412.0 533.4 L413.0 533.4 L414.0 533.3 L415.0 533.3 L416.0 533.3 L417.0 533.3 L418.0 533.2 L419.0 533.2 L420.0 533.2 L421.0 533.2 L422.0 533.3 L423.0 533.3 L424.0 533.5 L425.0 533.6 L426.0 533.8 L427.0 534.0 L428.0 534.3 L429.0 534.5 L430.0 534.8 L431.0 535.1 L432.0 535.4 L433.0 535.7 L434.0 536.0 L435.0 536.4 L436.0 536.8 L437.0 537.2 L438.0 537.8 L439.0 538.3 L440.0 538.9 L441.0 539.5 L442.0 540.2 L443.0 540.9 L444.0 541.6 L445.0 542.3 L446.0 543.1 L447.0 543.9 L448.0 544.8 L449.0 545.7 L450.0 546.7 L451.0 547.8 L452.0 548.8 L453.0 549.9 L454.0 551.0 L455.0 552.1 L456.0 553.3 L457.0 554.4 L458.0 555.6 L459.0 556.7 L460.0 558.0 L461.0 559.2 L462.0 560.5 L463.0 561.8 L464.0 563.2 L465.0 564.6 L466.0 566.0 L467.0 567.5 L468.0 569.1 L469.0 570.7 L470.0 572.3 L471.0 574.1 L472.0 575.8 L473.0 577.6 L474.0 579.4 L475.0 581.3 L476.0 583.3 L477.0 585.3 L478.0 587.3 L479.0 589.3 L480.0 591.4 L481.0 593.5 L482.0 595.5 L483.0 597.5 L484.0 599.5 L485.0 601.4 L486.0 603.4 L487.0 605.4 L488.0 607.3 L489.0 609.3 L490.0 611.3 L491.0 613.3 L492.0 615.4 L493.0 617.5 L494.0 619.6 L495.0 621.6 L496.0 623.8 L497.0 625.9 L498.0 628.2 L499.0 630.5 L500.0 633.0 L501.0 635.6 L502.0 638.4 L503.0 641.3 L504.0 644.3 L505.0 647.3 L506.0 650.3 L507.0 653.2 L508.0 656.0 L509.0 658.7 L510.0 661.5 L511.0 664.2 L512.0 666.9 L513.0 669.6 L514.0 672.3 L515.0 674.9 L516.0 677.5 L517.0 680.1 L518.0 682.6 L519.0 685.0 L520.0 687.4 L521.0 689.6 L522.0 691.9 L523.0 694.0 L524.0 696.2 L525.0 698.4 L526.0 700.7 L527.0 703.0 L528.0 705.5 L529.0 708.0 L530.0 710.7 L531.0 713.4 L532.0 716.0 L533.0 718.5 L534.0 720.9 L535.0 723.1 L536.0 725.2 L537.0 727.2 L538.0 729.1 L539.0 731.0 L540.0 732.9 L541.0 734.6 L542.0 736.4 L543.0 738.1 L544.0 739.7 L545.0 741.3 L546.0 742.8 L547.0 744.3 L548.0 745.8 L549.0 747.3 L550.0 748.8 L551.0 750.4 L552.0 752.0 L553.0 753.6 L554.0 755.4 L555.0 757.1 L556.0 758.9 L557.0 760.6 L558.0 762.4 L559.0 764.1 L560.0 765.7 L561.0 767.2 L562.0 768.7 L563.0 770.0 L564.0 771.2 L565.0 772.4 L566.0 773.5 L567.0 774.5 L568.0 775.5 L569.0 776.5 L570.0 777.5 L571.0 778.4 L572.0 779.3 L573.0 780.2 L574.0 781.2 L575.0 782.1 L576.0 783.0 L577.0 784.0 L578.0 785.0 L579.0 786.0 L580.0 787.0 L581.0 788.0 L582.0 789.1 L583.0 790.1 L584.0 791.1 L585.0 792.1 L586.0 793.1 L587.0 794.2 L588.0 795.2 L589.0 796.2 L590.0 797.3 L591.0 798.3 L592.0 799.4 L593.0 800.5 L594.0 801.5 L595.0 802.7 L596.0 803.9 L597.0 805.0 L598.0 806.0 L599.0 806.9 L600.0 807.8 L601.0 808.6 L602.0 809.3 L603.0 810.1 L604.0 810.8 L605.0 811.5 L606.0 812.1 L607.0 812.8 L608.0 813.5 L609.0 814.3 L610.0 815.0 L611.0 815.8 L612.0 816.6 L613.0 817.5 L614.0 818.4 L615.0 819.3 L616.0 820.2 L617.0 821.1 L618.0 822.0 L619.0 823.0 L620.0 823.9 L621.0 824.8 L622.0 825.8 L623.0 826.7 L624.0 827.6 L625.0 828.5 L626.0 829.4 L627.0 830.3 L628.0 831.1 L629.0 832.0 L630.0 832.9 L631.0 833.8 L632.0 834.6 L633.0 835.5 L634.0 836.4 L635.0 837.3 L636.0 838.2 L637.0 839.1 L638.0 840.0 L639.0 840.9 L640.0 841.8 L641.0 842.7 L642.0 843.6 L643.0 844.5 L644.0 845.5 L645.0 846.4 L646.0 847.3 L647.0 848.2 L648.0 849.2 L649.0 850.1 L650.0 851.1 L651.0 852.1 L652.0 853.0 L653.0 854.0 L654.0 855.0 L655.0 856.0 L656.0 857.0 L657.0 858.0 L658.0 859.1 L659.0 860.1 L660.0 861.1 L661.0 862.1 L662.0 863.1 L663.0 864.1 L664.0 865.1 L665.0 866.1 L666.0 867.1 L667.0 868.1 L668.0 869.1 L669.0 870.1 L670.0 871.1 L671.0 872.1 L672.0 873.1 L673.0 874.1 L674.0 875.1 L675.0 876.1 L676.0 877.1 L677.0 878.1 L678.0 879.1 L679.0 880.1 L680.0 881.0 L681.0 882.0 L682.0 883.0 L683.0 884.0 L684.0 885.0 L685.0 886.0 L686.0 887.0 L687.0 888.1 L688.0 889.1 L689.0 890.2 L690.0 891.3 L691.0 892.5 L692.0 893.7 L693.0 894.9 L694.0 896.1 L695.0 897.3 L696.0 898.6 L697.0 899.8 L698.0 901.1 L699.0 902.3 L700.0 903.6 L701.0 904.8 L702.0 905.9 L703.0 907.1 L704.0 908.2 L705.0 909.2 L706.0 910.3 L707.0 911.3 L708.0 912.4 L709.0 913.5 L710.0 914.6 L711.0 915.7 L712.0 916.8 L713.0 917.9 L714.0 919.0 L715.0 920.1 L716.0 921.1 L717.0 922.2 L718.0 923.2 L719.0 924.2 L720.0 925.2 L721.0 926.1 L722.0 927.0 L723.0 927.9 L724.0 928.8 L725.0 929.7 L726.0 930.5 L727.0 931.4 L728.0 932.2 L729.0 933.0 L730.0 933.8 L731.0 934.6 L732.0 935.4 L733.0 936.2 L734.0 937.0 L735.0 937.7 L736.0 938.5 L737.0 939.2 L738.0 940.0 L739.0 940.7 L740.0 941.5 L741.0 942.2 L742.0 942.9 L743.0 943.6 L744.0 944.3 L745.0 945.0 L746.0 945.7 L747.0 946.3 L748.0 947.0 L749.0 947.6 L750.0 948.3 L751.0 949.0 L752.0 949.6 L753.0 950.3 L754.0 950.9 L755.0 951.6 L756.0 952.2 L757.0 952.8 L758.0 953.4 L759.0 954.0 L760.0 954.6 L761.0 955.2 L762.0 955.8 L763.0 956.4 L764.0 957.0 L765.0 957.6 L766.0 958.2 L767.0 958.8 L768.0 959.3 L769.0 959.9 L770.0 960.5 L771.0 961.0 L772.0 961.6 L773.0 962.1 L774.0 962.6 L775.0 963.2 L776.0 963.7 L777.0 964.3 L778.0 964.8 L779.0 965.3 L780.0 965.8 L781.0 966.4 L782.0 966.9 L783.0 967.4 L784.0 967.9 L785.0 968.4 L786.0 968.9 L787.0 969.5 L788.0 970.0 L789.0 970.5 L790.0 971.0 L791.0 971.6 L792.0 972.1 L793.0 972.6 L794.0 973.1 L795.0 973.6 L796.0 974.1 L797.0 974.5 L798.0 974.9 L799.0 975.3 L800.0 975.7 L801.0 976.0 L802.0 976.4 L803.0 976.7 L804.0 977.0 L805.0 977.3 L806.0 977.6 L807.0 977.9 L808.0 978.1 L809.0 978.4 L810.0 978.7 L811.0 978.9 L812.0 979.2 L813.0 979.4 L814.0 979.7 L815.0 979.9 L816.0 980.1 L817.0 980.4 L818.0 980.6 L819.0 980.8 L820.0 981.0 L821.0 981.2 L822.0 981.3 L823.0 981.5 L824.0 981.7 L825.0 981.8 L826.0 982.0 L827.0 982.1 L828.0 982.2 L829.0 982.4 L830.0 982.5 L831.0 982.6 L832.0 982.7 L833.0 982.8 L834.0 982.9 L835.0 983.0 L836.0 983.1 L837.0 983.2 L838.0 983.3 L839.0 983.4 L840.0 983.5 L841.0 983.6 L842.0 983.6 L843.0 983.7 L844.0 983.8 L845.0 983.9 L846.0 983.9 L847.0 984.0 L848.0 984.0 L849.0 984.1 L850.0 984.1 L851.0 984.2 L852.0 984.2 L853.0 984.3 L854.0 984.3 L855.0 984.3 L856.0 984.4 L857.0 984.4 L858.0 984.5 L859.0 984.5 L860.0 984.6 L861.0 984.6 L862.0 984.7 L863.0 984.7 L864.0 984.8 L865.0 984.9 L866.0 984.9 L867.0 985.0 L868.0 985.0 L869.0 985.1 L870.0 985.2 L871.0 985.2 L872.0 985.2 L873.0 985.3 L874.0 985.3 L875.0 985.3 L876.0 985.3 L877.0 985.4 L878.0 985.4 L879.0 985.4 L880.0 985.4 L881.0 985.4 L882.0 985.4 L883.0 985.3 L884.0 985.3 L885.0 985.3 L886.0 985.3 L887.0 985.2 L888.0 985.2 L889.0 985.2 L890.0 985.1 L891.0 985.1 L892.0 985.0 L893.0 985.0 L894.0 984.9 L895.0 984.9 L896.0 984.8 L897.0 984.8 L898.0 984.8 L899.0 984.7 L900.0 984.7 L901.0 984.6 L902.0 984.6 L903.0 984.6 L904.0 984.6 L905.0 984.5 L906.0 984.5 L907.0 984.5 L908.0 984.5 L909.0 984.5 L910.0 984.5 L911.0 984.5 L912.0 984.4 L913.0 984.4 L914.0 984.4 L915.0 984.4 L916.0 984.4 L917.0 984.4 L918.0 984.4 L919.0 984.4 L920.0 984.5 L921.0 984.5 L922.0 984.5 L923.0 984.5 L924.0 984.5 L925.0 984.6 L926.0 984.6 L927.0 984.6 L928.0 984.7 L929.0 984.7 L930.0 984.8 L931.0 984.8 L932.0 984.9 L933.0 984.9 L934.0 985.0 L935.0 985.0 L936.0 985.1 L937.0 985.1 L938.0 985.2 L939.0 985.3 L940.0 985.3 L941.0 985.4 L942.0 985.4 L943.0 985.5 L944.0 985.6 L945.0 985.6 L946.0 985.7 L947.0 985.8 L948.0 985.9 L949.0 986.0 L950.0 986.0 L951.0 986.1 L952.0 986.2 L953.0 986.3 L954.0 986.4 L955.0 986.5 L956.0 986.6 L957.0 986.7 L958.0 986.8 L959.0 986.8 L960.0 986.9 L961.0 987.0 L962.0 987.1 L963.0 987.2 L964.0 987.3 L965.0 987.4 L966.0 987.5 L967.0 987.6 L968.0 987.7 L969.0 987.9 L970.0 988.0 L971.0 988.1 L972.0 988.2 L973.0 988.3 L974.0 988.4 L975.0 988.5 L976.0 988.6 L977.0 988.8 L978.0 988.9 L979.0 989.0 L980.0 989.1 L981.0 989.2 L982.0 989.3 L983.0 989.5 L984.0 989.6 L985.0 989.7 L986.0 989.9 L987.0 990.0 L988.0 990.2 L989.0 990.3 L990.0 990.5 L991.0 990.6 L992.0 990.8 L993.0 990.9 L994.0 991.1 L995.0 991.3 L996.0 991.5 L997.0 991.6 L998.0 991.8 L999.0 992.0 L1000.0 992.1 L1001.0 992.3 L1002.0 992.5 L1003.0 992.7 L1004.0 992.9 L1005.0 993.0 L1006.0 993.2 L1007.0 993.4 L1008.0 993.6 L1009.0 993.8 L1010.0 994.0 L1011.0 994.2 L1012.0 994.3 L1013.0 994.5 L1014.0 994.7 L1015.0 995.0 L1016.0 995.2 L1017.0 995.4 L1018.0 995.6 L1019.0 995.8 L1020.0 996.0 L1021.0 996.1 L1022.0 996.2 L1023.0 996.3 L1024.0 996.4 L1025.0 996.6 L1026.0 996.7 L1027.0 996.8 L1028.0 996.9 L1029.0 997.1 L1030.0 997.2 L1031.0 997.3 L1032.0 997.5 L1033.0 997.6 L1034.0 997.8 L1035.0 997.9 L1036.0 998.1 L1037.0 998.3 L1038.0 998.5 L1039.0 998.6 L1040.0 998.8 L1041.0 999.0 L1042.0 999.2 L1043.0 999.4 L1044.0 999.6 L1045.0 999.8 L1046.0 1000.0 L1047.0 1000.2 L1048.0 1000.3 L1049.0 1000.5 L1050.0 1000.7 L1051.0 1000.9 L1052.0 1001.1 L1053.0 1001.3 L1054.0 1001.5 L1055.0 1001.7 L1056.0 1001.9 L1057.0 1002.1 L1058.0 1002.3 L1059.0 1002.5 L1060.0 1002.8 L1061.0 1003.0 L1062.0 1003.2 L1063.0 1003.4 L1064.0 1003.6 L1065.0 1003.9 L1066.0 1004.1 L1067.0 1004.3 L1068.0 1004.6 L1069.0 1004.8 L1070.0 1005.1 L1071.0 1005.4 L1072.0 1005.8 L1073.0 1006.1 L1074.0 1006.5 L1075.0 1006.9 L1076.0 1007.2 L1077.0 1007.6 L1078.0 1008.0 L1079.0 1008.3 L1080.0 1008.7 L1081.0 1009.1 L1082.0 1009.5 L1083.0 1009.8 L1084.0 1010.2 L1085.0 1010.6 L1086.0 1011.0 L1087.0 1011.3 L1088.0 1011.7 L1089.0 1012.1 L1090.0 1012.4 L1091.0 1012.8 L1092.0 1013.1 L1093.0 1013.5 L1094.0 1013.9 L1095.0 1014.2 L1096.0 1014.6 L1097.0 1015.0 L1098.0 1015.3 L1099.0 1015.7 L1100.0 1016.0 L1101.0 1016.4 L1102.0 1016.8 L1103.0 1017.1 L1104.0 1017.5 L1105.0 1017.9 L1106.0 1018.2 L1107.0 1018.6 L1108.0 1019.0 L1109.0 1019.3 L1110.0 1019.7 L1111.0 1020.1 L1112.0 1020.4 L1113.0 1020.8 L1114.0 1021.2 L1115.0 1021.5 L1116.0 1021.9 L1117.0 1022.3 L1118.0 1022.6 L1119.0 1023.0 L1120.0 1023.4 L1121.0 1023.8 L1122.0 1024.2 L1123.0 1024.6 L1124.0 1024.9 L1125.0 1025.3 L1126.0 1025.7 L1127.0 1026.1 L1128.0 1026.4 L1129.0 1026.8 L1130.0 1027.1 L1131.0 1027.5 L1132.0 1027.8 L1133.0 1028.1 L1134.0 1028.4 L1135.0 1028.7 L1136.0 1029.0 L1137.0 1029.4 L1138.0 1029.7 L1139.0 1030.0 L1140.0 1030.3 L1141.0 1030.6 L1142.0 1030.9 L1143.0 1031.2 L1144.0 1031.4 L1145.0 1031.7 L1146.0 1032.0 L1147.0 1032.3 L1148.0 1032.5 L1149.0 1032.8 L1150.0 1033.1 L1151.0 1033.4 L1152.0 1033.7 L1153.0 1034.0 L1154.0 1034.3 L1155.0 1034.8 L1156.0 1035.4 L1157.0 1036.1 L1158.0 1036.8 L1159.0 1037.4 L1160.0 1038.0 L1161.0 1038.6 L1162.0 1039.2 L1163.0 1039.9 L1164.0 1040.6 L1165.0 1041.3 L1166.0 1042.0 L1167.0 1042.6 L1168.0 1043.2 L1169.0 1043.9 L1170.0 1044.5 L1171.0 1045.0 L1172.0 1045.5 L1173.0 1045.9 L1174.0 1046.3 L1175.0 1046.6 L1176.0 1046.9 L1177.0 1047.1 L1178.0 1047.4 L1179.0 1047.7 L1180.0 1047.9 L1181.0 1048.1 L1182.0 1048.4 L1183.0 1048.6 L1184.0 1048.8 L1185.0 1049.0 L1186.0 1049.2 L1187.0 1049.4 L1188.0 1049.6 L1189.0 1049.8 L1190.0 1050.0 L1191.0 1050.2 L1192.0 1050.3 L1193.0 1050.5 L1194.0 1050.6 L1195.0 1050.7 L1196.0 1050.9 L1197.0 1051.0 L1198.0 1051.1 L1199.0 1051.3 L1200.0 1051.4 L1201.0 1051.5 L1202.0 1051.5 L1203.0 1051.6 L1204.0 1051.7 L1205.0 1051.8 L1206.0 1051.9 L1207.0 1052.0 L1208.0 1052.1 L1209.0 1052.2 L1210.0 1052.3 L1211.0 1052.4 L1212.0 1052.5 L1213.0 1052.6 L1214.0 1052.8 L1215.0 1052.9 L1216.0 1053.0 L1217.0 1053.1 L1218.0 1053.1 L1219.0 1053.2 L1220.0 1053.3 L1221.0 1053.4 L1222.0 1053.5 L1223.0 1053.6 L1224.0 1053.7 L1225.0 1053.7 L1226.0 1053.8 L1227.0 1053.9 L1228.0 1054.0 L1229.0 1054.0 L1230.0 1054.1 L1231.0 1054.2 L1232.0 1054.2 L1233.0 1054.3 L1234.0 1054.4 L1235.0 1054.4 L1236.0 1054.5 L1237.0 1054.6 L1238.0 1054.6 L1239.0 1054.7 L1240.0 1054.7 L1241.0 1054.8 L1242.0 1054.8 L1243.0 1054.9 L1244.0 1054.9 L1245.0 1055.0 L1246.0 1055.0 L1247.0 1055.1 L1248.0 1055.1 L1249.0 1055.1 L1250.0 1055.2 L1251.0 1055.2 L1252.0 1055.2 L1253.0 1055.3 L1254.0 1055.3 L1255.0 1055.3 L1256.0 1055.3 L1257.0 1055.3 L1258.0 1055.4 L1259.0 1055.4 L1260.0 1055.4 L1261.0 1055.4 L1262.0 1055.4 L1263.0 1055.4 L1264.0 1055.5 L1265.0 1055.5 L1266.0 1055.5 L1267.0 1055.5 L1268.0 1055.5 L1269.0 1055.5 L1270.0 1055.6 L1271.0 1055.6 L1272.0 1055.6 L1273.0 1055.6 L1274.0 1055.6 L1275.0 1055.7 L1276.0 1055.7 L1277.0 1055.7 L1278.0 1055.7 L1279.0 1055.7 L1280.0 1055.8 L1281.0 1055.8 L1282.0 1055.8 L1283.0 1055.8 L1284.0 1055.8 L1285.0 1055.8 L1286.0 1055.9 L1287.0 1055.9 L1288.0 1055.9 L1289.0 1055.9 L1290.0 1055.9 L1291.0 1055.9 L1292.0 1055.8 L1293.0 1055.6 L1294.0 1055.3 L1295.0 1055.0 L1296.0 1054.6 L1297.0 1054.2 L1298.0 1053.8 L1299.0 1053.5 L1300.0 1053.3 L1301.0 1053.2 L1302.0 1053.1 L1303.0 1053.2 L1304.0 1053.4 L1305.0 1053.7 L1306.0 1054.0 L1307.0 1054.3 L1308.0 1054.6 L1309.0 1054.9 L1310.0 1055.2 L1311.0 1055.5 L1312.0 1055.7 L1313.0 1055.8 L1314.0 1055.9 L1315.0 1055.9 L1316.0 1055.9 L1317.0 1055.9 L1318.0 1055.9 L1319.0 1055.9 L1320.0 1055.9 L1321.0 1055.9 L1322.0 1055.9 L1323.0 1055.9 L1324.0 1055.9 L1325.0 1055.9 L1326.0 1055.9 L1327.0 1055.9 L1328.0 1055.9 L1329.0 1055.9 L1330.0 1055.9 L1331.0 1055.9 L1332.0 1055.9 L1333.0 1055.9 L1334.0 1055.9 L1335.0 1055.9 L1336.0 1055.9 L1337.0 1055.9 L1338.0 1055.9 L1339.0 1055.9 L1340.0 1055.9 L1341.0 1055.9 L1342.0 1055.9 L1343.0 1055.9 L1344.0 1055.9 L1345.0 1055.9 L1346.0 1055.9 L1347.0 1055.9 L1348.0 1055.9 L1349.0 1055.9 L1350.0 1055.9 L1351.0 1055.9 L1352.0 1055.9 L1353.0 1055.9 L1354.0 1055.9 L1355.0 1055.9 L1356.0 1055.9 L1357.0 1055.9 L1358.0 1055.9 L1359.0 1055.9 L1360.0 1055.9 L1361.0 1055.9 L1362.0 1055.9 L1363.0 1055.9 L1364.0 1055.9 L1365.0 1055.9 L1366.0 1055.9 L1367.0 1055.9 L1368.0 1055.9 L1369.0 1055.9 L1370.0 1055.9 L1371.0 1055.9 L1372.0 1055.9 L1373.0 1055.9 L1374.0 1055.9 L1375.0 1055.9 L1376.0 1055.9 L1377.0 1055.9 L1378.0 1055.9 L1379.0 1055.9 L1380.0 1055.9 L1381.0 1055.9 L1382.0 1055.9 L1383.0 1055.9 L1384.0 1055.9 L1385.0 1055.9 L1386.0 1055.9 L1387.0 1055.9 L1388.0 1055.9 L1389.0 1055.9 L1390.0 1055.9 L1391.0 1055.9 L1392.0 1055.9 L1393.0 1055.9 L1394.0 1055.9 L1395.0 1055.9 L1396.0 1055.9 L1397.0 1055.9 L1398.0 1055.9 L1399.0 1055.9 L1400.0 1055.9 L1401.0 1055.9 L1402.0 1055.9 L1403.0 1055.9 L1404.0 1055.9 L1405.0 1055.9 L1406.0 1055.9 L1407.0 1055.9 L1408.0 1055.9 L1409.0 1055.9 L1410.0 1055.9 L1411.0 1055.9 L1412.0 1055.9 L1413.0 1055.9 L1414.0 1055.9 L1415.0 1055.9 L1416.0 1055.9 L1417.0 1055.9 L1418.0 1055.9 L1419.0 1055.9 L1420.0 1055.9 L1421.0 1055.9 L1422.0 1055.9 L1423.0 1055.9 L1424.0 1055.9 L1425.0 1055.9 L1426.0 1055.9 L1427.0 1055.9 L1428.0 1055.9 L1429.0 1055.9 L1430.0 1055.9 L1431.0 1055.9 L1432.0 1055.9 L1433.0 1055.9 L1434.0 1055.9 L1435.0 1055.9 L1436.0 1055.9 L1437.0 1055.9 L1438.0 1055.9 L1439.0 1055.9 L1440.0 1055.9 L1441.0 1055.9 L1442.0 1055.9 L1443.0 1055.9 L1444.0 1055.9 L1445.0 1055.9 L1446.0 1055.9 L1447.0 1055.9 L1448.0 1055.9 L1449.0 1055.9 L1450.0 1055.9 L1451.0 1055.9 L1452.0 1055.9 L1453.0 1055.9 L1454.0 1055.9 L1455.0 1055.9 L1456.0 1055.9 L1457.0 1055.9 L1458.0 1055.9 L1459.0 1055.9 L1460.0 1055.9 L1461.0 1055.9 L1462.0 1055.9 L1463.0 1055.9 L1464.0 1055.9 L1465.0 1055.9 L1466.0 1055.9 L1467.0 1055.9 L1468.0 1055.9 L1469.0 1055.9 L1470.0 1055.9 L1471.0 1055.9 L1472.0 1055.9 L1473.0 1055.9 L1474.0 1055.9 L1475.0 1055.9 L1476.0 1055.9 L1477.0 1055.9 L1478.0 1055.9 L1479.0 1055.9 L1480.0 1055.9 L1481.0 1055.9 L1482.0 1055.9 L1483.0 1055.9 L1484.0 1055.9 L1485.0 1055.9 L1486.0 1055.9 L1487.0 1055.9 L1488.0 1055.9 L1489.0 1055.9 L1490.0 1055.9 L1491.0 1055.9 L1492.0 1055.9 L1493.0 1055.9 L1494.0 1055.9 L1495.0 1055.9 L1496.0 1055.9 L1497.0 1055.9 L1498.0 1055.9 L1499.0 1055.9 L1500.0 1055.9 L1501.0 1055.9 L1502.0 1055.9 L1503.0 1055.9 L1504.0 1055.9 L1505.0 1055.9 L1506.0 1055.9 L1507.0 1055.9 L1508.0 1055.8 L1509.0 1055.8 L1510.0 1055.8 L1511.0 1055.8 L1512.0 1055.8 L1513.0 1055.8 L1514.0 1055.8 L1515.0 1055.8 L1516.0 1055.8 L1517.0 1055.8 L1518.0 1055.8 L1519.0 1055.8 L1520.0 1055.8 L1521.0 1055.8 L1522.0 1055.8 L1523.0 1055.8 L1524.0 1055.8 L1525.0 1055.8 L1526.0 1055.8 L1527.0 1055.8 L1528.0 1055.8 L1529.0 1055.8 L1530.0 1055.8 L1531.0 1055.8 L1532.0 1055.8 L1533.0 1055.8 L1534.0 1055.8 L1535.0 1055.8 L1536.0 1055.8 L1537.0 1055.8 L1538.0 1055.8 L1539.0 1055.8 L1540.0 1055.8 L1541.0 1055.8 L1542.0 1055.8 L1543.0 1055.8 L1544.0 1055.8 L1545.0 1055.8 L1546.0 1055.8"/>
<path class="c" stroke="#8000ff" d="M158.0 68.0 L159.0 68.1 L160.0 68.2 L161.0 68.4 L162.0 68.6 L163.0 68.8 L164.0 69.1 L165.0 69.3 L166.0 69.6 L167.0 70.0 L168.0 70.3 L169.0 70.6 L170.0 71.0 L171.0 71.4 L172.0 71.9 L173.0 72.4 L174.0 73.0 L175.0 73.6 L176.0 74.2 L177.0 74.9 L178.0 75.6 L179.0 76.3 L180.0 77.0 L181.0 77.7 L182.0 78.5 L183.0 79.3 L184.0 80.1 L185.0 80.9 L186.0 81.8 L187.0 82.7 L188.0 83.6 L189.0 84.5 L190.0 85.5 L191.0 86.5 L192.0 87.5 L193.0 88.6 L194.0 89.6 L195.0 90.8 L196.0 91.9 L197.0 93.0 L198.0 94.2 L199.0 95.3 L200.0 96.5 L201.0 97.6 L202.0 98.8 L203.0 100.0 L204.0 101.1 L205.0 102.3 L206.0 103.5 L207.0 104.7 L208.0 105.9 L209.0 107.2 L210.0 108.4 L211.0 109.6 L212.0 110.8 L213.0 112.0 L214.0 113.2 L215.0 114.4 L216.0 115.6 L217.0 116.7 L218.0 117.9 L219.0 119.0 L220.0 120.2 L221.0 121.3 L222.0 122.5 L223.0 123.6 L224.0 124.8 L225.0 125.9 L226.0 127.1 L227.0 128.3 L228.0 129.5 L229.0 130.7 L230.0 131.9 L231.0 133.1 L232.0 134.4 L233.0 135.6 L234.0 136.8 L235.0 138.1 L236.0 139.3 L237.0 140.6 L238.0 141.9 L239.0 143.2 L240.0 144.6 L241.0 145.9 L242.0 147.3 L243.0 148.8 L244.0 150.2 L245.0 151.7 L246.0 153.3 L247.0 154.8 L248.0 156.4 L249.0 158.0 L250.0 159.7 L251.0 161.4 L252.0 163.2 L253.0 165.0 L254.0 167.0 L255.0 169.0 L256.0 171.2 L257.0 173.5 L258.0 176.0 L259.0 178.5 L260.0 181.2 L261.0 183.9 L262.0 186.6 L263.0 189.4 L264.0 192.1 L265.0 195.0 L266.0 197.9 L267.0 200.8 L268.0 203.8 L269.0 206.9 L270.0 210.1 L271.0 213.2 L272.0 216.5 L273.0 219.8 L274.0 223.2 L275.0 226.6 L276.0 230.2 L277.0 233.8 L278.0 237.5 L279.0 241.2 L280.0 245.1 L281.0 249.1 L282.0 253.4 L283.0 258.0 L284.0 263.2 L285.0 268.9 L286.0 275.0 L287.0 281.1 L288.0 286.9 L289.0 292.8 L290.0 298.7 L291.0 304.5 L292.0 310.0 L293.0 315.3 L294.0 320.3 L295.0 325.3 L296.0 330.2 L297.0 335.1 L298.0 340.0 L299.0 345.1 L300.0 350.2 L301.0 355.3 L302.0 360.3 L303.0 365.0 L304.0 369.4 L305.0 373.7 L306.0 377.8 L307.0 381.8 L308.0 385.9 L309.0 390.0 L310.0 394.2 L311.0 398.6 L312.0 402.9 L313.0 407.2 L314.0 411.2 L315.0 415.0 L316.0 418.5 L317.0 422.0 L318.0 425.2 L319.0 428.4 L320.0 431.4 L321.0 434.3 L322.0 437.0 L323.0 439.6 L324.0 442.0 L325.0 444.3 L326.0 446.6 L327.0 448.7 L328.0 450.9 L329.0 452.9 L330.0 455.0 L331.0 457.0 L332.0 459.0 L333.0 460.9 L334.0 462.8 L335.0 464.7 L336.0 466.5 L337.0 468.3 L338.0 470.2 L339.0 472.0 L340.0 473.8 L341.0 475.6 L342.0 477.3 L343.0 479.1 L344.0 480.8 L345.0 482.5 L346.0 484.3 L347.0 486.1 L348.0 488.0 L349.0 489.9 L350.0 491.8 L351.0 493.8 L352.0 495.8 L353.0 497.8 L354.0 499.9 L355.0 502.0 L356.0 504.1 L357.0 506.3 L358.0 508.6 L359.0 511.0 L360.0 513.7 L361.0 516.4 L362.0 519.2 L363.0 522.1 L364.0 524.8 L365.0 527.4 L366.0 529.9 L367.0 532.0 L368.0 534.0 L369.0 535.9 L370.0 537.7 L371.0 539.5 L372.0 541.1 L373.0 542.7 L374.0 544.2 L375.0 545.7 L376.0 547.0 L377.0 548.2 L378.0 549.4 L379.0 550.5 L380.0 551.5 L381.0 552.6 L382.0 553.5 L383.0 554.5 L384.0 555.3 L385.0 556.1 L386.0 556.8 L387.0 557.4 L388.0 557.9 L389.0 558.3 L390.0 558.8 L391.0 559.2 L392.0 559.6 L393.0 559.9 L394.0 560.3 L395.0 560.6 L396.0 560.9 L397.0 561.1 L398.0 561.4 L399.0 561.6 L400.0 561.7 L401.0 561.8 L402.0 561.9 L403.0 562.0 L404.0 562.1 L405.0 562.1 L406.0 562.2 L407.0 562.3 L408.0 562.3 L409.0 562.4 L410.0 562.4 L411.0 562.5 L412.0 562.5 L413.0 562.5 L414.0 562.5 L415.0 562.5 L416.0 562.5 L417.0 562.5 L418.0 562.5 L419.0 562.5 L420.0 562.5 L421.0 562.5 L422.0 562.5 L423.0 562.5 L424.0 562.5 L425.0 562.5 L426.0 562.5 L427.0 562.5 L428.0 562.5 L429.0 562.6 L430.0 562.7 L431.0 562.9 L432.0 563.1 L433.0 563.4 L434.0 563.7 L435.0 564.0 L436.0 564.3 L437.0 564.6 L438.0 565.0 L439.0 565.4 L440.0 565.7 L441.0 566.2 L442.0 566.7 L443.0 567.4 L444.0 568.1 L445.0 568.9 L446.0 569.7 L447.0 570.6 L448.0 571.5 L449.0 572.4 L450.0 573.2 L451.0 574.1 L452.0 575.0 L453.0 576.0 L454.0 576.9 L455.0 577.9 L456.0 578.9 L457.0 580.0 L458.0 581.0 L459.0 582.1 L460.0 583.2 L461.0 584.3 L462.0 585.5 L463.0 586.7 L464.0 587.9 L465.0 589.1 L466.0 590.3 L467.0 591.6 L468.0 592.9 L469.0 594.2 L470.0 595.5 L471.0 596.9 L472.0 598.3 L473.0 599.7 L474.0 601.2 L475.0 602.6 L476.0 604.1 L477.0 605.7 L478.0 607.2 L479.0 608.8 L480.0 610.3 L481.0 611.9 L482.0 613.4 L483.0 615.0 L484.0 616.5 L485.0 618.1 L486.0 619.6 L487.0 621.2 L488.0 622.9 L489.0 624.5 L490.0 626.2 L491.0 628.0 L492.0 629.8 L493.0 631.6 L494.0 633.6 L495.0 635.6 L496.0 637.8 L497.0 640.0 L498.0 642.4 L499.0 645.0 L500.0 647.8 L501.0 650.6 L502.0 653.5 L503.0 656.3 L504.0 659.0 L505.0 661.6 L506.0 664.0 L507.0 666.2 L508.0 668.3 L509.0 670.3 L510.0 672.3 L511.0 674.2 L512.0 676.0 L513.0 677.9 L514.0 679.7 L515.0 681.5 L516.0 683.3 L517.0 685.1 L518.0 686.9 L519.0 688.8 L520.0 690.7 L521.0 692.6 L522.0 694.5 L523.0 696.3 L524.0 698.2 L525.0 700.1 L526.0 702.0 L527.0 704.0 L528.0 706.0 L529.0 708.1 L530.0 710.2 L531.0 712.3 L532.0 714.4 L533.0 716.5 L534.0 718.6 L535.0 720.5 L536.0 722.4 L537.0 724.1 L538.0 725.9 L539.0 727.6 L540.0 729.3 L541.0 730.9 L542.0 732.5 L543.0 734.0 L544.0 735.5 L545.0 736.9 L546.0 738.3 L547.0 739.6 L548.0 740.9 L549.0 742.1 L550.0 743.4 L551.0 744.6 L552.0 745.7 L553.0 746.9 L554.0 748.0 L555.0 749.2 L556.0 750.3 L557.0 751.5 L558.0 752.6 L559.0 753.8 L560.0 755.0 L561.0 756.2 L562.0 757.4 L563.0 758.7 L564.0 759.9 L565.0 761.2 L566.0 762.4 L567.0 763.6 L568.0 764.8 L569.0 766.0 L570.0 767.2 L571.0 768.4 L572.0 769.5 L573.0 770.5 L574.0 771.6 L575.0 772.6 L576.0 773.6 L577.0 774.6 L578.0 775.5 L579.0 776.5 L580.0 777.4 L581.0 778.3 L582.0 779.3 L583.0 780.2 L584.0 781.1 L585.0 782.0 L586.0 782.9 L587.0 783.8 L588.0 784.7 L589.0 785.5 L590.0 786.4 L591.0 787.3 L592.0 788.1 L593.0 789.0 L594.0 789.8 L595.0 790.7 L596.0 791.6 L597.0 792.4 L598.0 793.3 L599.0 794.2 L600.0 795.2 L601.0 796.1 L602.0 797.1 L603.0 798.0 L604.0 799.0 L605.0 800.0 L606.0 800.9 L607.0 801.8 L608.0 802.7 L609.0 803.6 L610.0 804.5 L611.0 805.3 L612.0 806.1 L613.0 806.9 L614.0 807.7 L615.0 808.4 L616.0 809.2 L617.0 810.0 L618.0 810.8 L619.0 811.6 L620.0 812.4 L621.0 813.2 L622.0 814.1 L623.0 815.0 L624.0 815.9 L625.0 816.9 L626.0 817.9 L627.0 818.9 L628.0 820.0 L629.0 821.1 L630.0 822.2 L631.0 823.3 L632.0 824.5 L633.0 825.6 L634.0 826.7 L635.0 827.9 L636.0 829.0 L637.0 830.1 L638.0 831.2 L639.0 832.3 L640.0 833.4 L641.0 834.5 L642.0 835.6 L643.0 836.7 L644.0 837.8 L645.0 838.9 L646.0 840.0 L647.0 841.1 L648.0 842.2 L649.0 843.4 L650.0 844.5 L651.0 845.7 L652.0 846.8 L653.0 848.0 L654.0 849.2 L655.0 850.4 L656.0 851.6 L657.0 852.8 L658.0 854.1 L659.0 855.3 L660.0 856.5 L661.0 857.7 L662.0 858.9 L663.0 860.1 L664.0 861.3 L665.0 862.5 L666.0 863.8 L667.0 865.0 L668.0 866.2 L669.0 867.4 L670.0 868.7 L671.0 869.9 L672.0 871.1 L673.0 872.3 L674.0 873.5 L675.0 874.7 L676.0 875.8 L677.0 877.0 L678.0 878.1 L679.0 879.2 L680.0 880.3 L681.0 881.4 L682.0 882.5 L683.0 883.6 L684.0 884.7 L685.0 885.7 L686.0 886.8 L687.0 888.0 L688.0 889.1 L689.0 890.2 L690.0 891.4 L691.0 892.6 L692.0 893.8 L693.0 895.0 L694.0 896.2 L695.0 897.5 L696.0 898.7 L697.0 900.0 L698.0 901.2 L699.0 902.4 L700.0 903.6 L701.0 904.8 L702.0 906.0 L703.0 907.2 L704.0 908.3 L705.0 909.4 L706.0 910.5 L707.0 911.6 L708.0 912.7 L709.0 913.8 L710.0 915.0 L711.0 916.1 L712.0 917.2 L713.0 918.3 L714.0 919.5 L715.0 920.6 L716.0 921.7 L717.0 922.8 L718.0 923.9 L719.0 924.9 L720.0 925.8 L721.0 926.8 L722.0 927.7 L723.0 928.6 L724.0 929.5 L725.0 930.4 L726.0 931.3 L727.0 932.2 L728.0 933.0 L729.0 933.9 L730.0 934.7 L731.0 935.5 L732.0 936.3 L733.0 937.1 L734.0 937.9 L735.0 938.6 L736.0 939.4 L737.0 940.1 L738.0 940.9 L739.0 941.6 L740.0 942.4 L741.0 943.1 L742.0 943.8 L743.0 944.5 L744.0 945.2 L745.0 945.9 L746.0 946.6 L747.0 947.2 L748.0 947.9 L749.0 948.6 L750.0 949.3 L751.0 949.9 L752.0 950.6 L753.0 951.2 L754.0 951.9 L755.0 952.5 L756.0 953.2 L757.0 953.8 L758.0 954.4 L759.0 955.0 L760.0 955.6 L761.0 956.2 L762.0 956.8 L763.0 957.4 L764.0 957.9 L765.0 958.5 L766.0 959.1 L767.0 959.7 L768.0 960.2 L769.0 960.8 L770.0 961.3 L771.0 961.9 L772.0 962.4 L773.0 962.9 L774.0 963.5 L775.0 964.0 L776.0 964.5 L777.0 965.0 L778.0 965.5 L779.0 966.1 L780.0 966.6 L781.0 967.1 L782.0 967.6 L783.0 968.0 L784.0 968.5 L785.0 969.0 L786.0 969.5 L787.0 970.0 L788.0 970.5 L789.0 971.0 L790.0 971.5 L791.0 972.0 L792.0 972.4 L793.0 972.9 L794.0 973.4 L795.0 973.8 L796.0 974.2 L797.0 974.6 L798.0 975.0 L799.0 975.4 L800.0 975.7 L801.0 976.0 L802.0 976.3 L803.0 976.5 L804.0 976.8 L805.0 977.0 L806.0 977.2 L807.0 977.5 L808.0 977.7 L809.0 977.9 L810.0 978.1 L811.0 978.3 L812.0 978.5 L813.0 978.7 L814.0 978.9 L815.0 979.1 L816.0 979.2 L817.0 979.4 L818.0 979.5 L819.0 979.7 L820.0 979.8 L821.0 980.0 L822.0 980.1 L823.0 980.2 L824.0 980.3 L825.0 980.4 L826.0 980.5 L827.0 980.6 L828.0 980.7 L829.0 980.7 L830.0 980.8 L831.0 980.9 L832.0 980.9 L833.0 981.0 L834.0 981.0 L835.0 981.1 L836.0 981.1 L837.0 981.2 L838.0 981.2 L839.0 981.2 L840.0 981.2 L841.0 981.3 L842.0 981.3 L843.0 981.3 L844.0 981.3 L845.0 981.3 L846.0 981.3 L847.0 981.3 L848.0 981.3 L849.0 981.3 L850.0 981.3 L851.0 981.3 L852.0 981.3 L853.0 981.3 L854.0 981.3 L855.0 981.3 L856.0 981.3 L857.0 981.3 L858.0 981.2 L859.0 981.2 L860.0 981.2 L861.0 981.2 L862.0 981.2 L863.0 981.2 L864.0 981.2 L865.0 981.3 L866.0 981.3 L867.0 981.3 L868.0 981.3 L869.0 981.3 L870.0 981.3 L871.0 981.3 L872.0 981.3 L873.0 981.3 L874.0 981.3 L875.0 981.3 L876.0 981.3 L877.0 981.3 L878.0 981.2 L879.0 981.2 L880.0 981.2 L881.0 981.1 L882.0 981.1 L883.0 981.0 L884.0 980.9 L885.0 980.9 L886.0 980.8 L887.0 980.7 L888.0 980.7 L889.0 980.6 L890.0 980.5 L891.0 980.4 L892.0 980.3 L893.0 980.2 L894.0 980.1 L895.0 980.1 L896.0 980.0 L897.0 979.9 L898.0 979.8 L899.0 979.7 L900.0 979.7 L901.0 979.6 L902.0 979.5 L903.0 979.4 L904.0 979.4 L905.0 979.3 L906.0 979.3 L907.0 979.2 L908.0 979.2 L909.0 979.1 L910.0 979.1 L911.0 979.1 L912.0 979.0 L913.0 979.0 L914.0 978.9 L915.0 978.9 L916.0 978.9 L917.0 978.8 L918.0 978.8 L919.0 978.8 L920.0 978.8 L921.0 978.7 L922.0 978.7 L923.0 978.7 L924.0 978.7 L925.0 978.7 L926.0 978.7 L927.0 978.7 L928.0 978.8 L929.0 978.8 L930.0 978.8 L931.0 978.8 L932.0 978.9 L933.0 978.9 L934.0 978.9 L935.0 978.9 L936.0 979.0 L937.0 979.0 L938.0 979.0 L939.0 979.1 L940.0 979.1 L941.0 979.1 L942.0 979.2 L943.0 979.2 L944.0 979.3 L945.0 979.3 L946.0 979.4 L947.0 979.4 L948.0 979.5 L949.0 979.5 L950.0 979.6 L951.0 979.7 L952.0 979.8 L953.0 979.8 L954.0 979.9 L955.0 980.0 L956.0 980.0 L957.0 980.1 L958.0 980.2 L959.0 980.3 L960.0 980.3 L961.0 980.4 L962.0 980.5 L963.0 980.6 L964.0 980.6 L965.0 980.7 L966.0 980.8 L967.0 980.9 L968.0 981.0 L969.0 981.1 L970.0 981.2 L971.0 981.3 L972.0 981.4 L973.0 981.5 L974.0 981.6 L975.0 981.7 L976.0 981.8 L977.0 981.9 L978.0 982.0 L979.0 982.1 L980.0 982.2 L981.0 982.3 L982.0 982.4 L983.0 982.5 L984.0 982.6 L985.0 982.7 L986.0 982.9 L987.0 983.0 L988.0 983.1 L989.0 983.3 L990.0 983.4 L991.0 983.6 L992.0 983.7 L993.0 983.9 L994.0 984.0 L995.0 984.2 L996.0 984.4 L997.0 984.5 L998.0 984.7 L999.0 984.9 L1000.0 985.1 L1001.0 985.2 L1002.0 985.4 L1003.0 985.6 L1004.0 985.8 L1005.0 985.9 L1006.0 986.1 L1007.0 986.3 L1008.0 986.5 L1009.0 986.7 L1010.0 986.9 L1011.0 987.1 L1012.0 987.3 L1013.0 987.5 L1014.0 987.7 L1015.0 987.9 L1016.0 988.1 L1017.0 988.3 L1018.0 988.5 L1019.0 988.8 L1020.0 989.0 L1021.0 989.1 L1022.0 989.2 L1023.0 989.3 L1024.0 989.4 L1025.0 989.6 L1026.0 989.7 L1027.0 989.8 L1028.0 990.0 L1029.0 990.1 L1030.0 990.3 L1031.0 990.4 L1032.0 990.6 L1033.0 990.7 L1034.0 990.9 L1035.0 991.1 L1036.0 991.3 L1037.0 991.5 L1038.0 991.7 L1039.0 991.9 L1040.0 992.1 L1041.0 992.3 L1042.0 992.5 L1043.0 992.7 L1044.0 992.9 L1045.0 993.2 L1046.0 993.4 L1047.0 993.6 L1048.0 993.8 L1049.0 994.1 L1050.0 994.3 L1051.0 994.5 L1052.0 994.7 L1053.0 995.0 L1054.0 995.2 L1055.0 995.4 L1056.0 995.6 L1057.0 995.9 L1058.0 996.1 L1059.0 996.4 L1060.0 996.6 L1061.0 996.9 L1062.0 997.1 L1063.0 997.4 L1064.0 997.6 L1065.0 997.9 L1066.0 998.2 L1067.0 998.4 L1068.0 998.7 L1069.0 999.0 L1070.0 999.3 L1071.0 999.7 L1072.0 1000.1 L1073.0 1000.6 L1074.0 1001.0 L1075.0 1001.4 L1076.0 1001.9 L1077.0 1002.3 L1078.0 1002.8 L1079.0 1003.2 L1080.0 1003.7 L1081.0 1004.1 L1082.0 1004.5 L1083.0 1005.0 L1084.0 1005.4 L1085.0 1005.9 L1086.0 1006.3 L1087.0 1006.7 L1088.0 1007.1 L1089.0 1007.6 L1090.0 1008.0 L1091.0 1008.4 L1092.0 1008.9 L1093.0 1009.3 L1094.0 1009.7 L1095.0 1010.1 L1096.0 1010.6 L1097.0 1011.0 L1098.0 1011.4 L1099.0 1011.8 L1100.0 1012.2 L1101.0 1012.7 L1102.0 1013.1 L1103.0 1013.5 L1104.0 1013.9 L1105.0 1014.4 L1106.0 1014.8 L1107.0 1015.2 L1108.0 1015.6 L1109.0 1016.1 L1110.0 1016.5 L1111.0 1016.9 L1112.0 1017.3 L1113.0 1017.7 L1114.0 1018.2 L1115.0 1018.6 L1116.0 1019.0 L1117.0 1019.4 L1118.0 1019.9 L1119.0 1020.3 L1120.0 1020.7 L1121.0 1021.1 L1122.0 1021.5 L1123.0 1022.0 L1124.0 1022.4 L1125.0 1022.8 L1126.0 1023.2 L1127.0 1023.6 L1128.0 1024.0 L1129.0 1024.4 L1130.0 1024.8 L1131.0 1025.1 L1132.0 1025.5 L1133.0 1025.8 L1134.0 1026.2 L1135.0 1026.5 L1136.0 1026.9 L1137.0 1027.2 L1138.0 1027.5 L1139.0 1027.9 L1140.0 1028.2 L1141.0 1028.5 L1142.0 1028.8 L1143.0 1029.2 L1144.0 1029.5 L1145.0 1029.8 L1146.0 1030.1 L1147.0 1030.4 L1148.0 1030.7 L1149.0 1031.0 L1150.0 1031.3 L1151.0 1031.6 L1152.0 1031.9 L1153.0 1032.2 L1154.0 1032.6 L1155.0 1033.1 L1156.0 1033.6 L1157.0 1034.3 L1158.0 1034.9 L1159.0 1035.5 L1160.0 1036.1 L1161.0 1036.7 L1162.0 1037.4 L1163.0 1038.1 L1164.0 1038.8 L1165.0 1039.5 L1166.0 1040.2 L1167.0 1040.9 L1168.0 1041.6 L1169.0 1042.3 L1170.0 1042.9 L1171.0 1043.5 L1172.0 1044.0 L1173.0 1044.4 L1174.0 1044.8 L1175.0 1045.1 L1176.0 1045.4 L1177.0 1045.7 L1178.0 1046.0 L1179.0 1046.3 L1180.0 1046.5 L1181.0 1046.8 L1182.0 1047.0 L1183.0 1047.3 L1184.0 1047.5 L1185.0 1047.7 L1186.0 1047.9 L1187.0 1048.1 L1188.0 1048.3 L1189.0 1048.5 L1190.0 1048.7 L1191.0 1048.9 L1192.0 1049.1 L1193.0 1049.2 L1194.0 1049.4 L1195.0 1049.5 L1196.0 1049.7 L1197.0 1049.8 L1198.0 1050.0 L1199.0 1050.1 L1200.0 1050.2 L1201.0 1050.3 L1202.0 1050.4 L1203.0 1050.5 L1204.0 1050.7 L1205.0 1050.8 L1206.0 1050.9 L1207.0 1051.0 L1208.0 1051.1 L1209.0 1051.3 L1210.0 1051.4 L1211.0 1051.5 L1212.0 1051.6 L1213.0 1051.8 L1214.0 1051.9 L1215.0 1052.0 L1216.0 1052.1 L1217.0 1052.3 L1218.0 1052.4 L1219.0 1052.5 L1220.0 1052.6 L1221.0 1052.7 L1222.0 1052.8 L1223.0 1052.9 L1224.0 1053.0 L1225.0 1053.1 L1226.0 1053.2 L1227.0 1053.3 L1228.0 1053.4 L1229.0 1053.5 L1230.0 1053.5 L1231.0 1053.6 L1232.0 1053.7 L1233.0 1053.8 L1234.0 1053.9 L1235.0 1053.9 L1236.0 1054.0 L1237.0 1054.1 L1238.0 1054.2 L1239.0 1054.2 L1240.0 1054.3 L1241.0 1054.4 L1242.0 1054.4 L1243.0 1054.5 L1244.0 1054.6 L1245.0 1054.6 L1246.0 1054.7 L1247.0 1054.7 L1248.0 1054.8 L1249.0 1054.8 L1250.0 1054.8 L1251.0 1054.9 L1252.0 1054.9 L1253.0 1054.9 L1254.0 1055.0 L1255.0 1055.0 L1256.0 1055.0 L1257.0 1055.0 L1258.0 1055.1 L1259.0 1055.1 L1260.0 1055.1 L1261.0 1055.1 L1262.0 1055.1 L1263.0 1055.2 L1264.0 1055.2 L1265.0 1055.2 L1266.0 1055.2 L1267.0 1055.2 L1268.0 1055.3 L1269.0 1055.3 L1270.0 1055.3 L1271.0 1055.3 L1272.0 1055.4 L1273.0 1055.4 L1274.0 1055.4 L1275.0 1055.4 L1276.0 1055.5 L1277.0 1055.5 L1278.0 1055.5 L1279.0 1055.5 L1280.0 1055.5 L1281.0 1055.6 L1282.0 1055.6 L1283.0 1055.6 L1284.0 1055.6 L1285.0 1055.6 L1286.0 1055.7 L1287.0 1055.7 L1288.0 1055.7 L1289.0 1055.7 L1290.0 1055.7 L1291.0 1055.7 L1292.0 1055.6 L1293.0 1055.4 L1294.0 1055.1 L1295.0 1054.8 L1296.0 1054.4 L1297.0 1054.0 L1298.0 1053.6 L1299.0 1053.3 L1300.0 1053.0 L1301.0 1053.0 L1302.0 1052.9 L1303.0 1053.0 L1304.0 1053.2 L1305.0 1053.5 L1306.0 1053.7 L1307.0 1054.1 L1308.0 1054.4 L1309.0 1054.7 L1310.0 1055.0 L1311.0 1055.3 L1312.0 1055.5 L1313.0 1055.6 L1314.0 1055.7 L1315.0 1055.7 L1316.0 1055.7 L1317.0 1055.7 L1318.0 1055.7 L1319.0 1055.7 L1320.0 1055.7 L1321.0 1055.7 L1322.0 1055.7 L1323.0 1055.7 L1324.0 1055.7 L1325.0 1055.7 L1326.0 1055.7 L1327.0 1055.7 L1328.0 1055.7 L1329.0 1055.7 L1330.0 1055.7 L1331.0 1055.7 L1332.0 1055.7 L1333.0 1055.7 L1334.0 1055.7 L1335.0 1055.7 L1336.0 1055.7 L1337.0 1055.7 L1338.0 1055.7 L1339.0 1055.7 L1340.0 1055.7 L1341.0 1055.7 L1342.0 1055.7 L1343.0 1055.7 L1344.0 1055.7 L1345.0 1055.7 L1346.0 1055.7 L1347.0 1055.7 L1348.0 1055.7 L1349.0 1055.7 L1350.0 1055.7 L1351.0 1055.7 L1352.0 1055.7 L1353.0 1055.7 L1354.0 1055.7 L1355.0 1055.7 L1356.0 1055.7 L1357.0 1055.7 L1358.0 1055.7 L1359.0 1055.7 L1360.0 1055.7 L1361.0 1055.7 L1362.0 1055.7 L1363.0 1055.7 L1364.0 1055.7 L1365.0 1055.7 L1366.0 1055.7 L1367.0 1055.7 L1368.0 1055.7 L1369.0 1055.7 L1370.0 1055.7 L1371.0 1055.7 L1372.0 1055.7 L1373.0 1055.7 L1374.0 1055.7 L1375.0 1055.7 L1376.0 1055.7 L1377.0 1055.7 L1378.0 1055.7 L1379.0 1055.7 L1380.0 1055.7 L1381.0 1055.7 L1382.0 1055.7 L1383.0 1055.7 L1384.0 1055.7 L1385.0 1055.7 L1386.0 1055.7 L1387.0 1055.7 L1388.0 1055.7 L1389.0 1055.7 L1390.0 1055.7 L1391.0 1055.7 L1392.0 1055.7 L1393.0 1055.7 L1394.0 1055.7 L1395.0 1055.7 L1396.0 1055.7 L1397.0 1055.7 L1398.0 1055.7 L1399.0 1055.7 L1400.0 1055.7 L1401.0 1055.7 L1402.0 1055.7 L1403.0 1055.7 L1404.0 1055.7 L1405.0 1055.7 L1406.0 1055.7 L1407.0 1055.7 L1408.0 1055.7 L1409.0 1055.7 L1410.0 1055.7 L1411.0 1055.7 L1412.0 1055.7 L1413.0 1055.7 L1414.0 1055.7 L1415.0 1055.7 L1416.0 1055.7 L1417.0 1055.7 L1418.0 1055.7 L1419.0 1055.7 L1420.0 1055.7 L1421.0 1055.7 L1422.0 1055.7 L1423.0 1055.7 L1424.0 1055.7 L1425.0 1055.7 L1426.0 1055.7 L1427.0 1055.7 L1428.0 1055.7 L1429.0 1055.7 L1430.0 1055.7 L1431.0 1055.7 L1432.0 1055.7 L1433.0 1055.7 L1434.0 1055.7 L1435.0 1055.7 L1436.0 1055.7 L1437.0 1055.7 L1438.0 1055.7 L1439.0 1055.7 L1440.0 1055.7 L1441.0 1055.7 L1442.0 1055.7 L1443.0 1055.7 L1444.0 1055.7 L1445.0 1055.7 L1446.0 1055.7 L1447.0 1055.7 L1448.0 1055.7 L1449.0 1055.7 L1450.0 1055.7 L1451.0 1055.7 L1452.0 1055.7 L1453.0 1055.7 L1454.0 1055.7 L1455.0 1055.7 L1456.0 1055.7 L1457.0 1055.7 L1458.0 1055.7 L1459.0 1055.7 L1460.0 1055.7 L1461.0 1055.7 L1462.0 1055.7 L1463.0 1055.7 L1464.0 1055.7 L1465.0 1055.7 L1466.0 1055.7 L1467.0 1055.7 L1468.0 1055.7 L1469.0 1055.7 L1470.0 1055.7 L1471.0 1055.7 L1472.0 1055.7 L1473.0 1055.7 L1474.0 1055.7 L1475.0 1055.7 L1476.0 1055.7 L1477.0 1055.7 L1478.0 1055.7 L1479.0 1055.7 L1480.0 1055.7 L1481.0 1055.7 L1482.0 1055.7 L1483.0 1055.7 L1484.0 1055.7 L1485.0 1055.7 L1486.0 1055.7 L1487.0 1055.7 L1488.0 1055.7 L1489.0 1055.7 L1490.0 1055.7 L1491.0 1055.7 L1492.0 1055.7 L1493.0 1055.7 L1494.0 1055.7 L1495.0 1055.7 L1496.0 1055.7 L1497.0 1055.7 L1498.0 1055.7 L1499.0 1055.7 L1500.0 1055.7 L1501.0 1055.7 L1502.0 1055.7 L1503.0 1055.7 L1504.0 1055.7 L1505.0 1055.7 L1506.0 1055.7 L1507.0 1055.7 L1508.0 1055.7 L1509.0 1055.7 L1510.0 1055.7 L1511.0 1055.7 L1512.0 1055.7 L1513.0 1055.7 L1514.0 1055.7 L1515.0 1055.7 L1516.0 1055.7 L1517.0 1055.7 L1518.0 1055.7 L1519.0 1055.7 L1520.0 1055.7 L1521.0 1055.7 L1522.0 1055.7 L1523.0 1055.7 L1524.0 1055.7 L1525.0 1055.7 L1526.0 1055.7 L1527.0 1055.7 L1528.0 1055.7 L1529.0 1055.7 L1530.0 1055.7 L1531.0 1055.7 L1532.0 1055.7 L1533.0 1055.7 L1534.0 1055.7 L1535.0 1055.7 L1536.0 1055.7 L1537.0 1055.7 L1538.0 1055.7 L1539.0 1055.7 L1540.0 1055.7 L1541.0 1055.7 L1542.0 1055.7 L1543.0 1055.7 L1544.0 1055.7 L1545.0 1055.7 L1546.0 1055.7"/>
<path class="c" stroke="#800080" d="M158.0 70.0 L159.0 70.1 L160.0 70.1 L161.0 70.2 L162.0 70.3 L163.0 70.4 L164.0 70.6 L165.0 70.7 L166.0 70.9 L167.0 71.0 L168.0 71.2 L169.0 71.4 L170.0 71.6 L171.0 71.8 L172.0 72.0 L173.0 72.2 L174.0 72.5 L175.0 72.7 L176.0 73.0 L177.0 73.3 L178.0 73.7 L179.0 74.0 L180.0 74.4 L181.0 74.8 L182.0 75.2 L183.0 75.6 L184.0 76.0 L185.0 76.5 L186.0 77.0 L187.0 77.5 L188.0 78.1 L189.0 78.7 L190.0 79.4 L191.0 80.0 L192.0 80.7 L193.0 81.4 L194.0 82.0 L195.0 82.7 L196.0 83.3 L197.0 84.0 L198.0 84.6 L199.0 85.2 L200.0 85.9 L201.0 86.5 L202.0 87.2 L203.0 87.9 L204.0 88.5 L205.0 89.2 L206.0 89.9 L207.0 90.6 L208.0 91.3 L209.0 92.0 L210.0 92.7 L211.0 93.5 L212.0 94.2 L213.0 95.0 L214.0 95.8 L215.0 96.6 L216.0 97.5 L217.0 98.3 L218.0 99.2 L219.0 100.1 L220.0 101.0 L221.0 101.9 L222.0 102.9 L223.0 103.8 L224.0 104.8 L225.0 105.8 L226.0 106.7 L227.0 107.7 L228.0 108.7 L229.0 109.7 L230.0 110.7 L231.0 111.7 L232.0 112.7 L233.0 113.8 L234.0 114.8 L235.0 115.9 L236.0 117.0 L237.0 118.1 L238.0 119.3 L239.0 120.4 L240.0 121.6 L241.0 122.8 L242.0 124.0 L243.0 125.3 L244.0 126.6 L245.0 127.9 L246.0 129.2 L247.0 130.5 L248.0 131.9 L249.0 133.3 L250.0 134.7 L251.0 136.1 L252.0 137.5 L253.0 138.9 L254.0 140.3 L255.0 141.8 L256.0 143.4 L257.0 145.1 L258.0 146.9 L259.0 148.9 L260.0 151.1 L261.0 153.5 L262.0 156.1 L263.0 158.7 L264.0 161.4 L265.0 164.2 L266.0 167.2 L267.0 170.3 L268.0 173.5 L269.0 176.8 L270.0 180.2 L271.0 183.6 L272.0 187.2 L273.0 190.8 L274.0 194.5 L275.0 198.3 L276.0 202.1 L277.0 206.0 L278.0 209.8 L279.0 213.7 L280.0 217.6 L281.0 221.5 L282.0 225.5 L283.0 229.5 L284.0 233.7 L285.0 237.7 L286.0 241.8 L287.0 246.1 L288.0 250.6 L289.0 255.4 L290.0 260.8 L291.0 267.1 L292.0 273.8 L293.0 280.7 L294.0 287.2 L295.0 293.7 L296.0 300.2 L297.0 306.7 L298.0 313.3 L299.0 320.3 L300.0 327.2 L301.0 333.9 L302.0 340.0 L303.0 345.5 L304.0 350.6 L305.0 355.5 L306.0 360.3 L307.0 365.0 L308.0 369.7 L309.0 374.3 L310.0 378.8 L311.0 383.2 L312.0 387.7 L313.0 392.3 L314.0 396.9 L315.0 401.5 L316.0 406.1 L317.0 410.6 L318.0 415.0 L319.0 419.4 L320.0 423.7 L321.0 428.0 L322.0 432.2 L323.0 436.2 L324.0 440.0 L325.0 443.7 L326.0 447.3 L327.0 450.8 L328.0 454.1 L329.0 457.3 L330.0 460.3 L331.0 463.0 L332.0 465.5 L333.0 467.9 L334.0 470.2 L335.0 472.4 L336.0 474.4 L337.0 476.4 L338.0 478.2 L339.0 480.0 L340.0 481.6 L341.0 482.9 L342.0 484.3 L343.0 485.6 L344.0 487.1 L345.0 488.9 L346.0 491.0 L347.0 493.3 L348.0 495.8 L349.0 498.4 L350.0 501.1 L351.0 503.9 L352.0 506.8 L353.0 509.7 L354.0 512.5 L355.0 515.4 L356.0 518.3 L357.0 521.4 L358.0 524.5 L359.0 527.6 L360.0 530.8 L361.0 533.9 L362.0 537.0 L363.0 540.1 L364.0 543.3 L365.0 546.5 L366.0 549.6 L367.0 552.7 L368.0 555.7 L369.0 558.6 L370.0 561.3 L371.0 563.9 L372.0 566.6 L373.0 569.1 L374.0 571.5 L375.0 573.8 L376.0 575.9 L377.0 577.8 L378.0 579.5 L379.0 581.1 L380.0 582.6 L381.0 584.1 L382.0 585.5 L383.0 586.8 L384.0 588.0 L385.0 589.1 L386.0 590.1 L387.0 591.0 L388.0 591.7 L389.0 592.4 L390.0 593.0 L391.0 593.6 L392.0 594.2 L393.0 594.8 L394.0 595.3 L395.0 595.8 L396.0 596.3 L397.0 596.6 L398.0 597.0 L399.0 597.2 L400.0 597.4 L401.0 597.5 L402.0 597.6 L403.0 597.6 L404.0 597.7 L405.0 597.7 L406.0 597.8 L407.0 597.8 L408.0 597.8 L409.0 597.9 L410.0 597.9 L411.0 597.9 L412.0 597.9 L413.0 598.0 L414.0 598.0 L415.0 598.0 L416.0 598.1 L417.0 598.1 L418.0 598.1 L419.0 598.1 L420.0 598.2 L421.0 598.2 L422.0 598.2 L423.0 598.2 L424.0 598.3 L425.0 598.3 L426.0 598.4 L427.0 598.4 L428.0 598.5 L429.0 598.5 L430.0 598.6 L431.0 598.7 L432.0 598.8 L433.0 598.9 L434.0 599.1 L435.0 599.2 L436.0 599.3 L437.0 599.5 L438.0 599.7 L439.0 599.8 L440.0 600.0 L441.0 600.2 L442.0 600.5 L443.0 600.7 L444.0 601.0 L445.0 601.3 L446.0 601.7 L447.0 602.1 L448.0 602.5 L449.0 602.9 L450.0 603.3 L451.0 603.8 L452.0 604.3 L453.0 604.8 L454.0 605.3 L455.0 605.9 L456.0 606.5 L457.0 607.2 L458.0 608.0 L459.0 608.8 L460.0 609.6 L461.0 610.5 L462.0 611.4 L463.0 612.3 L464.0 613.2 L465.0 614.2 L466.0 615.2 L467.0 616.3 L468.0 617.4 L469.0 618.7 L470.0 619.9 L471.0 621.3 L472.0 622.6 L473.0 624.0 L474.0 625.4 L475.0 626.7 L476.0 628.0 L477.0 629.3 L478.0 630.5 L479.0 631.7 L480.0 633.0 L481.0 634.2 L482.0 635.5 L483.0 636.7 L484.0 638.0 L485.0 639.2 L486.0 640.5 L487.0 641.8 L488.0 643.2 L489.0 644.5 L490.0 645.9 L491.0 647.3 L492.0 648.8 L493.0 650.2 L494.0 651.6 L495.0 653.1 L496.0 654.6 L497.0 656.0 L498.0 657.5 L499.0 659.0 L500.0 660.4 L501.0 661.9 L502.0 663.3 L503.0 664.7 L504.0 666.1 L505.0 667.4 L506.0 668.8 L507.0 670.2 L508.0 671.5 L509.0 672.9 L510.0 674.3 L511.0 675.7 L512.0 677.2 L513.0 678.7 L514.0 680.2 L515.0 681.8 L516.0 683.5 L517.0 685.3 L518.0 687.2 L519.0 689.1 L520.0 691.1 L521.0 693.1 L522.0 695.1 L523.0 697.1 L524.0 699.0 L525.0 700.9 L526.0 702.8 L527.0 704.5 L528.0 706.2 L529.0 707.9 L530.0 709.5 L531.0 711.2 L532.0 712.8 L533.0 714.3 L534.0 715.9 L535.0 717.4 L536.0 718.8 L537.0 720.2 L538.0 721.5 L539.0 722.7 L540.0 723.9 L541.0 725.1 L542.0 726.2 L543.0 727.3 L544.0 728.4 L545.0 729.5 L546.0 730.5 L547.0 731.5 L548.0 732.4 L549.0 733.4 L550.0 734.3 L551.0 735.2 L552.0 736.1 L553.0 737.0 L554.0 737.8 L555.0 738.6 L556.0 739.4 L557.0 740.1 L558.0 740.9 L559.0 741.6 L560.0 742.4 L561.0 743.1 L562.0 743.9 L563.0 744.8 L564.0 745.6 L565.0 746.6 L566.0 747.6 L567.0 748.6 L568.0 749.7 L569.0 750.8 L570.0 751.9 L571.0 753.1 L572.0 754.2 L573.0 755.4 L574.0 756.5 L575.0 757.6 L576.0 758.6 L577.0 759.6 L578.0 760.6 L579.0 761.5 L580.0 762.3 L581.0 763.2 L582.0 764.0 L583.0 764.8 L584.0 765.6 L585.0 766.4 L586.0 767.2 L587.0 768.0 L588.0 768.8 L589.0 769.6 L590.0 770.4 L591.0 771.2 L592.0 772.0 L593.0 772.8 L594.0 773.6 L595.0 774.3 L596.0 775.1 L597.0 775.9 L598.0 776.7 L599.0 777.5 L600.0 778.4 L601.0 779.2 L602.0 780.1 L603.0 781.0 L604.0 781.9 L605.0 782.9 L606.0 784.0 L607.0 785.0 L608.0 786.1 L609.0 787.2 L610.0 788.3 L611.0 789.4 L612.0 790.5 L613.0 791.7 L614.0 792.8 L615.0 793.9 L616.0 795.0 L617.0 796.1 L618.0 797.2 L619.0 798.3 L620.0 799.4 L621.0 800.5 L622.0 801.6 L623.0 802.7 L624.0 803.8 L625.0 804.9 L626.0 806.0 L627.0 807.1 L628.0 808.3 L629.0 809.4 L630.0 810.6 L631.0 811.7 L632.0 812.9 L633.0 814.1 L634.0 815.3 L635.0 816.5 L636.0 817.7 L637.0 818.9 L638.0 820.1 L639.0 821.3 L640.0 822.5 L641.0 823.8 L642.0 825.0 L643.0 826.2 L644.0 827.5 L645.0 828.8 L646.0 830.0 L647.0 831.3 L648.0 832.6 L649.0 833.9 L650.0 835.2 L651.0 836.5 L652.0 837.8 L653.0 839.1 L654.0 840.5 L655.0 841.8 L656.0 843.2 L657.0 844.5 L658.0 845.9 L659.0 847.3 L660.0 848.7 L661.0 850.1 L662.0 851.5 L663.0 852.9 L664.0 854.4 L665.0 855.8 L666.0 857.2 L667.0 858.6 L668.0 860.0 L669.0 861.4 L670.0 862.8 L671.0 864.1 L672.0 865.5 L673.0 866.9 L674.0 868.3 L675.0 869.6 L676.0 871.0 L677.0 872.4 L678.0 873.8 L679.0 875.2 L680.0 876.6 L681.0 878.0 L682.0 879.5 L683.0 880.9 L684.0 882.4 L685.0 884.0 L686.0 885.5 L687.0 886.9 L688.0 888.4 L689.0 889.8 L690.0 891.1 L691.0 892.5 L692.0 893.8 L693.0 895.1 L694.0 896.3 L695.0 897.6 L696.0 898.9 L697.0 900.1 L698.0 901.3 L699.0 902.5 L700.0 903.8 L701.0 905.0 L702.0 906.2 L703.0 907.4 L704.0 908.6 L705.0 909.8 L706.0 911.0 L707.0 912.2 L708.0 913.4 L709.0 914.6 L710.0 915.8 L711.0 917.0 L712.0 918.3 L713.0 919.5 L714.0 920.7 L715.0 921.9 L716.0 923.1 L717.0 924.2 L718.0 925.4 L719.0 926.4 L720.0 927.4 L721.0 928.4 L722.0 929.4 L723.0 930.4 L724.0 931.3 L725.0 932.3 L726.0 933.2 L727.0 934.1 L728.0 935.0 L729.0 935.8 L730.0 936.7 L731.0 937.5 L732.0 938.3 L733.0 939.1 L734.0 939.9 L735.0 940.7 L736.0 941.5 L737.0 942.3 L738.0 943.0 L739.0 943.8 L740.0 944.5 L741.0 945.2 L742.0 945.9 L743.0 946.6 L744.0 947.3 L745.0 948.0 L746.0 948.7 L747.0 949.4 L748.0 950.0 L749.0 950.7 L750.0 951.3 L751.0 952.0 L752.0 952.6 L753.0 953.3 L754.0 953.9 L755.0 954.5 L756.0 955.1 L757.0 955.7 L758.0 956.3 L759.0 956.9 L760.0 957.5 L761.0 958.0 L762.0 958.6 L763.0 959.2 L764.0 959.7 L765.0 960.3 L766.0 960.8 L767.0 961.3 L768.0 961.9 L769.0 962.4 L770.0 962.9 L771.0 963.4 L772.0 963.9 L773.0 964.4 L774.0 964.9 L775.0 965.4 L776.0 965.9 L777.0 966.4 L778.0 966.9 L779.0 967.3 L780.0 967.8 L781.0 968.3 L782.0 968.7 L783.0 969.2 L784.0 969.6 L785.0 970.0 L786.0 970.4 L787.0 970.9 L788.0 971.3 L789.0 971.7 L790.0 972.2 L791.0 972.6 L792.0 973.0 L793.0 973.4 L794.0 973.8 L795.0 974.2 L796.0 974.5 L797.0 974.8 L798.0 975.1 L799.0 975.4 L800.0 975.7 L801.0 975.9 L802.0 976.1 L803.0 976.2 L804.0 976.4 L805.0 976.5 L806.0 976.7 L807.0 976.8 L808.0 976.9 L809.0 977.1 L810.0 977.2 L811.0 977.3 L812.0 977.4 L813.0 977.5 L814.0 977.6 L815.0 977.7 L816.0 977.8 L817.0 977.9 L818.0 978.0 L819.0 978.0 L820.0 978.1 L821.0 978.1 L822.0 978.1 L823.0 978.2 L824.0 978.2 L825.0 978.2 L826.0 978.2 L827.0 978.2 L828.0 978.2 L829.0 978.2 L830.0 978.2 L831.0 978.2 L832.0 978.2 L833.0 978.1 L834.0 978.1 L835.0 978.0 L836.0 978.0 L837.0 978.0 L838.0 977.9 L839.0 977.8 L840.0 977.8 L841.0 977.7 L842.0 977.7 L843.0 977.6 L844.0 977.5 L845.0 977.5 L846.0 977.4 L847.0 977.3 L848.0 977.2 L849.0 977.2 L850.0 977.1 L851.0 977.0 L852.0 976.9 L853.0 976.8 L854.0 976.7 L855.0 976.6 L856.0 976.5 L857.0 976.4 L858.0 976.4 L859.0 976.3 L860.0 976.2 L861.0 976.1 L862.0 976.0 L863.0 976.0 L864.0 975.9 L865.0 975.8 L866.0 975.8 L867.0 975.7 L868.0 975.7 L869.0 975.6 L870.0 975.5 L871.0 975.5 L872.0 975.4 L873.0 975.4 L874.0 975.3 L875.0 975.3 L876.0 975.2 L877.0 975.2 L878.0 975.1 L879.0 975.0 L880.0 974.9 L881.0 974.8 L882.0 974.7 L883.0 974.6 L884.0 974.5 L885.0 974.4 L886.0 974.3 L887.0 974.2 L888.0 974.1 L889.0 973.9 L890.0 973.8 L891.0 973.7 L892.0 973.5 L893.0 973.4 L894.0 973.3 L895.0 973.1 L896.0 973.0 L897.0 972.9 L898.0 972.7 L899.0 972.6 L900.0 972.5 L901.0 972.4 L902.0 972.3 L903.0 972.2 L904.0 972.1 L905.0 972.0 L906.0 971.9 L907.0 971.8 L908.0 971.8 L909.0 971.7 L910.0 971.6 L911.0 971.5 L912.0 971.4 L913.0 971.4 L914.0 971.3 L915.0 971.2 L916.0 971.2 L917.0 971.1 L918.0 971.1 L919.0 971.0 L920.0 971.0 L921.0 970.9 L922.0 970.9 L923.0 970.8 L924.0 970.8 L925.0 970.8 L926.0 970.8 L927.0 970.7 L928.0 970.7 L929.0 970.7 L930.0 970.7 L931.0 970.8 L932.0 970.8 L933.0 970.8 L934.0 970.8 L935.0 970.8 L936.0 970.8 L937.0 970.8 L938.0 970.8 L939.0 970.9 L940.0 970.9 L941.0 970.9 L942.0 970.9 L943.0 971.0 L944.0 971.0 L945.0 971.0 L946.0 971.1 L947.0 971.1 L948.0 971.1 L949.0 971.2 L950.0 971.3 L951.0 971.3 L952.0 971.4 L953.0 971.5 L954.0 971.5 L955.0 971.6 L956.0 971.7 L957.0 971.7 L958.0 971.8 L959.0 971.9 L960.0 972.0 L961.0 972.0 L962.0 972.1 L963.0 972.2 L964.0 972.3 L965.0 972.4 L966.0 972.5 L967.0 972.6 L968.0 972.7 L969.0 972.8 L970.0 972.9 L971.0 973.0 L972.0 973.1 L973.0 973.2 L974.0 973.3 L975.0 973.4 L976.0 973.5 L977.0 973.6 L978.0 973.7 L979.0 973.8 L980.0 973.9 L981.0 974.1 L982.0 974.2 L983.0 974.3 L984.0 974.4 L985.0 974.6 L986.0 974.7 L987.0 974.9 L988.0 975.0 L989.0 975.2 L990.0 975.4 L991.0 975.5 L992.0 975.7 L993.0 975.9 L994.0 976.1 L995.0 976.3 L996.0 976.5 L997.0 976.7 L998.0 976.9 L999.0 977.0 L1000.0 977.2 L1001.0 977.4 L1002.0 977.6 L1003.0 977.9 L1004.0 978.1 L1005.0 978.3 L1006.0 978.5 L1007.0 978.7 L1008.0 978.9 L1009.0 979.1 L1010.0 979.3 L1011.0 979.6 L1012.0 979.8 L1013.0 980.0 L1014.0 980.3 L1015.0 980.5 L1016.0 980.7 L1017.0 981.0 L1018.0 981.2 L1019.0 981.5 L1020.0 981.8 L1021.0 981.9 L1022.0 982.1 L1023.0 982.3 L1024.0 982.4 L1025.0 982.6 L1026.0 982.8 L1027.0 983.0 L1028.0 983.2 L1029.0 983.3 L1030.0 983.5 L1031.0 983.7 L1032.0 983.9 L1033.0 984.2 L1034.0 984.4 L1035.0 984.6 L1036.0 984.9 L1037.0 985.1 L1038.0 985.4 L1039.0 985.6 L1040.0 985.9 L1041.0 986.1 L1042.0 986.4 L1043.0 986.7 L1044.0 987.0 L1045.0 987.2 L1046.0 987.5 L1047.0 987.8 L1048.0 988.1 L1049.0 988.4 L1050.0 988.6 L1051.0 988.9 L1052.0 989.2 L1053.0 989.5 L1054.0 989.8 L1055.0 990.1 L1056.0 990.3 L1057.0 990.6 L1058.0 990.9 L1059.0 991.2 L1060.0 991.5 L1061.0 991.8 L1062.0 992.2 L1063.0 992.5 L1064.0 992.8 L1065.0 993.1 L1066.0 993.4 L1067.0 993.8 L1068.0 994.1 L1069.0 994.4 L1070.0 994.8 L1071.0 995.2 L1072.0 995.7 L1073.0 996.2 L1074.0 996.6 L1075.0 997.1 L1076.0 997.6 L1077.0 998.1 L1078.0 998.6 L1079.0 999.1 L1080.0 999.5 L1081.0 1000.0 L1082.0 1000.5 L1083.0 1001.0 L1084.0 1001.5 L1085.0 1002.0 L1086.0 1002.4 L1087.0 1002.9 L1088.0 1003.4 L1089.0 1003.8 L1090.0 1004.3 L1091.0 1004.8 L1092.0 1005.2 L1093.0 1005.7 L1094.0 1006.2 L1095.0 1006.6 L1096.0 1007.1 L1097.0 1007.5 L1098.0 1008.0 L1099.0 1008.5 L1100.0 1008.9 L1101.0 1009.4 L1102.0 1009.8 L1103.0 1010.3 L1104.0 1010.8 L1105.0 1011.2 L1106.0 1011.7 L1107.0 1012.1 L1108.0 1012.6 L1109.0 1013.1 L1110.0 1013.5 L1111.0 1014.0 L1112.0 1014.4 L1113.0 1014.9 L1114.0 1015.4 L1115.0 1015.8 L1116.0 1016.3 L1117.0 1016.7 L1118.0 1017.2 L1119.0 1017.7 L1120.0 1018.1 L1121.0 1018.6 L1122.0 1019.0 L1123.0 1019.5 L1124.0 1020.0 L1125.0 1020.4 L1126.0 1020.9 L1127.0 1021.3 L1128.0 1021.7 L1129.0 1022.1 L1130.0 1022.5 L1131.0 1022.9 L1132.0 1023.3 L1133.0 1023.7 L1134.0 1024.0 L1135.0 1024.4 L1136.0 1024.7 L1137.0 1025.1 L1138.0 1025.5 L1139.0 1025.8 L1140.0 1026.2 L1141.0 1026.5 L1142.0 1026.9 L1143.0 1027.2 L1144.0 1027.5 L1145.0 1027.9 L1146.0 1028.2 L1147.0 1028.5 L1148.0 1028.8 L1149.0 1029.1 L1150.0 1029.5 L1151.0 1029.8 L1152.0 1030.1 L1153.0 1030.5 L1154.0 1030.9 L1155.0 1031.4 L1156.0 1031.9 L1157.0 1032.5 L1158.0 1033.1 L1159.0 1033.7 L1160.0 1034.2 L1161.0 1034.9 L1162.0 1035.5 L1163.0 1036.2 L1164.0 1037.0 L1165.0 1037.8 L1166.0 1038.5 L1167.0 1039.2 L1168.0 1039.9 L1169.0 1040.6 L1170.0 1041.3 L1171.0 1042.0 L1172.0 1042.5 L1173.0 1042.9 L1174.0 1043.3 L1175.0 1043.7 L1176.0 1044.0 L1177.0 1044.3 L1178.0 1044.6 L1179.0 1044.9 L1180.0 1045.1 L1181.0 1045.4 L1182.0 1045.7 L1183.0 1045.9 L1184.0 1046.2 L1185.0 1046.4 L1186.0 1046.6 L1187.0 1046.8 L1188.0 1047.1 L1189.0 1047.3 L1190.0 1047.5 L1191.0 1047.7 L1192.0 1047.8 L1193.0 1048.0 L1194.0 1048.2 L1195.0 1048.4 L1196.0 1048.5 L1197.0 1048.7 L1198.0 1048.8 L1199.0 1048.9 L1200.0 1049.1 L1201.0 1049.2 L1202.0 1049.3 L1203.0 1049.5 L1204.0 1049.6 L1205.0 1049.7 L1206.0 1049.8 L1207.0 1050.0 L1208.0 1050.1 L1209.0 1050.3 L1210.0 1050.4 L1211.0 1050.6 L1212.0 1050.7 L1213.0 1050.9 L1214.0 1051.0 L1215.0 1051.2 L1216.0 1051.3 L1217.0 1051.5 L1218.0 1051.6 L1219.0 1051.7 L1220.0 1051.8 L1221.0 1052.0 L1222.0 1052.1 L1223.0 1052.2 L1224.0 1052.3 L1225.0 1052.4 L1226.0 1052.6 L1227.0 1052.7 L1228.0 1052.8 L1229.0 1052.9 L1230.0 1053.0 L1231.0 1053.1 L1232.0 1053.2 L1233.0 1053.2 L1234.0 1053.3 L1235.0 1053.4 L1236.0 1053.5 L1237.0 1053.6 L1238.0 1053.7 L1239.0 1053.8 L1240.0 1053.9 L1241.0 1054.0 L1242.0 1054.0 L1243.0 1054.1 L1244.0 1054.2 L1245.0 1054.3 L1246.0 1054.3 L1247.0 1054.4 L1248.0 1054.4 L1249.0 1054.5 L1250.0 1054.5 L1251.0 1054.6 L1252.0 1054.6 L1253.0 1054.6 L1254.0 1054.7 L1255.0 1054.7 L1256.0 1054.7 L1257.0 1054.7 L1258.0 1054.8 L1259.0 1054.8 L1260.0 1054.8 L1261.0 1054.8 L1262.0 1054.9 L1263.0 1054.9 L1264.0 1054.9 L1265.0 1054.9 L1266.0 1055.0 L1267.0 1055.0 L1268.0 1055.0 L1269.0 1055.0 L1270.0 1055.1 L1271.0 1055.1 L1272.0 1055.1 L1273.0 1055.1 L1274.0 1055.2 L1275.0 1055.2 L1276.0 1055.2 L1277.0 1055.3 L1278.0 1055.3 L1279.0 1055.3 L1280.0 1055.3 L1281.0 1055.4 L1282.0 1055.4 L1283.0 1055.4 L1284.0 1055.4 L1285.0 1055.5 L1286.0 1055.5 L1287.0 1055.5 L1288.0 1055.5 L1289.0 1055.5 L1290.0 1055.5 L1291.0 1055.5 L1292.0 1055.4 L1293.0 1055.3 L1294.0 1054.9 L1295.0 1054.6 L1296.0 1054.2 L1297.0 1053.8 L1298.0 1053.4 L1299.0 1053.0 L1300.0 1052.8 L1301.0 1052.7 L1302.0 1052.7 L1303.0 1052.8 L1304.0 1053.0 L1305.0 1053.2 L1306.0 1053.5 L1307.0 1053.9 L1308.0 1054.2 L1309.0 1054.5 L1310.0 1054.8 L1311.0 1055.1 L1312.0 1055.3 L1313.0 1055.5 L1314.0 1055.5 L1315.0 1055.5 L1316.0 1055.5 L1317.0 1055.5 L1318.0 1055.5 L1319.0 1055.5 L1320.0 1055.5 L1321.0 1055.5 L1322.0 1055.5 L1323.0 1055.5 L1324.0 1055.5 L1325.0 1055.5 L1326.0 1055.5 L1327.0 1055.5 L1328.0 1055.5 L1329.0 1055.5 L1330.0 1055.5 L1331.0 1055.5 L1332.0 1055.5 L1333.0 1055.5 L1334.0 1055.5 L1335.0 1055.5 L1336.0 1055.5 L1337.0 1055.5 L1338.0 1055.5 L1339.0 1055.5 L1340.0 1055.5 L1341.0 1055.5 L1342.0 1055.5 L1343.0 1055.5 L1344.0 1055.5 L1345.0 1055.5 L1346.0 1055.5 L1347.0 1055.5 L1348.0 1055.5 L1349.0 1055.5 L1350.0 1055.5 L1351.0 1055.5 L1352.0 1055.5 L1353.0 1055.5 L1354.0 1055.5 L1355.0 1055.5 L1356.0 1055.5 L1357.0 1055.5 L1358.0 1055.5 L1359.0 1055.5 L1360.0 1055.5 L1361.0 1055.5 L1362.0 1055.5 L1363.0 1055.5 L1364.0 1055.5 L1365.0 1055.5 L1366.0 1055.5 L1367.0 1055.6 L1368.0 1055.6 L1369.0 1055.6 L1370.0 1055.6 L1371.0 1055.6 L1372.0 1055.6 L1373.0 1055.6 L1374.0 1055.6 L1375.0 1055.6 L1376.0 1055.6 L1377.0 1055.6 L1378.0 1055.6 L1379.0 1055.6 L1380.0 1055.6 L1381.0 1055.6 L1382.0 1055.6 L1383.0 1055.6 L1384.0 1055.6 L1385.0 1055.6 L1386.0 1055.6 L1387.0 1055.6 L1388.0 1055.6 L1389.0 1055.6 L1390.0 1055.6 L1391.0 1055.6 L1392.0 1055.6 L1393.0 1055.6 L1394.0 1055.6 L1395.0 1055.6 L1396.0 1055.6 L1397.0 1055.6 L1398.0 1055.6 L1399.0 1055.6 L1400.0 1055.6 L1401.0 1055.6 L1402.0 1055.6 L1403.0 1055.6 L1404.0 1055.6 L1405.0 1055.6 L1406.0 1055.6 L1407.0 1055.6 L1408.0 1055.6 L1409.0 1055.6 L1410.0 1055.6 L1411.0 1055.6 L1412.0 1055.6 L1413.0 1055.6 L1414.0 1055.6 L1415.0 1055.6 L1416.0 1055.6 L1417.0 1055.6 L1418.0 1055.6 L1419.0 1055.6 L1420.0 1055.6 L1421.0 1055.6 L1422.0 1055.6 L1423.0 1055.6 L1424.0 1055.6 L1425.0 1055.6 L1426.0 1055.6 L1427.0 1055.6 L1428.0 1055.6 L1429.0 1055.6 L1430.0 1055.6 L1431.0 1055.6 L1432.0 1055.6 L1433.0 1055.6 L1434.0 1055.6 L1435.0 1055.6 L1436.0 1055.6 L1437.0 1055.6 L1438.0 1055.6 L1439.0 1055.6 L1440.0 1055.6 L1441.0 1055.6 L1442.0 1055.6 L1443.0 1055.6 L1444.0 1055.6 L1445.0 1055.6 L1446.0 1055.6 L1447.0 1055.6 L1448.0 1055.6 L1449.0 1055.6 L1450.0 1055.6 L1451.0 1055.6 L1452.0 1055.6 L1453.0 1055.6 L1454.0 1055.6 L1455.0 1055.6 L1456.0 1055.6 L1457.0 1055.6 L1458.0 1055.6 L1459.0 1055.6 L1460.0 1055.6 L1461.0 1055.6 L1462.0 1055.6 L1463.0 1055.6 L1464.0 1055.6 L1465.0 1055.6 L1466.0 1055.6 L1467.0 1055.6 L1468.0 1055.6 L1469.0 1055.6 L1470.0 1055.6 L1471.0 1055.6 L1472.0 1055.6 L1473.0 1055.6 L1474.0 1055.6 L1475.0 1055.6 L1476.0 1055.6 L1477.0 1055.6 L1478.0 1055.5 L1479.0 1055.5 L1480.0 1055.5 L1481.0 1055.5 L1482.0 1055.5 L1483.0 1055.5 L1484.0 1055.5 L1485.0 1055.5 L1486.0 1055.5 L1487.0 1055.5 L1488.0 1055.5 L1489.0 1055.5 L1490.0 1055.5 L1491.0 1055.5 L1492.0 1055.5 L1493.0 1055.5 L1494.0 1055.5 L1495.0 1055.5 L1496.0 1055.5 L1497.0 1055.5 L1498.0 1055.5 L1499.0 1055.5 L1500.0 1055.5 L1501.0 1055.5 L1502.0 1055.5 L1503.0 1055.5 L1504.0 1055.5 L1505.0 1055.5 L1506.0 1055.5 L1507.0 1055.5 L1508.0 1055.5 L1509.0 1055.5 L1510.0 1055.5 L1511.0 1055.5 L1512.0 1055.5 L1513.0 1055.5 L1514.0 1055.5 L1515.0 1055.5 L1516.0 1055.5 L1517.0 1055.5 L1518.0 1055.5 L1519.0 1055.5 L1520.0 1055.5 L1521.0 1055.5 L1522.0 1055.5 L1523.0 1055.5 L1524.0 1055.5 L1525.0 1055.5 L1526.0 1055.5 L1527.0 1055.5 L1528.0 1055.5 L1529.0 1055.5 L1530.0 1055.5 L1531.0 1055.5 L1532.0 1055.5 L1533.0 1055.5 L1534.0 1055.5 L1535.0 1055.5 L1536.0 1055.5 L1537.0 1055.5 L1538.0 1055.5 L1539.0 1055.5 L1540.0 1055.5 L1541.0 1055.5 L1542.0 1055.5 L1543.0 1055.5 L1544.0 1055.5 L1545.0 1055.5 L1546.0 1055.5"/>
<path class="c" stroke="#800000" d="M158.0 66.0 L159.0 66.0 L160.0 65.9 L161.0 65.8 L162.0 65.7 L163.0 65.6 L164.0 65.4 L165.0 65.3 L166.0 65.2 L167.0 65.0 L168.0 64.8 L169.0 64.6 L170.0 64.3 L171.0 64.1 L172.0 63.8 L173.0 63.5 L174.0 63.2 L175.0 62.9 L176.0 62.6 L177.0 62.3 L178.0 62.0 L179.0 61.6 L180.0 61.3 L181.0 61.0 L182.0 60.7 L183.0 60.4 L184.0 60.2 L185.0 60.1 L186.0 60.0 L187.0 60.0 L188.0 60.3 L189.0 60.7 L190.0 61.4 L191.0 62.1 L192.0 62.9 L193.0 63.7 L194.0 64.6 L195.0 65.4 L196.0 66.2 L197.0 67.0 L198.0 67.8 L199.0 68.7 L200.0 69.6 L201.0 70.6 L202.0 71.7 L203.0 73.0 L204.0 74.5 L205.0 76.2 L206.0 78.0 L207.0 79.8 L208.0 81.7 L209.0 83.5 L210.0 85.2 L211.0 86.7 L212.0 88.1 L213.0 89.1 L214.0 90.1 L215.0 91.0 L216.0 91.9 L217.0 92.7 L218.0 93.4 L219.0 94.2 L220.0 95.0 L221.0 95.8 L222.0 96.6 L223.0 97.4 L224.0 98.1 L225.0 98.9 L226.0 99.6 L227.0 100.4 L228.0 101.1 L229.0 101.8 L230.0 102.6 L231.0 103.3 L232.0 104.1 L233.0 104.8 L234.0 105.6 L235.0 106.4 L236.0 107.2 L237.0 108.0 L238.0 108.8 L239.0 109.7 L240.0 110.5 L241.0 111.3 L242.0 112.1 L243.0 113.0 L244.0 113.8 L245.0 114.7 L246.0 115.6 L247.0 116.6 L248.0 117.5 L249.0 118.5 L250.0 119.6 L251.0 120.7 L252.0 121.8 L253.0 123.0 L254.0 124.2 L255.0 125.5 L256.0 126.9 L257.0 128.3 L258.0 129.9 L259.0 131.5 L260.0 133.3 L261.0 135.2 L262.0 137.4 L263.0 139.9 L264.0 142.5 L265.0 145.3 L266.0 148.0 L267.0 150.8 L268.0 153.7 L269.0 156.8 L270.0 160.0 L271.0 163.6 L272.0 167.4 L273.0 171.4 L274.0 175.2 L275.0 179.1 L276.0 183.0 L277.0 186.7 L278.0 190.3 L279.0 193.6 L280.0 197.0 L281.0 200.4 L282.0 204.1 L283.0 208.0 L284.0 212.2 L285.0 216.6 L286.0 221.2 L287.0 225.9 L288.0 230.6 L289.0 235.3 L290.0 240.0 L291.0 244.8 L292.0 249.8 L293.0 255.2 L294.0 261.0 L295.0 267.7 L296.0 274.8 L297.0 281.9 L298.0 288.9 L299.0 295.8 L300.0 302.8 L301.0 310.0 L302.0 317.6 L303.0 325.4 L304.0 333.1 L305.0 340.0 L306.0 346.1 L307.0 351.8 L308.0 357.1 L309.0 362.4 L310.0 367.6 L311.0 372.7 L312.0 377.7 L313.0 382.6 L314.0 387.5 L315.0 392.5 L316.0 397.6 L317.0 402.6 L318.0 407.7 L319.0 412.6 L320.0 417.4 L321.0 422.1 L322.0 426.8 L323.0 431.3 L324.0 435.7 L325.0 440.0 L326.0 444.1 L327.0 448.2 L328.0 452.2 L329.0 456.0 L330.0 459.6 L331.0 463.0 L332.0 466.2 L333.0 469.3 L334.0 472.3 L335.0 475.1 L336.0 477.7 L337.0 480.0 L338.0 482.0 L339.0 483.6 L340.0 485.2 L341.0 487.0 L342.0 489.1 L343.0 491.4 L344.0 493.9 L345.0 496.5 L346.0 499.3 L347.0 502.2 L348.0 505.2 L349.0 508.4 L350.0 511.5 L351.0 514.8 L352.0 518.4 L353.0 522.2 L354.0 526.1 L355.0 530.1 L356.0 534.0 L357.0 537.7 L358.0 541.4 L359.0 545.0 L360.0 548.7 L361.0 552.3 L362.0 556.0 L363.0 559.7 L364.0 563.7 L365.0 567.9 L366.0 572.1 L367.0 576.2 L368.0 579.9 L369.0 583.2 L370.0 586.3 L371.0 589.2 L372.0 592.0 L373.0 594.6 L374.0 597.1 L375.0 599.5 L376.0 601.8 L377.0 604.1 L378.0 606.4 L379.0 608.5 L380.0 610.5 L381.0 612.3 L382.0 614.0 L383.0 615.4 L384.0 616.7 L385.0 618.0 L386.0 619.3 L387.0 620.4 L388.0 621.5 L389.0 622.5 L390.0 623.4 L391.0 624.2 L392.0 624.9 L393.0 625.5 L394.0 626.0 L395.0 626.5 L396.0 627.0 L397.0 627.5 L398.0 627.9 L399.0 628.3 L400.0 628.7 L401.0 629.0 L402.0 629.3 L403.0 629.6 L404.0 629.8 L405.0 629.9 L406.0 630.0 L407.0 630.0 L408.0 630.1 L409.0 630.1 L410.0 630.2 L411.0 630.2 L412.0 630.2 L413.0 630.3 L414.0 630.3 L415.0 630.3 L416.0 630.3 L417.0 630.3 L418.0 630.4 L419.0 630.4 L420.0 630.4 L421.0 630.4 L422.0 630.4 L423.0 630.4 L424.0 630.5 L425.0 630.5 L426.0 630.5 L427.0 630.5 L428.0 630.5 L429.0 630.5 L430.0 630.5 L431.0 630.5 L432.0 630.6 L433.0 630.6 L434.0 630.6 L435.0 630.7 L436.0 630.7 L437.0 630.8 L438.0 630.9 L439.0 631.0 L440.0 631.1 L441.0 631.2 L442.0 631.3 L443.0 631.5 L444.0 631.6 L445.0 631.8 L446.0 631.9 L447.0 632.1 L448.0 632.3 L449.0 632.5 L450.0 632.8 L451.0 633.1 L452.0 633.4 L453.0 633.7 L454.0 634.0 L455.0 634.4 L456.0 634.8 L457.0 635.2 L458.0 635.7 L459.0 636.3 L460.0 636.9 L461.0 637.6 L462.0 638.3 L463.0 639.0 L464.0 639.7 L465.0 640.4 L466.0 641.2 L467.0 641.9 L468.0 642.8 L469.0 643.6 L470.0 644.5 L471.0 645.4 L472.0 646.3 L473.0 647.2 L474.0 648.2 L475.0 649.1 L476.0 650.1 L477.0 651.1 L478.0 652.1 L479.0 653.2 L480.0 654.2 L481.0 655.3 L482.0 656.4 L483.0 657.5 L484.0 658.6 L485.0 659.8 L486.0 660.9 L487.0 662.0 L488.0 663.1 L489.0 664.2 L490.0 665.3 L491.0 666.4 L492.0 667.6 L493.0 668.7 L494.0 669.8 L495.0 670.9 L496.0 672.1 L497.0 673.2 L498.0 674.3 L499.0 675.4 L500.0 676.5 L501.0 677.6 L502.0 678.6 L503.0 679.6 L504.0 680.7 L505.0 681.7 L506.0 682.7 L507.0 683.7 L508.0 684.6 L509.0 685.6 L510.0 686.6 L511.0 687.6 L512.0 688.6 L513.0 689.6 L514.0 690.6 L515.0 691.6 L516.0 692.7 L517.0 693.7 L518.0 694.8 L519.0 695.9 L520.0 697.0 L521.0 698.1 L522.0 699.2 L523.0 700.3 L524.0 701.4 L525.0 702.4 L526.0 703.5 L527.0 704.5 L528.0 705.5 L529.0 706.5 L530.0 707.5 L531.0 708.5 L532.0 709.5 L533.0 710.5 L534.0 711.4 L535.0 712.4 L536.0 713.4 L537.0 714.3 L538.0 715.2 L539.0 716.2 L540.0 717.1 L541.0 718.0 L542.0 718.9 L543.0 719.8 L544.0 720.6 L545.0 721.5 L546.0 722.3 L547.0 723.2 L548.0 724.0 L549.0 724.8 L550.0 725.6 L551.0 726.4 L552.0 727.2 L553.0 727.9 L554.0 728.7 L555.0 729.5 L556.0 730.2 L557.0 731.0 L558.0 731.7 L559.0 732.4 L560.0 733.1 L561.0 733.8 L562.0 734.5 L563.0 735.2 L564.0 735.9 L565.0 736.6 L566.0 737.3 L567.0 738.0 L568.0 738.7 L569.0 739.4 L570.0 740.1 L571.0 740.8 L572.0 741.5 L573.0 742.3 L574.0 743.0 L575.0 743.7 L576.0 744.5 L577.0 745.2 L578.0 746.0 L579.0 746.7 L580.0 747.5 L581.0 748.3 L582.0 749.2 L583.0 750.1 L584.0 751.0 L585.0 752.0 L586.0 753.1 L587.0 754.3 L588.0 755.5 L589.0 756.7 L590.0 758.0 L591.0 759.2 L592.0 760.4 L593.0 761.5 L594.0 762.5 L595.0 763.4 L596.0 764.3 L597.0 765.1 L598.0 765.9 L599.0 766.7 L600.0 767.5 L601.0 768.3 L602.0 769.1 L603.0 770.0 L604.0 770.9 L605.0 771.8 L606.0 772.7 L607.0 773.6 L608.0 774.6 L609.0 775.5 L610.0 776.5 L611.0 777.4 L612.0 778.4 L613.0 779.4 L614.0 780.4 L615.0 781.5 L616.0 782.5 L617.0 783.6 L618.0 784.7 L619.0 785.8 L620.0 786.9 L621.0 788.1 L622.0 789.2 L623.0 790.4 L624.0 791.6 L625.0 792.8 L626.0 794.0 L627.0 795.2 L628.0 796.5 L629.0 797.7 L630.0 798.9 L631.0 800.2 L632.0 801.4 L633.0 802.7 L634.0 804.0 L635.0 805.3 L636.0 806.6 L637.0 807.9 L638.0 809.2 L639.0 810.5 L640.0 811.8 L641.0 813.2 L642.0 814.5 L643.0 815.8 L644.0 817.2 L645.0 818.6 L646.0 819.9 L647.0 821.3 L648.0 822.7 L649.0 824.1 L650.0 825.5 L651.0 826.9 L652.0 828.3 L653.0 829.8 L654.0 831.2 L655.0 832.7 L656.0 834.2 L657.0 835.7 L658.0 837.3 L659.0 838.9 L660.0 840.4 L661.0 842.0 L662.0 843.7 L663.0 845.3 L664.0 846.9 L665.0 848.6 L666.0 850.2 L667.0 851.9 L668.0 853.5 L669.0 855.2 L670.0 856.8 L671.0 858.5 L672.0 860.2 L673.0 861.9 L674.0 863.6 L675.0 865.3 L676.0 867.0 L677.0 868.8 L678.0 870.5 L679.0 872.2 L680.0 873.9 L681.0 875.6 L682.0 877.3 L683.0 879.1 L684.0 880.8 L685.0 882.6 L686.0 884.3 L687.0 886.0 L688.0 887.7 L689.0 889.2 L690.0 890.7 L691.0 892.2 L692.0 893.6 L693.0 894.9 L694.0 896.3 L695.0 897.6 L696.0 898.9 L697.0 900.1 L698.0 901.4 L699.0 902.6 L700.0 903.9 L701.0 905.1 L702.0 906.4 L703.0 907.7 L704.0 909.0 L705.0 910.3 L706.0 911.6 L707.0 912.9 L708.0 914.3 L709.0 915.6 L710.0 917.0 L711.0 918.3 L712.0 919.6 L713.0 920.9 L714.0 922.2 L715.0 923.5 L716.0 924.8 L717.0 926.1 L718.0 927.3 L719.0 928.4 L720.0 929.5 L721.0 930.6 L722.0 931.6 L723.0 932.6 L724.0 933.6 L725.0 934.6 L726.0 935.6 L727.0 936.5 L728.0 937.4 L729.0 938.3 L730.0 939.2 L731.0 940.1 L732.0 940.9 L733.0 941.8 L734.0 942.6 L735.0 943.4 L736.0 944.2 L737.0 945.0 L738.0 945.7 L739.0 946.5 L740.0 947.2 L741.0 948.0 L742.0 948.7 L743.0 949.4 L744.0 950.1 L745.0 950.7 L746.0 951.4 L747.0 952.0 L748.0 952.7 L749.0 953.3 L750.0 953.9 L751.0 954.5 L752.0 955.1 L753.0 955.7 L754.0 956.3 L755.0 956.9 L756.0 957.5 L757.0 958.0 L758.0 958.6 L759.0 959.1 L760.0 959.6 L761.0 960.1 L762.0 960.7 L763.0 961.2 L764.0 961.7 L765.0 962.2 L766.0 962.7 L767.0 963.2 L768.0 963.6 L769.0 964.1 L770.0 964.6 L771.0 965.0 L772.0 965.5 L773.0 966.0 L774.0 966.4 L775.0 966.9 L776.0 967.3 L777.0 967.7 L778.0 968.2 L779.0 968.6 L780.0 969.0 L781.0 969.4 L782.0 969.8 L783.0 970.2 L784.0 970.6 L785.0 971.0 L786.0 971.3 L787.0 971.7 L788.0 972.1 L789.0 972.4 L790.0 972.8 L791.0 973.2 L792.0 973.5 L793.0 973.8 L794.0 974.2 L795.0 974.5 L796.0 974.8 L797.0 975.0 L798.0 975.3 L799.0 975.5 L800.0 975.6 L801.0 975.8 L802.0 975.9 L803.0 976.0 L804.0 976.1 L805.0 976.2 L806.0 976.2 L807.0 976.3 L808.0 976.3 L809.0 976.4 L810.0 976.5 L811.0 976.5 L812.0 976.6 L813.0 976.6 L814.0 976.7 L815.0 976.7 L816.0 976.7 L817.0 976.7 L818.0 976.7 L819.0 976.7 L820.0 976.7 L821.0 976.7 L822.0 976.7 L823.0 976.7 L824.0 976.7 L825.0 976.6 L826.0 976.6 L827.0 976.5 L828.0 976.5 L829.0 976.4 L830.0 976.4 L831.0 976.3 L832.0 976.2 L833.0 976.1 L834.0 976.1 L835.0 976.0 L836.0 975.9 L837.0 975.8 L838.0 975.7 L839.0 975.6 L840.0 975.5 L841.0 975.4 L842.0 975.3 L843.0 975.2 L844.0 975.1 L845.0 975.0 L846.0 974.8 L847.0 974.7 L848.0 974.6 L849.0 974.5 L850.0 974.4 L851.0 974.2 L852.0 974.1 L853.0 974.0 L854.0 973.9 L855.0 973.8 L856.0 973.6 L857.0 973.5 L858.0 973.4 L859.0 973.3 L860.0 973.2 L861.0 973.1 L862.0 973.0 L863.0 972.9 L864.0 972.8 L865.0 972.7 L866.0 972.6 L867.0 972.5 L868.0 972.4 L869.0 972.3 L870.0 972.3 L871.0 972.2 L872.0 972.1 L873.0 972.0 L874.0 971.9 L875.0 971.9 L876.0 971.8 L877.0 971.7 L878.0 971.6 L879.0 971.5 L880.0 971.4 L881.0 971.2 L882.0 971.1 L883.0 971.0 L884.0 970.8 L885.0 970.7 L886.0 970.5 L887.0 970.4 L888.0 970.2 L889.0 970.1 L890.0 969.9 L891.0 969.7 L892.0 969.6 L893.0 969.4 L894.0 969.2 L895.0 969.1 L896.0 968.9 L897.0 968.7 L898.0 968.6 L899.0 968.4 L900.0 968.3 L901.0 968.2 L902.0 968.0 L903.0 967.9 L904.0 967.8 L905.0 967.7 L906.0 967.6 L907.0 967.4 L908.0 967.3 L909.0 967.2 L910.0 967.1 L911.0 967.0 L912.0 966.9 L913.0 966.8 L914.0 966.7 L915.0 966.7 L916.0 966.6 L917.0 966.5 L918.0 966.4 L919.0 966.3 L920.0 966.3 L921.0 966.2 L922.0 966.1 L923.0 966.1 L924.0 966.0 L925.0 966.0 L926.0 965.9 L927.0 965.9 L928.0 965.9 L929.0 965.9 L930.0 965.9 L931.0 965.8 L932.0 965.8 L933.0 965.8 L934.0 965.8 L935.0 965.8 L936.0 965.8 L937.0 965.8 L938.0 965.8 L939.0 965.8 L940.0 965.8 L941.0 965.8 L942.0 965.8 L943.0 965.8 L944.0 965.9 L945.0 965.9 L946.0 965.9 L947.0 965.9 L948.0 966.0 L949.0 966.0 L950.0 966.1 L951.0 966.1 L952.0 966.2 L953.0 966.2 L954.0 966.3 L955.0 966.3 L956.0 966.4 L957.0 966.4 L958.0 966.5 L959.0 966.6 L960.0 966.6 L961.0 966.7 L962.0 966.8 L963.0 966.8 L964.0 966.9 L965.0 967.0 L966.0 967.0 L967.0 967.1 L968.0 967.2 L969.0 967.3 L970.0 967.4 L971.0 967.5 L972.0 967.6 L973.0 967.7 L974.0 967.7 L975.0 967.8 L976.0 967.9 L977.0 968.0 L978.0 968.1 L979.0 968.2 L980.0 968.3 L981.0 968.4 L982.0 968.5 L983.0 968.6 L984.0 968.8 L985.0 968.9 L986.0 969.0 L987.0 969.2 L988.0 969.3 L989.0 969.5 L990.0 969.6 L991.0 969.8 L992.0 970.0 L993.0 970.2 L994.0 970.3 L995.0 970.5 L996.0 970.7 L997.0 970.9 L998.0 971.1 L999.0 971.3 L1000.0 971.5 L1001.0 971.7 L1002.0 971.9 L1003.0 972.1 L1004.0 972.3 L1005.0 972.5 L1006.0 972.7 L1007.0 972.9 L1008.0 973.1 L1009.0 973.3 L1010.0 973.5 L1011.0 973.8 L1012.0 974.0 L1013.0 974.2 L1014.0 974.5 L1015.0 974.7 L1016.0 975.0 L1017.0 975.2 L1018.0 975.5 L1019.0 975.8 L1020.0 976.0 L1021.0 976.2 L1022.0 976.4 L1023.0 976.6 L1024.0 976.8 L1025.0 977.0 L1026.0 977.2 L1027.0 977.4 L1028.0 977.6 L1029.0 977.9 L1030.0 978.1 L1031.0 978.3 L1032.0 978.6 L1033.0 978.8 L1034.0 979.1 L1035.0 979.3 L1036.0 979.6 L1037.0 979.9 L1038.0 980.2 L1039.0 980.5 L1040.0 980.8 L1041.0 981.1 L1042.0 981.4 L1043.0 981.7 L1044.0 982.0 L1045.0 982.3 L1046.0 982.7 L1047.0 983.0 L1048.0 983.3 L1049.0 983.6 L1050.0 983.9 L1051.0 984.3 L1052.0 984.6 L1053.0 984.9 L1054.0 985.2 L1055.0 985.6 L1056.0 985.9 L1057.0 986.2 L1058.0 986.6 L1059.0 986.9 L1060.0 987.2 L1061.0 987.6 L1062.0 987.9 L1063.0 988.3 L1064.0 988.7 L1065.0 989.0 L1066.0 989.4 L1067.0 989.8 L1068.0 990.1 L1069.0 990.5 L1070.0 990.9 L1071.0 991.4 L1072.0 991.9 L1073.0 992.3 L1074.0 992.8 L1075.0 993.3 L1076.0 993.9 L1077.0 994.4 L1078.0 994.9 L1079.0 995.4 L1080.0 995.9 L1081.0 996.4 L1082.0 996.9 L1083.0 997.4 L1084.0 997.9 L1085.0 998.4 L1086.0 998.9 L1087.0 999.4 L1088.0 999.9 L1089.0 1000.4 L1090.0 1000.9 L1091.0 1001.4 L1092.0 1001.8 L1093.0 1002.3 L1094.0 1002.8 L1095.0 1003.3 L1096.0 1003.8 L1097.0 1004.3 L1098.0 1004.8 L1099.0 1005.2 L1100.0 1005.7 L1101.0 1006.2 L1102.0 1006.7 L1103.0 1007.2 L1104.0 1007.7 L1105.0 1008.2 L1106.0 1008.6 L1107.0 1009.1 L1108.0 1009.6 L1109.0 1010.1 L1110.0 1010.6 L1111.0 1011.1 L1112.0 1011.6 L1113.0 1012.1 L1114.0 1012.5 L1115.0 1013.0 L1116.0 1013.5 L1117.0 1014.0 L1118.0 1014.5 L1119.0 1015.0 L1120.0 1015.5 L1121.0 1016.0 L1122.0 1016.4 L1123.0 1016.9 L1124.0 1017.4 L1125.0 1017.9 L1126.0 1018.4 L1127.0 1018.9 L1128.0 1019.3 L1129.0 1019.8 L1130.0 1020.2 L1131.0 1020.6 L1132.0 1021.0 L1133.0 1021.4 L1134.0 1021.8 L1135.0 1022.2 L1136.0 1022.6 L1137.0 1023.0 L1138.0 1023.4 L1139.0 1023.7 L1140.0 1024.1 L1141.0 1024.5 L1142.0 1024.9 L1143.0 1025.2 L1144.0 1025.6 L1145.0 1025.9 L1146.0 1026.3 L1147.0 1026.6 L1148.0 1027.0 L1149.0 1027.3 L1150.0 1027.7 L1151.0 1028.0 L1152.0 1028.4 L1153.0 1028.8 L1154.0 1029.2 L1155.0 1029.6 L1156.0 1030.1 L1157.0 1030.7 L1158.0 1031.3 L1159.0 1031.8 L1160.0 1032.4 L1161.0 1033.0 L1162.0 1033.7 L1163.0 1034.4 L1164.0 1035.2 L1165.0 1036.0 L1166.0 1036.8 L1167.0 1037.5 L1168.0 1038.2 L1169.0 1039.0 L1170.0 1039.8 L1171.0 1040.4 L1172.0 1041.0 L1173.0 1041.5 L1174.0 1041.9 L1175.0 1042.2 L1176.0 1042.6 L1177.0 1042.9 L1178.0 1043.2 L1179.0 1043.5 L1180.0 1043.7 L1181.0 1044.0 L1182.0 1044.3 L1183.0 1044.6 L1184.0 1044.8 L1185.0 1045.1 L1186.0 1045.3 L1187.0 1045.6 L1188.0 1045.8 L1189.0 1046.0 L1190.0 1046.2 L1191.0 1046.4 L1192.0 1046.6 L1193.0 1046.8 L1194.0 1047.0 L1195.0 1047.2 L1196.0 1047.3 L1197.0 1047.5 L1198.0 1047.6 L1199.0 1047.8 L1200.0 1047.9 L1201.0 1048.1 L1202.0 1048.2 L1203.0 1048.4 L1204.0 1048.5 L1205.0 1048.7 L1206.0 1048.8 L1207.0 1049.0 L1208.0 1049.1 L1209.0 1049.3 L1210.0 1049.5 L1211.0 1049.7 L1212.0 1049.8 L1213.0 1050.0 L1214.0 1050.2 L1215.0 1050.3 L1216.0 1050.5 L1217.0 1050.7 L1218.0 1050.8 L1219.0 1051.0 L1220.0 1051.1 L1221.0 1051.3 L1222.0 1051.4 L1223.0 1051.5 L1224.0 1051.7 L1225.0 1051.8 L1226.0 1051.9 L1227.0 1052.0 L1228.0 1052.2 L1229.0 1052.3 L1230.0 1052.4 L1231.0 1052.5 L1232.0 1052.6 L1233.0 1052.7 L1234.0 1052.8 L1235.0 1052.9 L1236.0 1053.0 L1237.0 1053.1 L1238.0 1053.2 L1239.0 1053.3 L1240.0 1053.4 L1241.0 1053.5 L1242.0 1053.6 L1243.0 1053.7 L1244.0 1053.8 L1245.0 1053.9 L1246.0 1054.0 L1247.0 1054.0 L1248.0 1054.1 L1249.0 1054.1 L1250.0 1054.2 L1251.0 1054.2 L1252.0 1054.3 L1253.0 1054.3 L1254.0 1054.4 L1255.0 1054.4 L1256.0 1054.4 L1257.0 1054.4 L1258.0 1054.5 L1259.0 1054.5 L1260.0 1054.5 L1261.0 1054.6 L1262.0 1054.6 L1263.0 1054.6 L1264.0 1054.6 L1265.0 1054.7 L1266.0 1054.7 L1267.0 1054.7 L1268.0 1054.7 L1269.0 1054.8 L1270.0 1054.8 L1271.0 1054.8 L1272.0 1054.9 L1273.0 1054.9 L1274.0 1054.9 L1275.0 1055.0 L1276.0 1055.0 L1277.0 1055.0 L1278.0 1055.1 L1279.0 1055.1 L1280.0 1055.1 L1281.0 1055.2 L1282.0 1055.2 L1283.0 1055.2 L1284.0 1055.2 L1285.0 1055.3 L1286.0 1055.3 L1287.0 1055.3 L1288.0 1055.3 L1289.0 1055.3 L1290.0 1055.3 L1291.0 1055.3 L1292.0 1055.3 L1293.0 1055.1 L1294.0 1054.8 L1295.0 1054.4 L1296.0 1054.0 L1297.0 1053.6 L1298.0 1053.2 L1299.0 1052.8 L1300.0 1052.6 L1301.0 1052.5 L1302.0 1052.5 L1303.0 1052.6 L1304.0 1052.8 L1305.0 1053.0 L1306.0 1053.3 L1307.0 1053.7 L1308.0 1054.0 L1309.0 1054.3 L1310.0 1054.7 L1311.0 1054.9 L1312.0 1055.1 L1313.0 1055.3 L1314.0 1055.3 L1315.0 1055.3 L1316.0 1055.3 L1317.0 1055.3 L1318.0 1055.3 L1319.0 1055.3 L1320.0 1055.3 L1321.0 1055.3 L1322.0 1055.3 L1323.0 1055.3 L1324.0 1055.3 L1325.0 1055.3 L1326.0 1055.3 L1327.0 1055.4 L1328.0 1055.4 L1329.0 1055.4 L1330.0 1055.4 L1331.0 1055.4 L1332.0 1055.4 L1333.0 1055.4 L1334.0 1055.4 L1335.0 1055.4 L1336.0 1055.4 L1337.0 1055.4 L1338.0 1055.4 L1339.0 1055.4 L1340.0 1055.4 L1341.0 1055.4 L1342.0 1055.4 L1343.0 1055.4 L1344.0 1055.4 L1345.0 1055.4 L1346.0 1055.4 L1347.0 1055.4 L1348.0 1055.4 L1349.0 1055.4 L1350.0 1055.4 L1351.0 1055.4 L1352.0 1055.4 L1353.0 1055.4 L1354.0 1055.4 L1355.0 1055.4 L1356.0 1055.4 L1357.0 1055.4 L1358.0 1055.4 L1359.0 1055.4 L1360.0 1055.4 L1361.0 1055.4 L1362.0 1055.4 L1363.0 1055.4 L1364.0 1055.4 L1365.0 1055.4 L1366.0 1055.4 L1367.0 1055.4 L1368.0 1055.4 L1369.0 1055.4 L1370.0 1055.4 L1371.0 1055.4 L1372.0 1055.4 L1373.0 1055.4 L1374.0 1055.4 L1375.0 1055.4 L1376.0 1055.4 L1377.0 1055.4 L1378.0 1055.4 L1379.0 1055.4 L1380.0 1055.4 L1381.0 1055.4 L1382.0 1055.4 L1383.0 1055.4 L1384.0 1055.4 L1385.0 1055.4 L1386.0 1055.4 L1387.0 1055.4 L1388.0 1055.4 L1389.0 1055.4 L1390.0 1055.4 L1391.0 1055.4 L1392.0 1055.4 L1393.0 1055.4 L1394.0 1055.4 L1395.0 1055.4 L1396.0 1055.4 L1397.0 1055.4 L1398.0 1055.4 L1399.0 1055.4 L1400.0 1055.4 L1401.0 1055.4 L1402.0 1055.4 L1403.0 1055.4 L1404.0 1055.4 L1405.0 1055.4 L1406.0 1055.4 L1407.0 1055.4 L1408.0 1055.4 L1409.0 1055.4 L1410.0 1055.4 L1411.0 1055.4 L1412.0 1055.4 L1413.0 1055.4 L1414.0 1055.4 L1415.0 1055.4 L1416.0 1055.4 L1417.0 1055.4 L1418.0 1055.4 L1419.0 1055.4 L1420.0 1055.4 L1421.0 1055.4 L1422.0 1055.4 L1423.0 1055.4 L1424.0 1055.4 L1425.0 1055.4 L1426.0 1055.4 L1427.0 1055.4 L1428.0 1055.4 L1429.0 1055.4 L1430.0 1055.4 L1431.0 1055.4 L1432.0 1055.4 L1433.0 1055.4 L1434.0 1055.4 L1435.0 1055.4 L1436.0 1055.4 L1437.0 1055.4 L1438.0 1055.4 L1439.0 1055.4 L1440.0 1055.4 L1441.0 1055.4 L1442.0 1055.4 L1443.0 1055.4 L1444.0 1055.4 L1445.0 1055.4 L1446.0 1055.4 L1447.0 1055.4 L1448.0 1055.4 L1449.0 1055.4 L1450.0 1055.4 L1451.0 1055.4 L1452.0 1055.4 L1453.0 1055.4 L1454.0 1055.4 L1455.0 1055.4 L1456.0 1055.4 L1457.0 1055.4 L1458.0 1055.4 L1459.0 1055.4 L1460.0 1055.4 L1461.0 1055.4 L1462.0 1055.4 L1463.0 1055.4 L1464.0 1055.4 L1465.0 1055.4 L1466.0 1055.4 L1467.0 1055.4 L1468.0 1055.4 L1469.0 1055.4 L1470.0 1055.4 L1471.0 1055.4 L1472.0 1055.4 L1473.0 1055.4 L1474.0 1055.4 L1475.0 1055.4 L1476.0 1055.4 L1477.0 1055.4 L1478.0 1055.4 L1479.0 1055.4 L1480.0 1055.4 L1481.0 1055.4 L1482.0 1055.4 L1483.0 1055.4 L1484.0 1055.4 L1485.0 1055.4 L1486.0 1055.4 L1487.0 1055.4 L1488.0 1055.4 L1489.0 1055.4 L1490.0 1055.4 L1491.0 1055.4 L1492.0 1055.4 L1493.0 1055.4 L1494.0 1055.4 L1495.0 1055.4 L1496.0 1055.4 L1497.0 1055.4 L1498.0 1055.4 L1499.0 1055.4 L1500.0 1055.4 L1501.0 1055.4 L1502.0 1055.4 L1503.0 1055.4 L1504.0 1055.4 L1505.0 1055.4 L1506.0 1055.4 L1507.0 1055.4 L1508.0 1055.4 L1509.0 1055.4 L1510.0 1055.4 L1511.0 1055.4 L1512.0 1055.4 L1513.0 1055.4 L1514.0 1055.4 L1515.0 1055.4 L1516.0 1055.4 L1517.0 1055.4 L1518.0 1055.4 L1519.0 1055.4 L1520.0 1055.4 L1521.0 1055.4 L1522.0 1055.4 L1523.0 1055.4 L1524.0 1055.4 L1525.0 1055.4 L1526.0 1055.4 L1527.0 1055.4 L1528.0 1055.4 L1529.0 1055.4 L1530.0 1055.4 L1531.0 1055.4 L1532.0 1055.4 L1533.0 1055.4 L1534.0 1055.4 L1535.0 1055.4 L1536.0 1055.4 L1537.0 1055.4 L1538.0 1055.4 L1539.0 1055.4 L1540.0 1055.4 L1541.0 1055.4 L1542.0 1055.4 L1543.0 1055.4 L1544.0 1055.4 L1545.0 1055.4 L1546.0 1055.4"/>
<path class="c" stroke="#808000" d="M158.0 63.0 L159.0 62.5 L160.0 62.0 L161.0 61.5 L162.0 61.1 L163.0 60.6 L164.0 60.2 L165.0 59.8 L166.0 59.4 L167.0 59.0 L168.0 58.6 L169.0 58.2 L170.0 57.7 L171.0 57.3 L172.0 57.0 L173.0 56.7 L174.0 56.5 L175.0 56.5 L176.0 56.6 L177.0 56.8 L178.0 57.1 L179.0 57.5 L180.0 57.9 L181.0 58.4 L182.0 58.8 L183.0 59.2 L184.0 59.7 L185.0 60.2 L186.0 60.8 L187.0 61.4 L188.0 62.0 L189.0 62.5 L190.0 63.0 L191.0 63.5 L192.0 64.0 L193.0 64.5 L194.0 65.0 L195.0 65.5 L196.0 66.0 L197.0 66.6 L198.0 67.3 L199.0 67.9 L200.0 68.6 L201.0 69.2 L202.0 69.7 L203.0 70.0 L204.0 70.2 L205.0 70.3 L206.0 70.4 L207.0 70.5 L208.0 70.6 L209.0 70.7 L210.0 70.8 L211.0 71.0 L212.0 71.3 L213.0 71.9 L214.0 72.6 L215.0 73.5 L216.0 74.3 L217.0 75.2 L218.0 76.0 L219.0 76.8 L220.0 77.6 L221.0 78.4 L222.0 79.2 L223.0 80.0 L224.0 80.8 L225.0 81.7 L226.0 82.5 L227.0 83.2 L228.0 84.0 L229.0 84.7 L230.0 85.4 L231.0 86.1 L232.0 86.7 L233.0 87.3 L234.0 88.0 L235.0 88.6 L236.0 89.2 L237.0 89.9 L238.0 90.6 L239.0 91.3 L240.0 92.1 L241.0 93.0 L242.0 94.0 L243.0 95.0 L244.0 96.2 L245.0 97.4 L246.0 98.6 L247.0 99.9 L248.0 101.2 L249.0 102.5 L250.0 103.8 L251.0 105.0 L252.0 106.1 L253.0 107.2 L254.0 108.2 L255.0 109.2 L256.0 110.4 L257.0 111.6 L258.0 113.0 L259.0 114.7 L260.0 116.7 L261.0 118.8 L262.0 121.0 L263.0 123.1 L264.0 125.4 L265.0 127.6 L266.0 129.9 L267.0 132.2 L268.0 134.5 L269.0 136.7 L270.0 138.9 L271.0 141.1 L272.0 143.4 L273.0 145.8 L274.0 148.2 L275.0 150.8 L276.0 153.4 L277.0 156.2 L278.0 159.3 L279.0 162.9 L280.0 167.1 L281.0 171.9 L282.0 178.0 L283.0 185.5 L284.0 193.0 L285.0 201.0 L286.0 208.0 L287.0 213.5 L288.0 218.1 L289.0 222.4 L290.0 226.9 L291.0 232.0 L292.0 238.0 L293.0 244.5 L294.0 251.3 L295.0 258.0 L296.0 264.4 L297.0 270.8 L298.0 277.3 L299.0 284.0 L300.0 291.2 L301.0 298.7 L302.0 306.2 L303.0 313.8 L304.0 321.6 L305.0 329.3 L306.0 336.6 L307.0 343.2 L308.0 349.3 L309.0 355.0 L310.0 360.5 L311.0 366.0 L312.0 371.4 L313.0 376.6 L314.0 381.8 L315.0 386.9 L316.0 392.0 L317.0 397.1 L318.0 402.2 L319.0 407.2 L320.0 412.2 L321.0 417.0 L322.0 421.7 L323.0 426.4 L324.0 430.9 L325.0 435.4 L326.0 439.8 L327.0 444.2 L328.0 448.5 L329.0 452.7 L330.0 456.9 L331.0 461.0 L332.0 465.0 L333.0 468.8 L334.0 472.5 L335.0 476.0 L336.0 479.6 L337.0 483.2 L338.0 487.0 L339.0 491.0 L340.0 495.1 L341.0 499.4 L342.0 503.7 L343.0 508.1 L344.0 512.5 L345.0 516.8 L346.0 521.2 L347.0 525.6 L348.0 530.0 L349.0 534.4 L350.0 538.8 L351.0 543.2 L352.0 547.5 L353.0 551.8 L354.0 556.0 L355.0 560.2 L356.0 564.4 L357.0 568.6 L358.0 572.7 L359.0 576.8 L360.0 581.0 L361.0 585.1 L362.0 589.2 L363.0 593.3 L364.0 597.3 L365.0 601.2 L366.0 605.1 L367.0 609.1 L368.0 612.9 L369.0 616.7 L370.0 620.2 L371.0 623.5 L372.0 626.6 L373.0 629.4 L374.0 632.1 L375.0 634.8 L376.0 637.4 L377.0 640.2 L378.0 643.0 L379.0 645.7 L380.0 648.4 L381.0 650.9 L382.0 653.2 L383.0 655.2 L384.0 657.2 L385.0 659.2 L386.0 661.0 L387.0 662.7 L388.0 664.3 L389.0 665.6 L390.0 666.8 L391.0 667.8 L392.0 668.8 L393.0 669.7 L394.0 670.5 L395.0 671.3 L396.0 672.0 L397.0 672.6 L398.0 673.2 L399.0 673.8 L400.0 674.3 L401.0 674.7 L402.0 675.2 L403.0 675.6 L404.0 676.1 L405.0 676.5 L406.0 676.8 L407.0 677.2 L408.0 677.4 L409.0 677.6 L410.0 677.8 L411.0 677.8 L412.0 677.8 L413.0 677.8 L414.0 677.7 L415.0 677.6 L416.0 677.5 L417.0 677.5 L418.0 677.4 L419.0 677.2 L420.0 677.1 L421.0 677.0 L422.0 676.9 L423.0 676.8 L424.0 676.6 L425.0 676.4 L426.0 676.2 L427.0 676.0 L428.0 675.8 L429.0 675.6 L430.0 675.5 L431.0 675.3 L432.0 675.2 L433.0 675.0 L434.0 674.9 L435.0 674.8 L436.0 674.6 L437.0 674.5 L438.0 674.4 L439.0 674.3 L440.0 674.2 L441.0 674.1 L442.0 674.0 L443.0 673.9 L444.0 673.9 L445.0 673.8 L446.0 673.8 L447.0 673.7 L448.0 673.7 L449.0 673.6 L450.0 673.6 L451.0 673.5 L452.0 673.5 L453.0 673.5 L454.0 673.5 L455.0 673.5 L456.0 673.5 L457.0 673.6 L458.0 673.7 L459.0 673.7 L460.0 673.8 L461.0 673.9 L462.0 674.1 L463.0 674.2 L464.0 674.3 L465.0 674.4 L466.0 674.6 L467.0 674.8 L468.0 675.0 L469.0 675.3 L470.0 675.6 L471.0 676.0 L472.0 676.3 L473.0 676.7 L474.0 677.1 L475.0 677.5 L476.0 677.9 L477.0 678.3 L478.0 678.7 L479.0 679.1 L480.0 679.5 L481.0 679.9 L482.0 680.4 L483.0 680.8 L484.0 681.3 L485.0 681.8 L486.0 682.2 L487.0 682.7 L488.0 683.2 L489.0 683.7 L490.0 684.2 L491.0 684.7 L492.0 685.3 L493.0 685.8 L494.0 686.4 L495.0 686.9 L496.0 687.5 L497.0 688.1 L498.0 688.7 L499.0 689.2 L500.0 689.8 L501.0 690.4 L502.0 690.9 L503.0 691.5 L504.0 692.0 L505.0 692.5 L506.0 693.1 L507.0 693.6 L508.0 694.2 L509.0 694.7 L510.0 695.2 L511.0 695.8 L512.0 696.3 L513.0 696.9 L514.0 697.5 L515.0 698.0 L516.0 698.6 L517.0 699.1 L518.0 699.7 L519.0 700.3 L520.0 700.9 L521.0 701.5 L522.0 702.0 L523.0 702.6 L524.0 703.2 L525.0 703.8 L526.0 704.4 L527.0 705.0 L528.0 705.6 L529.0 706.2 L530.0 706.9 L531.0 707.5 L532.0 708.1 L533.0 708.8 L534.0 709.4 L535.0 710.1 L536.0 710.8 L537.0 711.4 L538.0 712.0 L539.0 712.7 L540.0 713.3 L541.0 713.9 L542.0 714.4 L543.0 715.0 L544.0 715.5 L545.0 716.0 L546.0 716.5 L547.0 716.9 L548.0 717.3 L549.0 717.7 L550.0 718.1 L551.0 718.5 L552.0 718.8 L553.0 719.2 L554.0 719.6 L555.0 720.0 L556.0 720.4 L557.0 720.8 L558.0 721.3 L559.0 721.8 L560.0 722.3 L561.0 722.9 L562.0 723.5 L563.0 724.0 L564.0 724.7 L565.0 725.3 L566.0 725.9 L567.0 726.5 L568.0 727.2 L569.0 727.8 L570.0 728.4 L571.0 729.0 L572.0 729.6 L573.0 730.2 L574.0 730.8 L575.0 731.4 L576.0 732.0 L577.0 732.6 L578.0 733.2 L579.0 733.8 L580.0 734.4 L581.0 735.0 L582.0 735.6 L583.0 736.3 L584.0 736.9 L585.0 737.5 L586.0 738.2 L587.0 738.8 L588.0 739.5 L589.0 740.1 L590.0 740.8 L591.0 741.5 L592.0 742.2 L593.0 742.9 L594.0 743.6 L595.0 744.4 L596.0 745.2 L597.0 746.0 L598.0 746.9 L599.0 747.8 L600.0 748.8 L601.0 749.8 L602.0 750.8 L603.0 751.9 L604.0 753.0 L605.0 754.1 L606.0 755.3 L607.0 756.4 L608.0 757.5 L609.0 758.6 L610.0 759.7 L611.0 760.9 L612.0 762.0 L613.0 763.2 L614.0 764.4 L615.0 765.6 L616.0 766.8 L617.0 768.0 L618.0 769.3 L619.0 770.5 L620.0 771.8 L621.0 773.0 L622.0 774.3 L623.0 775.6 L624.0 776.9 L625.0 778.2 L626.0 779.5 L627.0 780.8 L628.0 782.2 L629.0 783.5 L630.0 784.9 L631.0 786.3 L632.0 787.7 L633.0 789.2 L634.0 790.6 L635.0 792.1 L636.0 793.6 L637.0 795.1 L638.0 796.7 L639.0 798.2 L640.0 799.8 L641.0 801.3 L642.0 802.9 L643.0 804.5 L644.0 806.0 L645.0 807.6 L646.0 809.2 L647.0 810.8 L648.0 812.3 L649.0 814.0 L650.0 815.6 L651.0 817.2 L652.0 818.9 L653.0 820.5 L654.0 822.2 L655.0 823.9 L656.0 825.7 L657.0 827.4 L658.0 829.1 L659.0 830.9 L660.0 832.7 L661.0 834.5 L662.0 836.3 L663.0 838.1 L664.0 839.9 L665.0 841.8 L666.0 843.7 L667.0 845.6 L668.0 847.5 L669.0 849.4 L670.0 851.3 L671.0 853.2 L672.0 855.1 L673.0 857.0 L674.0 858.9 L675.0 860.8 L676.0 862.7 L677.0 864.5 L678.0 866.4 L679.0 868.3 L680.0 870.1 L681.0 872.0 L682.0 873.9 L683.0 875.8 L684.0 877.7 L685.0 879.6 L686.0 881.6 L687.0 883.5 L688.0 885.5 L689.0 887.4 L690.0 889.2 L691.0 890.8 L692.0 892.4 L693.0 894.0 L694.0 895.5 L695.0 896.9 L696.0 898.3 L697.0 899.7 L698.0 901.1 L699.0 902.5 L700.0 903.8 L701.0 905.2 L702.0 906.6 L703.0 908.1 L704.0 909.5 L705.0 911.0 L706.0 912.6 L707.0 914.1 L708.0 915.6 L709.0 917.2 L710.0 918.7 L711.0 920.2 L712.0 921.7 L713.0 923.1 L714.0 924.6 L715.0 926.1 L716.0 927.5 L717.0 928.9 L718.0 930.2 L719.0 931.5 L720.0 932.7 L721.0 933.9 L722.0 935.0 L723.0 936.1 L724.0 937.2 L725.0 938.3 L726.0 939.3 L727.0 940.3 L728.0 941.3 L729.0 942.3 L730.0 943.2 L731.0 944.1 L732.0 945.0 L733.0 945.9 L734.0 946.7 L735.0 947.5 L736.0 948.4 L737.0 949.2 L738.0 950.0 L739.0 950.7 L740.0 951.5 L741.0 952.2 L742.0 952.9 L743.0 953.6 L744.0 954.3 L745.0 955.0 L746.0 955.6 L747.0 956.2 L748.0 956.8 L749.0 957.3 L750.0 957.9 L751.0 958.4 L752.0 959.0 L753.0 959.5 L754.0 960.0 L755.0 960.5 L756.0 961.0 L757.0 961.5 L758.0 962.0 L759.0 962.4 L760.0 962.9 L761.0 963.3 L762.0 963.8 L763.0 964.2 L764.0 964.7 L765.0 965.1 L766.0 965.5 L767.0 965.9 L768.0 966.3 L769.0 966.7 L770.0 967.1 L771.0 967.5 L772.0 967.9 L773.0 968.2 L774.0 968.6 L775.0 969.0 L776.0 969.4 L777.0 969.8 L778.0 970.1 L779.0 970.5 L780.0 970.8 L781.0 971.2 L782.0 971.5 L783.0 971.8 L784.0 972.1 L785.0 972.4 L786.0 972.6 L787.0 972.9 L788.0 973.2 L789.0 973.5 L790.0 973.7 L791.0 974.0 L792.0 974.2 L793.0 974.5 L794.0 974.7 L795.0 974.9 L796.0 975.1 L797.0 975.3 L798.0 975.4 L799.0 975.6 L800.0 975.6 L801.0 975.7 L802.0 975.7 L803.0 975.7 L804.0 975.7 L805.0 975.6 L806.0 975.6 L807.0 975.5 L808.0 975.5 L809.0 975.5 L810.0 975.4 L811.0 975.4 L812.0 975.4 L813.0 975.3 L814.0 975.3 L815.0 975.2 L816.0 975.2 L817.0 975.1 L818.0 975.0 L819.0 974.9 L820.0 974.9 L821.0 974.8 L822.0 974.7 L823.0 974.6 L824.0 974.5 L825.0 974.4 L826.0 974.3 L827.0 974.2 L828.0 974.0 L829.0 973.9 L830.0 973.8 L831.0 973.6 L832.0 973.5 L833.0 973.3 L834.0 973.2 L835.0 973.0 L836.0 972.9 L837.0 972.7 L838.0 972.6 L839.0 972.4 L840.0 972.3 L841.0 972.1 L842.0 971.9 L843.0 971.8 L844.0 971.6 L845.0 971.5 L846.0 971.3 L847.0 971.1 L848.0 971.0 L849.0 970.8 L850.0 970.6 L851.0 970.5 L852.0 970.3 L853.0 970.1 L854.0 970.0 L855.0 969.8 L856.0 969.7 L857.0 969.5 L858.0 969.3 L859.0 969.2 L860.0 969.0 L861.0 968.9 L862.0 968.8 L863.0 968.6 L864.0 968.5 L865.0 968.4 L866.0 968.2 L867.0 968.1 L868.0 968.0 L869.0 967.9 L870.0 967.8 L871.0 967.7 L872.0 967.5 L873.0 967.4 L874.0 967.3 L875.0 967.1 L876.0 967.0 L877.0 966.8 L878.0 966.7 L879.0 966.5 L880.0 966.4 L881.0 966.2 L882.0 966.0 L883.0 965.8 L884.0 965.6 L885.0 965.4 L886.0 965.2 L887.0 965.0 L888.0 964.8 L889.0 964.6 L890.0 964.3 L891.0 964.1 L892.0 963.9 L893.0 963.7 L894.0 963.4 L895.0 963.2 L896.0 963.0 L897.0 962.8 L898.0 962.6 L899.0 962.4 L900.0 962.2 L901.0 962.0 L902.0 961.8 L903.0 961.6 L904.0 961.4 L905.0 961.2 L906.0 961.1 L907.0 960.9 L908.0 960.8 L909.0 960.6 L910.0 960.5 L911.0 960.3 L912.0 960.2 L913.0 960.0 L914.0 959.9 L915.0 959.7 L916.0 959.6 L917.0 959.4 L918.0 959.3 L919.0 959.2 L920.0 959.1 L921.0 958.9 L922.0 958.8 L923.0 958.7 L924.0 958.6 L925.0 958.5 L926.0 958.4 L927.0 958.4 L928.0 958.3 L929.0 958.2 L930.0 958.2 L931.0 958.1 L932.0 958.1 L933.0 958.0 L934.0 958.0 L935.0 957.9 L936.0 957.9 L937.0 957.8 L938.0 957.8 L939.0 957.7 L940.0 957.7 L941.0 957.7 L942.0 957.6 L943.0 957.6 L944.0 957.6 L945.0 957.5 L946.0 957.5 L947.0 957.5 L948.0 957.5 L949.0 957.5 L950.0 957.5 L951.0 957.5 L952.0 957.5 L953.0 957.6 L954.0 957.6 L955.0 957.6 L956.0 957.6 L957.0 957.7 L958.0 957.7 L959.0 957.8 L960.0 957.8 L961.0 957.8 L962.0 957.9 L963.0 957.9 L964.0 958.0 L965.0 958.0 L966.0 958.1 L967.0 958.2 L968.0 958.2 L969.0 958.3 L970.0 958.4 L971.0 958.4 L972.0 958.5 L973.0 958.6 L974.0 958.7 L975.0 958.7 L976.0 958.8 L977.0 958.9 L978.0 959.0 L979.0 959.1 L980.0 959.1 L981.0 959.2 L982.0 959.3 L983.0 959.4 L984.0 959.5 L985.0 959.7 L986.0 959.8 L987.0 959.9 L988.0 960.1 L989.0 960.2 L990.0 960.4 L991.0 960.5 L992.0 960.7 L993.0 960.9 L994.0 961.0 L995.0 961.2 L996.0 961.4 L997.0 961.6 L998.0 961.8 L999.0 962.0 L1000.0 962.2 L1001.0 962.4 L1002.0 962.6 L1003.0 962.8 L1004.0 963.0 L1005.0 963.2 L1006.0 963.4 L1007.0 963.6 L1008.0 963.8 L1009.0 964.1 L1010.0 964.3 L1011.0 964.5 L1012.0 964.8 L1013.0 965.0 L1014.0 965.3 L1015.0 965.5 L1016.0 965.8 L1017.0 966.1 L1018.0 966.3 L1019.0 966.6 L1020.0 966.9 L1021.0 967.1 L1022.0 967.4 L1023.0 967.6 L1024.0 967.9 L1025.0 968.1 L1026.0 968.4 L1027.0 968.7 L1028.0 968.9 L1029.0 969.2 L1030.0 969.5 L1031.0 969.8 L1032.0 970.1 L1033.0 970.4 L1034.0 970.7 L1035.0 971.0 L1036.0 971.4 L1037.0 971.7 L1038.0 972.1 L1039.0 972.4 L1040.0 972.8 L1041.0 973.2 L1042.0 973.6 L1043.0 973.9 L1044.0 974.3 L1045.0 974.7 L1046.0 975.1 L1047.0 975.5 L1048.0 975.9 L1049.0 976.3 L1050.0 976.7 L1051.0 977.0 L1052.0 977.4 L1053.0 977.8 L1054.0 978.2 L1055.0 978.6 L1056.0 979.0 L1057.0 979.4 L1058.0 979.8 L1059.0 980.2 L1060.0 980.6 L1061.0 981.1 L1062.0 981.5 L1063.0 981.9 L1064.0 982.3 L1065.0 982.8 L1066.0 983.2 L1067.0 983.6 L1068.0 984.1 L1069.0 984.5 L1070.0 985.0 L1071.0 985.5 L1072.0 986.0 L1073.0 986.6 L1074.0 987.1 L1075.0 987.6 L1076.0 988.2 L1077.0 988.7 L1078.0 989.3 L1079.0 989.8 L1080.0 990.4 L1081.0 990.9 L1082.0 991.5 L1083.0 992.0 L1084.0 992.6 L1085.0 993.1 L1086.0 993.6 L1087.0 994.2 L1088.0 994.7 L1089.0 995.2 L1090.0 995.8 L1091.0 996.3 L1092.0 996.8 L1093.0 997.3 L1094.0 997.9 L1095.0 998.4 L1096.0 998.9 L1097.0 999.4 L1098.0 1000.0 L1099.0 1000.5 L1100.0 1001.0 L1101.0 1001.5 L1102.0 1002.1 L1103.0 1002.6 L1104.0 1003.1 L1105.0 1003.7 L1106.0 1004.2 L1107.0 1004.7 L1108.0 1005.2 L1109.0 1005.8 L1110.0 1006.3 L1111.0 1006.8 L1112.0 1007.4 L1113.0 1007.9 L1114.0 1008.4 L1115.0 1009.0 L1116.0 1009.5 L1117.0 1010.0 L1118.0 1010.6 L1119.0 1011.1 L1120.0 1011.6 L1121.0 1012.2 L1122.0 1012.7 L1123.0 1013.3 L1124.0 1013.8 L1125.0 1014.3 L1126.0 1014.9 L1127.0 1015.4 L1128.0 1015.9 L1129.0 1016.4 L1130.0 1016.8 L1131.0 1017.3 L1132.0 1017.7 L1133.0 1018.2 L1134.0 1018.6 L1135.0 1019.1 L1136.0 1019.5 L1137.0 1019.9 L1138.0 1020.3 L1139.0 1020.7 L1140.0 1021.2 L1141.0 1021.6 L1142.0 1022.0 L1143.0 1022.4 L1144.0 1022.8 L1145.0 1023.2 L1146.0 1023.6 L1147.0 1023.9 L1148.0 1024.3 L1149.0 1024.7 L1150.0 1025.1 L1151.0 1025.5 L1152.0 1025.9 L1153.0 1026.3 L1154.0 1026.7 L1155.0 1027.2 L1156.0 1027.7 L1157.0 1028.2 L1158.0 1028.7 L1159.0 1029.3 L1160.0 1029.9 L1161.0 1030.5 L1162.0 1031.2 L1163.0 1032.0 L1164.0 1032.8 L1165.0 1033.7 L1166.0 1034.5 L1167.0 1035.3 L1168.0 1036.1 L1169.0 1037.0 L1170.0 1037.8 L1171.0 1038.5 L1172.0 1039.2 L1173.0 1039.7 L1174.0 1040.1 L1175.0 1040.5 L1176.0 1040.9 L1177.0 1041.2 L1178.0 1041.5 L1179.0 1041.8 L1180.0 1042.1 L1181.0 1042.5 L1182.0 1042.8 L1183.0 1043.0 L1184.0 1043.3 L1185.0 1043.6 L1186.0 1043.9 L1187.0 1044.1 L1188.0 1044.4 L1189.0 1044.6 L1190.0 1044.9 L1191.0 1045.1 L1192.0 1045.3 L1193.0 1045.5 L1194.0 1045.7 L1195.0 1045.9 L1196.0 1046.1 L1197.0 1046.3 L1198.0 1046.4 L1199.0 1046.6 L1200.0 1046.8 L1201.0 1046.9 L1202.0 1047.1 L1203.0 1047.3 L1204.0 1047.4 L1205.0 1047.6 L1206.0 1047.8 L1207.0 1048.0 L1208.0 1048.1 L1209.0 1048.3 L1210.0 1048.5 L1211.0 1048.7 L1212.0 1048.9 L1213.0 1049.1 L1214.0 1049.3 L1215.0 1049.5 L1216.0 1049.7 L1217.0 1049.9 L1218.0 1050.0 L1219.0 1050.2 L1220.0 1050.4 L1221.0 1050.5 L1222.0 1050.7 L1223.0 1050.8 L1224.0 1051.0 L1225.0 1051.1 L1226.0 1051.3 L1227.0 1051.4 L1228.0 1051.6 L1229.0 1051.7 L1230.0 1051.8 L1231.0 1052.0 L1232.0 1052.1 L1233.0 1052.2 L1234.0 1052.3 L1235.0 1052.4 L1236.0 1052.6 L1237.0 1052.7 L1238.0 1052.8 L1239.0 1052.9 L1240.0 1053.0 L1241.0 1053.1 L1242.0 1053.2 L1243.0 1053.3 L1244.0 1053.4 L1245.0 1053.5 L1246.0 1053.6 L1247.0 1053.7 L1248.0 1053.7 L1249.0 1053.8 L1250.0 1053.9 L1251.0 1053.9 L1252.0 1054.0 L1253.0 1054.0 L1254.0 1054.0 L1255.0 1054.1 L1256.0 1054.1 L1257.0 1054.2 L1258.0 1054.2 L1259.0 1054.2 L1260.0 1054.2 L1261.0 1054.3 L1262.0 1054.3 L1263.0 1054.3 L1264.0 1054.4 L1265.0 1054.4 L1266.0 1054.4 L1267.0 1054.5 L1268.0 1054.5 L1269.0 1054.5 L1270.0 1054.5 L1271.0 1054.6 L1272.0 1054.6 L1273.0 1054.7 L1274.0 1054.7 L1275.0 1054.7 L1276.0 1054.8 L1277.0 1054.8 L1278.0 1054.8 L1279.0 1054.9 L1280.0 1054.9 L1281.0 1055.0 L1282.0 1055.0 L1283.0 1055.0 L1284.0 1055.1 L1285.0 1055.1 L1286.0 1055.1 L1287.0 1055.1 L1288.0 1055.1 L1289.0 1055.2 L1290.0 1055.2 L1291.0 1055.1 L1292.0 1055.1 L1293.0 1054.9 L1294.0 1054.6 L1295.0 1054.2 L1296.0 1053.8 L1297.0 1053.4 L1298.0 1053.0 L1299.0 1052.6 L1300.0 1052.4 L1301.0 1052.3 L1302.0 1052.3 L1303.0 1052.4 L1304.0 1052.6 L1305.0 1052.8 L1306.0 1053.1 L1307.0 1053.5 L1308.0 1053.8 L1309.0 1054.1 L1310.0 1054.5 L1311.0 1054.7 L1312.0 1055.0 L1313.0 1055.1 L1314.0 1055.2 L1315.0 1055.2 L1316.0 1055.2 L1317.0 1055.2 L1318.0 1055.2 L1319.0 1055.2 L1320.0 1055.2 L1321.0 1055.2 L1322.0 1055.2 L1323.0 1055.2 L1324.0 1055.2 L1325.0 1055.2 L1326.0 1055.2 L1327.0 1055.2 L1328.0 1055.2 L1329.0 1055.2 L1330.0 1055.2 L1331.0 1055.2 L1332.0 1055.2 L1333.0 1055.2 L1334.0 1055.2 L1335.0 1055.2 L1336.0 1055.2 L1337.0 1055.2 L1338.0 1055.2 L1339.0 1055.2 L1340.0 1055.2 L1341.0 1055.2 L1342.0 1055.2 L1343.0 1055.2 L1344.0 1055.2 L1345.0 1055.2 L1346.0 1055.2 L1347.0 1055.2 L1348.0 1055.2 L1349.0 1055.2 L1350.0 1055.2 L1351.0 1055.2 L1352.0 1055.2 L1353.0 1055.2 L1354.0 1055.2 L1355.0 1055.2 L1356.0 1055.2 L1357.0 1055.2 L1358.0 1055.2 L1359.0 1055.2 L1360.0 1055.2 L1361.0 1055.2 L1362.0 1055.2 L1363.0 1055.2 L1364.0 1055.2 L1365.0 1055.2 L1366.0 1055.2 L1367.0 1055.2 L1368.0 1055.2 L1369.0 1055.2 L1370.0 1055.2 L1371.0 1055.2 L1372.0 1055.2 L1373.0 1055.2 L1374.0 1055.2 L1375.0 1055.2 L1376.0 1055.2 L1377.0 1055.2 L1378.0 1055.2 L1379.0 1055.2 L1380.0 1055.2 L1381.0 1055.2 L1382.0 1055.2 L1383.0 1055.2 L1384.0 1055.2 L1385.0 1055.2 L1386.0 1055.2 L1387.0 1055.2 L1388.0 1055.2 L1389.0 1055.2 L1390.0 1055.2 L1391.0 1055.2 L1392.0 1055.2 L1393.0 1055.2 L1394.0 1055.2 L1395.0 1055.2 L1396.0 1055.2 L1397.0 1055.2 L1398.0 1055.2 L1399.0 1055.2 L1400.0 1055.2 L1401.0 1055.2 L1402.0 1055.2 L1403.0 1055.2 L1404.0 1055.2 L1405.0 1055.2 L1406.0 1055.2 L1407.0 1055.2 L1408.0 1055.2 L1409.0 1055.2 L1410.0 1055.2 L1411.0 1055.2 L1412.0 1055.2 L1413.0 1055.2 L1414.0 1055.2 L1415.0 1055.2 L1416.0 1055.2 L1417.0 1055.2 L1418.0 1055.2 L1419.0 1055.2 L1420.0 1055.2 L1421.0 1055.2 L1422.0 1055.2 L1423.0 1055.2 L1424.0 1055.2 L1425.0 1055.2 L1426.0 1055.2 L1427.0 1055.2 L1428.0 1055.2 L1429.0 1055.2 L1430.0 1055.2 L1431.0 1055.2 L1432.0 1055.2 L1433.0 1055.2 L1434.0 1055.2 L1435.0 1055.2 L1436.0 1055.2 L1437.0 1055.2 L1438.0 1055.2 L1439.0 1055.2 L1440.0 1055.2 L1441.0 1055.2 L1442.0 1055.2 L1443.0 1055.2 L1444.0 1055.2 L1445.0 1055.2 L1446.0 1055.2 L1447.0 1055.2 L1448.0 1055.2 L1449.0 1055.2 L1450.0 1055.2 L1451.0 1055.2 L1452.0 1055.2 L1453.0 1055.2 L1454.0 1055.2 L1455.0 1055.2 L1456.0 1055.2 L1457.0 1055.2 L1458.0 1055.2 L1459.0 1055.2 L1460.0 1055.2 L1461.0 1055.2 L1462.0 1055.2 L1463.0 1055.2 L1464.0 1055.2 L1465.0 1055.2 L1466.0 1055.2 L1467.0 1055.2 L1468.0 1055.2 L1469.0 1055.2 L1470.0 1055.2 L1471.0 1055.2 L1472.0 1055.2 L1473.0 1055.2 L1474.0 1055.2 L1475.0 1055.2 L1476.0 1055.2 L1477.0 1055.2 L1478.0 1055.2 L1479.0 1055.2 L1480.0 1055.2 L1481.0 1055.2 L1482.0 1055.2 L1483.0 1055.2 L1484.0 1055.2 L1485.0 1055.2 L1486.0 1055.2 L1487.0 1055.2 L1488.0 1055.2 L1489.0 1055.2 L1490.0 1055.2 L1491.0 1055.2 L1492.0 1055.2 L1493.0 1055.2 L1494.0 1055.2 L1495.0 1055.2 L1496.0 1055.2 L1497.0 1055.2 L1498.0 1055.2 L1499.0 1055.2 L1500.0 1055.2 L1501.0 1055.2 L1502.0 1055.2 L1503.0 1055.2 L1504.0 1055.2 L1505.0 1055.2 L1506.0 1055.2 L1507.0 1055.2 L1508.0 1055.2 L1509.0 1055.2 L1510.0 1055.2 L1511.0 1055.2 L1512.0 1055.2 L1513.0 1055.2 L1514.0 1055.2 L1515.0 1055.2 L1516.0 1055.2 L1517.0 1055.2 L1518.0 1055.2 L1519.0 1055.2 L1520.0 1055.2 L1521.0 1055.2 L1522.0 1055.2 L1523.0 1055.2 L1524.0 1055.2 L1525.0 1055.2 L1526.0 1055.2 L1527.0 1055.2 L1528.0 1055.2 L1529.0 1055.2 L1530.0 1055.2 L1531.0 1055.2 L1532.0 1055.2 L1533.0 1055.2 L1534.0 1055.2 L1535.0 1055.2 L1536.0 1055.2 L1537.0 1055.2 L1538.0 1055.2 L1539.0 1055.2 L1540.0 1055.2 L1541.0 1055.2 L1542.0 1055.2 L1543.0 1055.2 L1544.0 1055.2 L1545.0 1055.2 L1546.0 1055.2"/>
<path class="c" stroke="#2e64a6" d="M158.0 71.6 L159.0 71.6 L160.0 71.6 L161.0 71.5 L162.0 71.5 L163.0 71.4 L164.0 71.3 L165.0 71.2 L166.0 71.1 L167.0 71.0 L168.0 70.8 L169.0 70.4 L170.0 70.0 L171.0 69.5 L172.0 69.0 L173.0 68.6 L174.0 68.4 L175.0 68.3 L176.0 68.4 L177.0 68.7 L178.0 69.1 L179.0 69.5 L180.0 69.9 L181.0 70.3 L182.0 70.6 L183.0 70.8 L184.0 70.9 L185.0 70.9 L186.0 70.8 L187.0 70.8 L188.0 70.7 L189.0 70.6 L190.0 70.5 L191.0 70.4 L192.0 70.4 L193.0 70.3 L194.0 70.3 L195.0 70.3 L196.0 70.4 L197.0 70.4 L198.0 70.6 L199.0 70.7 L200.0 70.8 L201.0 71.0 L202.0 71.2 L203.0 71.3 L204.0 71.5 L205.0 71.7 L206.0 71.9 L207.0 72.2 L208.0 72.5 L209.0 72.8 L210.0 73.2 L211.0 73.5 L212.0 73.9 L213.0 74.2 L214.0 74.5 L215.0 74.8 L216.0 75.1 L217.0 75.3 L218.0 75.6 L219.0 75.8 L220.0 76.0 L221.0 76.2 L222.0 76.5 L223.0 76.7 L224.0 76.9 L225.0 77.2 L226.0 77.4 L227.0 77.7 L228.0 78.0 L229.0 78.3 L230.0 78.6 L231.0 79.0 L232.0 79.3 L233.0 79.7 L234.0 80.1 L235.0 80.5 L236.0 81.0 L237.0 81.4 L238.0 81.9 L239.0 82.3 L240.0 82.8 L241.0 83.4 L242.0 83.9 L243.0 84.5 L244.0 85.1 L245.0 85.8 L246.0 86.4 L247.0 87.1 L248.0 87.9 L249.0 88.6 L250.0 89.4 L251.0 90.3 L252.0 91.2 L253.0 92.2 L254.0 93.2 L255.0 94.3 L256.0 95.4 L257.0 96.6 L258.0 97.9 L259.0 99.2 L260.0 100.7 L261.0 102.2 L262.0 103.7 L263.0 105.3 L264.0 106.9 L265.0 108.6 L266.0 110.4 L267.0 112.2 L268.0 114.0 L269.0 115.9 L270.0 117.7 L271.0 119.7 L272.0 121.7 L273.0 123.9 L274.0 126.3 L275.0 128.8 L276.0 131.6 L277.0 134.7 L278.0 138.0 L279.0 141.8 L280.0 146.1 L281.0 150.7 L282.0 155.4 L283.0 160.3 L284.0 165.5 L285.0 171.0 L286.0 176.9 L287.0 183.2 L288.0 190.0 L289.0 197.9 L290.0 206.0 L291.0 213.1 L292.0 219.9 L293.0 226.6 L294.0 233.4 L295.0 240.5 L296.0 247.6 L297.0 254.6 L298.0 261.3 L299.0 267.7 L300.0 274.1 L301.0 280.6 L302.0 287.5 L303.0 294.9 L304.0 302.5 L305.0 310.0 L306.0 317.7 L307.0 325.5 L308.0 333.0 L309.0 340.0 L310.0 346.3 L311.0 352.2 L312.0 357.8 L313.0 363.3 L314.0 368.7 L315.0 373.9 L316.0 379.1 L317.0 384.2 L318.0 389.3 L319.0 394.7 L320.0 400.3 L321.0 406.0 L322.0 411.6 L323.0 417.0 L324.0 422.2 L325.0 427.2 L326.0 432.1 L327.0 437.0 L328.0 442.0 L329.0 446.9 L330.0 451.7 L331.0 456.7 L332.0 462.1 L333.0 468.3 L334.0 476.0 L335.0 483.7 L336.0 490.2 L337.0 495.9 L338.0 501.2 L339.0 506.2 L340.0 511.1 L341.0 515.8 L342.0 520.6 L343.0 525.5 L344.0 530.5 L345.0 535.5 L346.0 540.5 L347.0 545.5 L348.0 550.4 L349.0 555.4 L350.0 560.4 L351.0 565.4 L352.0 570.4 L353.0 575.4 L354.0 580.4 L355.0 585.4 L356.0 590.4 L357.0 595.4 L358.0 600.4 L359.0 605.4 L360.0 610.4 L361.0 615.4 L362.0 620.5 L363.0 625.8 L364.0 631.1 L365.0 635.9 L366.0 640.0 L367.0 643.2 L368.0 646.0 L369.0 648.8 L370.0 652.0 L371.0 655.5 L372.0 659.1 L373.0 662.8 L374.0 666.3 L375.0 669.6 L376.0 672.9 L377.0 676.0 L378.0 679.1 L379.0 682.1 L380.0 684.9 L381.0 687.5 L382.0 690.0 L383.0 692.4 L384.0 694.8 L385.0 697.1 L386.0 699.2 L387.0 701.2 L388.0 703.1 L389.0 704.7 L390.0 706.3 L391.0 707.8 L392.0 709.2 L393.0 710.5 L394.0 711.8 L395.0 713.0 L396.0 714.1 L397.0 715.1 L398.0 716.0 L399.0 716.9 L400.0 717.7 L401.0 718.5 L402.0 719.3 L403.0 720.0 L404.0 720.7 L405.0 721.3 L406.0 721.8 L407.0 722.2 L408.0 722.5 L409.0 722.7 L410.0 722.9 L411.0 723.1 L412.0 723.3 L413.0 723.5 L414.0 723.6 L415.0 723.7 L416.0 723.8 L417.0 723.9 L418.0 723.9 L419.0 723.9 L420.0 723.8 L421.0 723.7 L422.0 723.5 L423.0 723.2 L424.0 722.9 L425.0 722.6 L426.0 722.2 L427.0 721.8 L428.0 721.5 L429.0 721.1 L430.0 720.7 L431.0 720.4 L432.0 720.0 L433.0 719.7 L434.0 719.3 L435.0 718.9 L436.0 718.5 L437.0 718.1 L438.0 717.7 L439.0 717.3 L440.0 716.8 L441.0 716.4 L442.0 716.0 L443.0 715.7 L444.0 715.3 L445.0 714.9 L446.0 714.5 L447.0 714.1 L448.0 713.8 L449.0 713.4 L450.0 713.0 L451.0 712.7 L452.0 712.3 L453.0 712.0 L454.0 711.6 L455.0 711.3 L456.0 711.0 L457.0 710.7 L458.0 710.4 L459.0 710.1 L460.0 709.8 L461.0 709.5 L462.0 709.3 L463.0 709.0 L464.0 708.7 L465.0 708.5 L466.0 708.3 L467.0 708.1 L468.0 707.9 L469.0 707.7 L470.0 707.6 L471.0 707.5 L472.0 707.4 L473.0 707.4 L474.0 707.3 L475.0 707.2 L476.0 707.1 L477.0 707.1 L478.0 707.0 L479.0 707.0 L480.0 706.9 L481.0 706.9 L482.0 706.8 L483.0 706.8 L484.0 706.7 L485.0 706.7 L486.0 706.6 L487.0 706.6 L488.0 706.6 L489.0 706.5 L490.0 706.5 L491.0 706.5 L492.0 706.4 L493.0 706.4 L494.0 706.4 L495.0 706.4 L496.0 706.4 L497.0 706.4 L498.0 706.4 L499.0 706.5 L500.0 706.5 L501.0 706.5 L502.0 706.5 L503.0 706.6 L504.0 706.6 L505.0 706.7 L506.0 706.7 L507.0 706.8 L508.0 706.8 L509.0 706.8 L510.0 706.9 L511.0 706.9 L512.0 706.9 L513.0 707.0 L514.0 707.0 L515.0 707.0 L516.0 707.1 L517.0 707.1 L518.0 707.2 L519.0 707.2 L520.0 707.3 L521.0 707.4 L522.0 707.4 L523.0 707.5 L524.0 707.6 L525.0 707.7 L526.0 707.9 L527.0 708.0 L528.0 708.1 L529.0 708.2 L530.0 708.4 L531.0 708.5 L532.0 708.7 L533.0 708.8 L534.0 709.0 L535.0 709.1 L536.0 709.3 L537.0 709.4 L538.0 709.5 L539.0 709.7 L540.0 709.8 L541.0 710.0 L542.0 710.1 L543.0 710.2 L544.0 710.4 L545.0 710.5 L546.0 710.7 L547.0 710.8 L548.0 711.0 L549.0 711.2 L550.0 711.3 L551.0 711.5 L552.0 711.7 L553.0 711.9 L554.0 712.1 L555.0 712.3 L556.0 712.6 L557.0 712.8 L558.0 713.0 L559.0 713.3 L560.0 713.5 L561.0 713.8 L562.0 714.1 L563.0 714.4 L564.0 714.7 L565.0 715.0 L566.0 715.3 L567.0 715.7 L568.0 716.0 L569.0 716.4 L570.0 716.8 L571.0 717.2 L572.0 717.6 L573.0 718.1 L574.0 718.5 L575.0 718.9 L576.0 719.4 L577.0 719.8 L578.0 720.3 L579.0 720.7 L580.0 721.2 L581.0 721.7 L582.0 722.1 L583.0 722.6 L584.0 723.1 L585.0 723.6 L586.0 724.2 L587.0 724.7 L588.0 725.2 L589.0 725.7 L590.0 726.3 L591.0 726.8 L592.0 727.4 L593.0 727.9 L594.0 728.5 L595.0 729.0 L596.0 729.6 L597.0 730.2 L598.0 730.8 L599.0 731.4 L600.0 732.0 L601.0 732.7 L602.0 733.3 L603.0 734.0 L604.0 734.7 L605.0 735.5 L606.0 736.2 L607.0 737.0 L608.0 737.8 L609.0 738.7 L610.0 739.6 L611.0 740.5 L612.0 741.5 L613.0 742.5 L614.0 743.7 L615.0 745.0 L616.0 746.3 L617.0 747.7 L618.0 749.1 L619.0 750.6 L620.0 752.1 L621.0 753.5 L622.0 755.0 L623.0 756.6 L624.0 758.2 L625.0 759.8 L626.0 761.5 L627.0 763.3 L628.0 765.1 L629.0 767.0 L630.0 769.1 L631.0 771.1 L632.0 773.2 L633.0 775.4 L634.0 777.6 L635.0 779.9 L636.0 782.3 L637.0 784.7 L638.0 787.2 L639.0 789.6 L640.0 792.0 L641.0 794.3 L642.0 796.4 L643.0 798.4 L644.0 800.4 L645.0 802.2 L646.0 804.1 L647.0 805.9 L648.0 807.6 L649.0 809.4 L650.0 811.2 L651.0 813.0 L652.0 814.8 L653.0 816.8 L654.0 818.7 L655.0 820.7 L656.0 822.7 L657.0 824.7 L658.0 826.7 L659.0 828.7 L660.0 830.7 L661.0 832.8 L662.0 834.8 L663.0 836.8 L664.0 838.8 L665.0 840.9 L666.0 842.9 L667.0 844.9 L668.0 847.0 L669.0 849.0 L670.0 851.0 L671.0 853.0 L672.0 855.0 L673.0 857.0 L674.0 859.0 L675.0 860.9 L676.0 862.8 L677.0 864.7 L678.0 866.5 L679.0 868.4 L680.0 870.3 L681.0 872.1 L682.0 874.0 L683.0 875.9 L684.0 877.8 L685.0 879.7 L686.0 881.6 L687.0 883.6 L688.0 885.5 L689.0 887.4 L690.0 889.2 L691.0 890.8 L692.0 892.4 L693.0 894.0 L694.0 895.5 L695.0 896.9 L696.0 898.3 L697.0 899.7 L698.0 901.1 L699.0 902.5 L700.0 903.9 L701.0 905.3 L702.0 906.7 L703.0 908.2 L704.0 909.7 L705.0 911.3 L706.0 912.9 L707.0 914.5 L708.0 916.1 L709.0 917.7 L710.0 919.3 L711.0 920.9 L712.0 922.4 L713.0 923.9 L714.0 925.5 L715.0 927.0 L716.0 928.5 L717.0 929.9 L718.0 931.3 L719.0 932.6 L720.0 933.9 L721.0 935.1 L722.0 936.2 L723.0 937.4 L724.0 938.5 L725.0 939.6 L726.0 940.6 L727.0 941.7 L728.0 942.7 L729.0 943.7 L730.0 944.6 L731.0 945.5 L732.0 946.4 L733.0 947.3 L734.0 948.2 L735.0 949.0 L736.0 949.9 L737.0 950.7 L738.0 951.5 L739.0 952.3 L740.0 953.0 L741.0 953.8 L742.0 954.5 L743.0 955.2 L744.0 955.8 L745.0 956.5 L746.0 957.1 L747.0 957.7 L748.0 958.3 L749.0 958.9 L750.0 959.4 L751.0 960.0 L752.0 960.5 L753.0 961.0 L754.0 961.6 L755.0 962.1 L756.0 962.5 L757.0 963.0 L758.0 963.5 L759.0 963.9 L760.0 964.4 L761.0 964.8 L762.0 965.3 L763.0 965.7 L764.0 966.1 L765.0 966.5 L766.0 966.9 L767.0 967.3 L768.0 967.7 L769.0 968.1 L770.0 968.4 L771.0 968.8 L772.0 969.2 L773.0 969.5 L774.0 969.9 L775.0 970.2 L776.0 970.6 L777.0 970.9 L778.0 971.3 L779.0 971.6 L780.0 971.9 L781.0 972.2 L782.0 972.5 L783.0 972.8 L784.0 973.0 L785.0 973.3 L786.0 973.5 L787.0 973.7 L788.0 973.9 L789.0 974.2 L790.0 974.4 L791.0 974.6 L792.0 974.8 L793.0 974.9 L794.0 975.1 L795.0 975.3 L796.0 975.4 L797.0 975.5 L798.0 975.6 L799.0 975.6 L800.0 975.6 L801.0 975.6 L802.0 975.5 L803.0 975.4 L804.0 975.3 L805.0 975.2 L806.0 975.1 L807.0 974.9 L808.0 974.8 L809.0 974.7 L810.0 974.6 L811.0 974.4 L812.0 974.3 L813.0 974.2 L814.0 974.1 L815.0 973.9 L816.0 973.8 L817.0 973.6 L818.0 973.5 L819.0 973.3 L820.0 973.2 L821.0 973.0 L822.0 972.8 L823.0 972.6 L824.0 972.4 L825.0 972.3 L826.0 972.1 L827.0 971.9 L828.0 971.7 L829.0 971.4 L830.0 971.2 L831.0 971.0 L832.0 970.8 L833.0 970.5 L834.0 970.3 L835.0 970.1 L836.0 969.8 L837.0 969.6 L838.0 969.3 L839.0 969.1 L840.0 968.8 L841.0 968.6 L842.0 968.4 L843.0 968.1 L844.0 967.9 L845.0 967.6 L846.0 967.4 L847.0 967.1 L848.0 966.9 L849.0 966.6 L850.0 966.4 L851.0 966.1 L852.0 965.9 L853.0 965.6 L854.0 965.4 L855.0 965.2 L856.0 964.9 L857.0 964.7 L858.0 964.4 L859.0 964.2 L860.0 964.0 L861.0 963.7 L862.0 963.5 L863.0 963.3 L864.0 963.1 L865.0 962.9 L866.0 962.7 L867.0 962.5 L868.0 962.3 L869.0 962.1 L870.0 961.9 L871.0 961.7 L872.0 961.5 L873.0 961.4 L874.0 961.2 L875.0 961.0 L876.0 960.8 L877.0 960.6 L878.0 960.4 L879.0 960.1 L880.0 959.9 L881.0 959.7 L882.0 959.4 L883.0 959.2 L884.0 958.9 L885.0 958.7 L886.0 958.4 L887.0 958.1 L888.0 957.8 L889.0 957.5 L890.0 957.3 L891.0 957.0 L892.0 956.7 L893.0 956.4 L894.0 956.1 L895.0 955.8 L896.0 955.5 L897.0 955.2 L898.0 955.0 L899.0 954.7 L900.0 954.4 L901.0 954.2 L902.0 953.9 L903.0 953.7 L904.0 953.5 L905.0 953.2 L906.0 953.0 L907.0 952.8 L908.0 952.6 L909.0 952.4 L910.0 952.2 L911.0 952.0 L912.0 951.8 L913.0 951.6 L914.0 951.4 L915.0 951.2 L916.0 951.0 L917.0 950.8 L918.0 950.6 L919.0 950.4 L920.0 950.2 L921.0 950.1 L922.0 949.9 L923.0 949.8 L924.0 949.6 L925.0 949.5 L926.0 949.3 L927.0 949.2 L928.0 949.1 L929.0 949.0 L930.0 948.9 L931.0 948.8 L932.0 948.7 L933.0 948.6 L934.0 948.5 L935.0 948.4 L936.0 948.3 L937.0 948.3 L938.0 948.2 L939.0 948.1 L940.0 948.0 L941.0 947.9 L942.0 947.9 L943.0 947.8 L944.0 947.7 L945.0 947.7 L946.0 947.6 L947.0 947.6 L948.0 947.5 L949.0 947.5 L950.0 947.5 L951.0 947.4 L952.0 947.4 L953.0 947.4 L954.0 947.4 L955.0 947.4 L956.0 947.5 L957.0 947.5 L958.0 947.5 L959.0 947.6 L960.0 947.6 L961.0 947.7 L962.0 947.7 L963.0 947.8 L964.0 947.8 L965.0 947.9 L966.0 947.9 L967.0 948.0 L968.0 948.1 L969.0 948.2 L970.0 948.2 L971.0 948.3 L972.0 948.4 L973.0 948.5 L974.0 948.5 L975.0 948.6 L976.0 948.7 L977.0 948.8 L978.0 948.9 L979.0 949.0 L980.0 949.1 L981.0 949.2 L982.0 949.3 L983.0 949.4 L984.0 949.5 L985.0 949.7 L986.0 949.8 L987.0 950.0 L988.0 950.1 L989.0 950.3 L990.0 950.5 L991.0 950.6 L992.0 950.8 L993.0 951.0 L994.0 951.2 L995.0 951.4 L996.0 951.7 L997.0 951.9 L998.0 952.1 L999.0 952.3 L1000.0 952.5 L1001.0 952.8 L1002.0 953.0 L1003.0 953.2 L1004.0 953.5 L1005.0 953.7 L1006.0 953.9 L1007.0 954.2 L1008.0 954.4 L1009.0 954.7 L1010.0 954.9 L1011.0 955.2 L1012.0 955.5 L1013.0 955.8 L1014.0 956.0 L1015.0 956.3 L1016.0 956.6 L1017.0 957.0 L1018.0 957.3 L1019.0 957.6 L1020.0 957.9 L1021.0 958.2 L1022.0 958.5 L1023.0 958.8 L1024.0 959.1 L1025.0 959.4 L1026.0 959.7 L1027.0 960.1 L1028.0 960.4 L1029.0 960.7 L1030.0 961.0 L1031.0 961.4 L1032.0 961.7 L1033.0 962.1 L1034.0 962.5 L1035.0 962.9 L1036.0 963.3 L1037.0 963.7 L1038.0 964.1 L1039.0 964.6 L1040.0 965.0 L1041.0 965.4 L1042.0 965.9 L1043.0 966.3 L1044.0 966.8 L1045.0 967.2 L1046.0 967.7 L1047.0 968.1 L1048.0 968.6 L1049.0 969.1 L1050.0 969.5 L1051.0 970.0 L1052.0 970.4 L1053.0 970.9 L1054.0 971.3 L1055.0 971.8 L1056.0 972.3 L1057.0 972.7 L1058.0 973.2 L1059.0 973.7 L1060.0 974.2 L1061.0 974.7 L1062.0 975.2 L1063.0 975.6 L1064.0 976.1 L1065.0 976.6 L1066.0 977.2 L1067.0 977.7 L1068.0 978.2 L1069.0 978.7 L1070.0 979.2 L1071.0 979.8 L1072.0 980.3 L1073.0 980.9 L1074.0 981.4 L1075.0 982.0 L1076.0 982.6 L1077.0 983.2 L1078.0 983.8 L1079.0 984.3 L1080.0 984.9 L1081.0 985.5 L1082.0 986.1 L1083.0 986.7 L1084.0 987.3 L1085.0 987.8 L1086.0 988.4 L1087.0 989.0 L1088.0 989.5 L1089.0 990.1 L1090.0 990.7 L1091.0 991.2 L1092.0 991.8 L1093.0 992.3 L1094.0 992.9 L1095.0 993.5 L1096.0 994.0 L1097.0 994.6 L1098.0 995.2 L1099.0 995.7 L1100.0 996.3 L1101.0 996.8 L1102.0 997.4 L1103.0 998.0 L1104.0 998.5 L1105.0 999.1 L1106.0 999.7 L1107.0 1000.3 L1108.0 1000.8 L1109.0 1001.4 L1110.0 1002.0 L1111.0 1002.5 L1112.0 1003.1 L1113.0 1003.7 L1114.0 1004.3 L1115.0 1004.8 L1116.0 1005.4 L1117.0 1006.0 L1118.0 1006.5 L1119.0 1007.1 L1120.0 1007.7 L1121.0 1008.3 L1122.0 1008.9 L1123.0 1009.5 L1124.0 1010.1 L1125.0 1010.7 L1126.0 1011.3 L1127.0 1011.9 L1128.0 1012.4 L1129.0 1012.9 L1130.0 1013.4 L1131.0 1013.9 L1132.0 1014.4 L1133.0 1014.9 L1134.0 1015.4 L1135.0 1015.9 L1136.0 1016.3 L1137.0 1016.8 L1138.0 1017.3 L1139.0 1017.7 L1140.0 1018.2 L1141.0 1018.6 L1142.0 1019.1 L1143.0 1019.5 L1144.0 1020.0 L1145.0 1020.4 L1146.0 1020.8 L1147.0 1021.3 L1148.0 1021.7 L1149.0 1022.1 L1150.0 1022.5 L1151.0 1022.9 L1152.0 1023.4 L1153.0 1023.8 L1154.0 1024.3 L1155.0 1024.7 L1156.0 1025.2 L1157.0 1025.7 L1158.0 1026.2 L1159.0 1026.8 L1160.0 1027.3 L1161.0 1028.0 L1162.0 1028.7 L1163.0 1029.6 L1164.0 1030.5 L1165.0 1031.4 L1166.0 1032.3 L1167.0 1033.2 L1168.0 1034.0 L1169.0 1035.0 L1170.0 1035.9 L1171.0 1036.6 L1172.0 1037.3 L1173.0 1037.9 L1174.0 1038.3 L1175.0 1038.8 L1176.0 1039.2 L1177.0 1039.5 L1178.0 1039.9 L1179.0 1040.2 L1180.0 1040.6 L1181.0 1040.9 L1182.0 1041.2 L1183.0 1041.5 L1184.0 1041.8 L1185.0 1042.1 L1186.0 1042.4 L1187.0 1042.7 L1188.0 1043.0 L1189.0 1043.3 L1190.0 1043.5 L1191.0 1043.8 L1192.0 1044.0 L1193.0 1044.2 L1194.0 1044.5 L1195.0 1044.7 L1196.0 1044.9 L1197.0 1045.1 L1198.0 1045.3 L1199.0 1045.5 L1200.0 1045.6 L1201.0 1045.8 L1202.0 1046.0 L1203.0 1046.2 L1204.0 1046.4 L1205.0 1046.5 L1206.0 1046.7 L1207.0 1046.9 L1208.0 1047.1 L1209.0 1047.4 L1210.0 1047.6 L1211.0 1047.8 L1212.0 1048.0 L1213.0 1048.2 L1214.0 1048.5 L1215.0 1048.7 L1216.0 1048.9 L1217.0 1049.1 L1218.0 1049.3 L1219.0 1049.5 L1220.0 1049.6 L1221.0 1049.8 L1222.0 1050.0 L1223.0 1050.2 L1224.0 1050.3 L1225.0 1050.5 L1226.0 1050.7 L1227.0 1050.8 L1228.0 1051.0 L1229.0 1051.1 L1230.0 1051.3 L1231.0 1051.4 L1232.0 1051.5 L1233.0 1051.7 L1234.0 1051.8 L1235.0 1051.9 L1236.0 1052.1 L1237.0 1052.2 L1238.0 1052.3 L1239.0 1052.5 L1240.0 1052.6 L1241.0 1052.7 L1242.0 1052.8 L1243.0 1052.9 L1244.0 1053.0 L1245.0 1053.1 L1246.0 1053.2 L1247.0 1053.3 L1248.0 1053.4 L1249.0 1053.5 L1250.0 1053.5 L1251.0 1053.6 L1252.0 1053.6 L1253.0 1053.7 L1254.0 1053.7 L1255.0 1053.8 L1256.0 1053.8 L1257.0 1053.9 L1258.0 1053.9 L1259.0 1053.9 L1260.0 1054.0 L1261.0 1054.0 L1262.0 1054.0 L1263.0 1054.1 L1264.0 1054.1 L1265.0 1054.1 L1266.0 1054.2 L1267.0 1054.2 L1268.0 1054.2 L1269.0 1054.3 L1270.0 1054.3 L1271.0 1054.3 L1272.0 1054.4 L1273.0 1054.4 L1274.0 1054.5 L1275.0 1054.5 L1276.0 1054.5 L1277.0 1054.6 L1278.0 1054.6 L1279.0 1054.7 L1280.0 1054.7 L1281.0 1054.8 L1282.0 1054.8 L1283.0 1054.8 L1284.0 1054.9 L1285.0 1054.9 L1286.0 1054.9 L1287.0 1054.9 L1288.0 1055.0 L1289.0 1055.0 L1290.0 1055.0 L1291.0 1055.0 L1292.0 1054.9 L1293.0 1054.7 L1294.0 1054.4 L1295.0 1054.0 L1296.0 1053.6 L1297.0 1053.2 L1298.0 1052.8 L1299.0 1052.4 L1300.0 1052.2 L1301.0 1052.1 L1302.0 1052.0 L1303.0 1052.1 L1304.0 1052.3 L1305.0 1052.6 L1306.0 1052.9 L1307.0 1053.3 L1308.0 1053.6 L1309.0 1054.0 L1310.0 1054.3 L1311.0 1054.6 L1312.0 1054.8 L1313.0 1054.9 L1314.0 1055.0 L1315.0 1055.0 L1316.0 1055.0 L1317.0 1055.0 L1318.0 1055.0 L1319.0 1055.0 L1320.0 1055.0 L1321.0 1055.0 L1322.0 1055.0 L1323.0 1055.0 L1324.0 1055.0 L1325.0 1055.0 L1326.0 1055.0 L1327.0 1055.0 L1328.0 1055.0 L1329.0 1055.0 L1330.0 1055.0 L1331.0 1055.0 L1332.0 1055.0 L1333.0 1055.0 L1334.0 1055.0 L1335.0 1055.0 L1336.0 1055.0 L1337.0 1055.0 L1338.0 1055.0 L1339.0 1055.0 L1340.0 1055.0 L1341.0 1055.0 L1342.0 1055.0 L1343.0 1055.0 L1344.0 1055.0 L1345.0 1055.0 L1346.0 1055.0 L1347.0 1055.0 L1348.0 1055.0 L1349.0 1055.0 L1350.0 1055.0 L1351.0 1055.0 L1352.0 1055.0 L1353.0 1055.0 L1354.0 1055.0 L1355.0 1055.0 L1356.0 1055.0 L1357.0 1055.0 L1358.0 1055.0 L1359.0 1055.0 L1360.0 1055.0 L1361.0 1055.0 L1362.0 1055.0 L1363.0 1055.0 L1364.0 1055.0 L1365.0 1055.0 L1366.0 1055.0 L1367.0 1055.0 L1368.0 1055.0 L1369.0 1055.0 L1370.0 1055.0 L1371.0 1055.0 L1372.0 1055.0 L1373.0 1055.0 L1374.0 1055.0 L1375.0 1055.0 L1376.0 1055.0 L1377.0 1055.0 L1378.0 1055.0 L1379.0 1055.0 L1380.0 1055.0 L1381.0 1055.0 L1382.0 1055.0 L1383.0 1055.0 L1384.0 1055.0 L1385.0 1055.0 L1386.0 1055.0 L1387.0 1055.0 L1388.0 1055.0 L1389.0 1055.0 L1390.0 1055.0 L1391.0 1055.0 L1392.0 1055.0 L1393.0 1055.0 L1394.0 1055.0 L1395.0 1055.0 L1396.0 1055.0 L1397.0 1055.0 L1398.0 1055.0 L1399.0 1055.0 L1400.0 1055.0 L1401.0 1055.0 L1402.0 1055.0 L1403.0 1055.0 L1404.0 1055.0 L1405.0 1055.0 L1406.0 1055.0 L1407.0 1055.0 L1408.0 1055.0 L1409.0 1055.0 L1410.0 1055.0 L1411.0 1055.0 L1412.0 1055.0 L1413.0 1055.0 L1414.0 1055.0 L1415.0 1055.1 L1416.0 1055.1 L1417.0 1055.1 L1418.0 1055.1 L1419.0 1055.1 L1420.0 1055.1 L1421.0 1055.1 L1422.0 1055.1 L1423.0 1055.1 L1424.0 1055.1 L1425.0 1055.1 L1426.0 1055.1 L1427.0 1055.1 L1428.0 1055.1 L1429.0 1055.1 L1430.0 1055.1 L1431.0 1055.1 L1432.0 1055.1 L1433.0 1055.1 L1434.0 1055.1 L1435.0 1055.1 L1436.0 1055.1 L1437.0 1055.1 L1438.0 1055.1 L1439.0 1055.1 L1440.0 1055.1 L1441.0 1055.1 L1442.0 1055.1 L1443.0 1055.1 L1444.0 1055.1 L1445.0 1055.1 L1446.0 1055.1 L1447.0 1055.1 L1448.0 1055.1 L1449.0 1055.1 L1450.0 1055.1 L1451.0 1055.1 L1452.0 1055.1 L1453.0 1055.1 L1454.0 1055.1 L1455.0 1055.1 L1456.0 1055.1 L1457.0 1055.1 L1458.0 1055.1 L1459.0 1055.1 L1460.0 1055.1 L1461.0 1055.1 L1462.0 1055.1 L1463.0 1055.1 L1464.0 1055.1 L1465.0 1055.1 L1466.0 1055.1 L1467.0 1055.1 L1468.0 1055.1 L1469.0 1055.1 L1470.0 1055.1 L1471.0 1055.1 L1472.0 1055.1 L1473.0 1055.1 L1474.0 1055.1 L1475.0 1055.1 L1476.0 1055.1 L1477.0 1055.1 L1478.0 1055.1 L1479.0 1055.1 L1480.0 1055.1 L1481.0 1055.1 L1482.0 1055.1 L1483.0 1055.1 L1484.0 1055.1 L1485.0 1055.1 L1486.0 1055.1 L1487.0 1055.1 L1488.0 1055.1 L1489.0 1055.1 L1490.0 1055.1 L1491.0 1055.1 L1492.0 1055.1 L1493.0 1055.1 L1494.0 1055.1 L1495.0 1055.1 L1496.0 1055.1 L1497.0 1055.1 L1498.0 1055.1 L1499.0 1055.1 L1500.0 1055.1 L1501.0 1055.1 L1502.0 1055.1 L1503.0 1055.1 L1504.0 1055.1 L1505.0 1055.1 L1506.0 1055.1 L1507.0 1055.1 L1508.0 1055.1 L1509.0 1055.1 L1510.0 1055.1 L1511.0 1055.1 L1512.0 1055.1 L1513.0 1055.1 L1514.0 1055.1 L1515.0 1055.1 L1516.0 1055.1 L1517.0 1055.1 L1518.0 1055.1 L1519.0 1055.1 L1520.0 1055.1 L1521.0 1055.1 L1522.0 1055.1 L1523.0 1055.1 L1524.0 1055.1 L1525.0 1055.1 L1526.0 1055.1 L1527.0 1055.1 L1528.0 1055.1 L1529.0 1055.1 L1530.0 1055.1 L1531.0 1055.1 L1532.0 1055.1 L1533.0 1055.1 L1534.0 1055.1 L1535.0 1055.1 L1536.0 1055.1 L1537.0 1055.1 L1538.0 1055.1 L1539.0 1055.1 L1540.0 1055.1 L1541.0 1055.1 L1542.0 1055.1 L1543.0 1055.1 L1544.0 1055.1 L1545.0 1055.1 L1546.0 1055.1"/>
<path class="c" stroke="#1f9696" d="M158.0 80.0 L159.0 79.9 L160.0 79.8 L161.0 79.7 L162.0 79.7 L163.0 79.6 L164.0 79.5 L165.0 79.4 L166.0 79.3 L167.0 79.3 L168.0 79.2 L169.0 79.1 L170.0 79.1 L171.0 79.0 L172.0 78.9 L173.0 78.9 L174.0 78.8 L175.0 78.8 L176.0 78.7 L177.0 78.6 L178.0 78.6 L179.0 78.5 L180.0 78.5 L181.0 78.4 L182.0 78.4 L183.0 78.3 L184.0 78.3 L185.0 78.2 L186.0 78.2 L187.0 78.1 L188.0 78.1 L189.0 78.1 L190.0 78.0 L191.0 78.0 L192.0 78.0 L193.0 78.0 L194.0 78.0 L195.0 78.0 L196.0 78.0 L197.0 78.1 L198.0 78.1 L199.0 78.1 L200.0 78.2 L201.0 78.2 L202.0 78.3 L203.0 78.4 L204.0 78.6 L205.0 78.8 L206.0 79.2 L207.0 79.5 L208.0 79.9 L209.0 80.4 L210.0 80.8 L211.0 81.3 L212.0 81.8 L213.0 82.3 L214.0 82.8 L215.0 83.2 L216.0 83.6 L217.0 84.1 L218.0 84.6 L219.0 85.0 L220.0 85.5 L221.0 86.0 L222.0 86.5 L223.0 87.0 L224.0 87.6 L225.0 88.1 L226.0 88.6 L227.0 89.2 L228.0 89.7 L229.0 90.3 L230.0 90.8 L231.0 91.4 L232.0 92.0 L233.0 92.6 L234.0 93.2 L235.0 93.8 L236.0 94.4 L237.0 95.0 L238.0 95.7 L239.0 96.3 L240.0 96.9 L241.0 97.5 L242.0 98.1 L243.0 98.7 L244.0 99.2 L245.0 99.8 L246.0 100.3 L247.0 100.9 L248.0 101.5 L249.0 102.0 L250.0 102.6 L251.0 103.3 L252.0 103.9 L253.0 104.6 L254.0 105.4 L255.0 106.2 L256.0 107.0 L257.0 107.9 L258.0 108.8 L259.0 109.8 L260.0 110.8 L261.0 111.9 L262.0 113.0 L263.0 114.1 L264.0 115.3 L265.0 116.6 L266.0 117.9 L267.0 119.3 L268.0 120.8 L269.0 122.4 L270.0 124.0 L271.0 125.7 L272.0 127.4 L273.0 129.1 L274.0 130.9 L275.0 132.7 L276.0 134.6 L277.0 136.7 L278.0 138.9 L279.0 141.5 L280.0 144.5 L281.0 147.9 L282.0 151.5 L283.0 155.3 L284.0 159.1 L285.0 163.2 L286.0 167.9 L287.0 173.5 L288.0 180.2 L289.0 188.0 L290.0 198.2 L291.0 207.5 L292.0 214.4 L293.0 220.3 L294.0 225.9 L295.0 232.0 L296.0 238.7 L297.0 245.6 L298.0 252.5 L299.0 259.3 L300.0 265.9 L301.0 272.4 L302.0 279.1 L303.0 286.2 L304.0 294.1 L305.0 302.3 L306.0 310.0 L307.0 317.0 L308.0 323.6 L309.0 330.1 L310.0 336.7 L311.0 343.4 L312.0 350.1 L313.0 356.9 L314.0 363.6 L315.0 370.3 L316.0 377.0 L317.0 383.6 L318.0 390.2 L319.0 397.0 L320.0 403.9 L321.0 411.0 L322.0 418.1 L323.0 425.0 L324.0 431.7 L325.0 438.2 L326.0 444.7 L327.0 451.3 L328.0 457.8 L329.0 464.5 L330.0 471.8 L331.0 480.1 L332.0 487.8 L333.0 494.2 L334.0 500.1 L335.0 505.7 L336.0 511.0 L337.0 516.3 L338.0 521.7 L339.0 527.0 L340.0 532.1 L341.0 537.3 L342.0 542.4 L343.0 547.6 L344.0 552.8 L345.0 557.9 L346.0 563.1 L347.0 568.3 L348.0 573.5 L349.0 578.6 L350.0 583.7 L351.0 588.9 L352.0 594.2 L353.0 599.7 L354.0 605.3 L355.0 611.2 L356.0 617.0 L357.0 623.0 L358.0 629.1 L359.0 635.2 L360.0 641.3 L361.0 647.2 L362.0 652.9 L363.0 658.7 L364.0 664.2 L365.0 669.5 L366.0 674.4 L367.0 679.1 L368.0 683.6 L369.0 687.9 L370.0 692.1 L371.0 696.3 L372.0 700.5 L373.0 704.8 L374.0 709.0 L375.0 713.3 L376.0 717.4 L377.0 721.4 L378.0 725.1 L379.0 728.6 L380.0 731.9 L381.0 735.2 L382.0 738.3 L383.0 741.3 L384.0 744.2 L385.0 746.9 L386.0 749.4 L387.0 751.8 L388.0 754.1 L389.0 756.4 L390.0 758.5 L391.0 760.5 L392.0 762.4 L393.0 764.0 L394.0 765.5 L395.0 766.8 L396.0 768.1 L397.0 769.3 L398.0 770.5 L399.0 771.5 L400.0 772.5 L401.0 773.4 L402.0 774.3 L403.0 775.0 L404.0 775.6 L405.0 776.1 L406.0 776.6 L407.0 777.1 L408.0 777.6 L409.0 778.0 L410.0 778.4 L411.0 778.7 L412.0 778.9 L413.0 779.0 L414.0 779.0 L415.0 778.9 L416.0 778.8 L417.0 778.7 L418.0 778.5 L419.0 778.3 L420.0 778.1 L421.0 777.8 L422.0 777.5 L423.0 777.2 L424.0 777.0 L425.0 776.7 L426.0 776.3 L427.0 775.9 L428.0 775.4 L429.0 774.9 L430.0 774.4 L431.0 773.9 L432.0 773.3 L433.0 772.7 L434.0 772.1 L435.0 771.5 L436.0 770.9 L437.0 770.3 L438.0 769.7 L439.0 769.1 L440.0 768.4 L441.0 767.7 L442.0 767.0 L443.0 766.3 L444.0 765.6 L445.0 764.9 L446.0 764.1 L447.0 763.4 L448.0 762.7 L449.0 761.9 L450.0 761.3 L451.0 760.6 L452.0 759.9 L453.0 759.2 L454.0 758.5 L455.0 757.8 L456.0 757.1 L457.0 756.4 L458.0 755.7 L459.0 755.0 L460.0 754.3 L461.0 753.6 L462.0 752.9 L463.0 752.2 L464.0 751.5 L465.0 750.9 L466.0 750.2 L467.0 749.5 L468.0 748.8 L469.0 748.1 L470.0 747.4 L471.0 746.7 L472.0 746.0 L473.0 745.3 L474.0 744.6 L475.0 744.0 L476.0 743.3 L477.0 742.6 L478.0 741.9 L479.0 741.2 L480.0 740.5 L481.0 739.8 L482.0 739.1 L483.0 738.4 L484.0 737.8 L485.0 737.1 L486.0 736.4 L487.0 735.7 L488.0 735.1 L489.0 734.4 L490.0 733.7 L491.0 733.1 L492.0 732.4 L493.0 731.7 L494.0 731.0 L495.0 730.4 L496.0 729.7 L497.0 729.0 L498.0 728.4 L499.0 727.7 L500.0 727.1 L501.0 726.4 L502.0 725.8 L503.0 725.1 L504.0 724.5 L505.0 723.9 L506.0 723.3 L507.0 722.6 L508.0 722.0 L509.0 721.4 L510.0 720.9 L511.0 720.3 L512.0 719.7 L513.0 719.2 L514.0 718.6 L515.0 718.1 L516.0 717.5 L517.0 717.0 L518.0 716.4 L519.0 715.9 L520.0 715.3 L521.0 714.8 L522.0 714.2 L523.0 713.7 L524.0 713.1 L525.0 712.5 L526.0 711.9 L527.0 711.3 L528.0 710.7 L529.0 710.1 L530.0 709.5 L531.0 709.0 L532.0 708.5 L533.0 708.0 L534.0 707.6 L535.0 707.1 L536.0 706.7 L537.0 706.2 L538.0 705.8 L539.0 705.4 L540.0 705.0 L541.0 704.7 L542.0 704.4 L543.0 704.1 L544.0 703.9 L545.0 703.7 L546.0 703.5 L547.0 703.4 L548.0 703.2 L549.0 703.1 L550.0 703.0 L551.0 702.9 L552.0 702.7 L553.0 702.6 L554.0 702.6 L555.0 702.5 L556.0 702.4 L557.0 702.4 L558.0 702.4 L559.0 702.4 L560.0 702.4 L561.0 702.5 L562.0 702.5 L563.0 702.6 L564.0 702.7 L565.0 702.8 L566.0 702.9 L567.0 703.1 L568.0 703.2 L569.0 703.3 L570.0 703.5 L571.0 703.6 L572.0 703.8 L573.0 704.0 L574.0 704.2 L575.0 704.4 L576.0 704.7 L577.0 705.0 L578.0 705.4 L579.0 705.7 L580.0 706.1 L581.0 706.4 L582.0 706.8 L583.0 707.2 L584.0 707.6 L585.0 708.0 L586.0 708.5 L587.0 708.9 L588.0 709.4 L589.0 710.0 L590.0 710.5 L591.0 711.1 L592.0 711.7 L593.0 712.3 L594.0 712.9 L595.0 713.5 L596.0 714.2 L597.0 714.8 L598.0 715.4 L599.0 716.1 L600.0 716.8 L601.0 717.4 L602.0 718.1 L603.0 718.8 L604.0 719.6 L605.0 720.4 L606.0 721.2 L607.0 722.1 L608.0 723.0 L609.0 724.0 L610.0 725.0 L611.0 726.2 L612.0 727.5 L613.0 729.1 L614.0 730.7 L615.0 732.4 L616.0 734.1 L617.0 735.8 L618.0 737.4 L619.0 739.0 L620.0 740.6 L621.0 742.3 L622.0 743.9 L623.0 745.6 L624.0 747.3 L625.0 749.0 L626.0 750.8 L627.0 752.6 L628.0 754.4 L629.0 756.2 L630.0 758.1 L631.0 759.9 L632.0 761.8 L633.0 763.6 L634.0 765.5 L635.0 767.3 L636.0 769.1 L637.0 770.9 L638.0 772.8 L639.0 774.6 L640.0 776.5 L641.0 778.4 L642.0 780.4 L643.0 782.3 L644.0 784.4 L645.0 786.4 L646.0 788.4 L647.0 790.5 L648.0 792.6 L649.0 794.6 L650.0 796.6 L651.0 798.6 L652.0 800.6 L653.0 802.6 L654.0 804.5 L655.0 806.5 L656.0 808.5 L657.0 810.4 L658.0 812.4 L659.0 814.4 L660.0 816.4 L661.0 818.4 L662.0 820.4 L663.0 822.4 L664.0 824.4 L665.0 826.4 L666.0 828.5 L667.0 830.5 L668.0 832.5 L669.0 834.6 L670.0 836.7 L671.0 838.7 L672.0 840.8 L673.0 842.9 L674.0 845.0 L675.0 847.2 L676.0 849.3 L677.0 851.4 L678.0 853.6 L679.0 855.7 L680.0 857.9 L681.0 860.0 L682.0 862.2 L683.0 864.3 L684.0 866.5 L685.0 868.6 L686.0 870.8 L687.0 873.0 L688.0 875.2 L689.0 877.3 L690.0 879.5 L691.0 881.5 L692.0 883.6 L693.0 885.7 L694.0 887.8 L695.0 890.1 L696.0 892.4 L697.0 894.8 L698.0 897.6 L699.0 900.5 L700.0 903.0 L701.0 905.0 L702.0 906.9 L703.0 908.6 L704.0 910.3 L705.0 912.1 L706.0 913.9 L707.0 915.7 L708.0 917.5 L709.0 919.3 L710.0 921.1 L711.0 922.8 L712.0 924.5 L713.0 926.2 L714.0 927.9 L715.0 929.5 L716.0 931.2 L717.0 932.8 L718.0 934.3 L719.0 935.7 L720.0 937.1 L721.0 938.4 L722.0 939.6 L723.0 940.9 L724.0 942.1 L725.0 943.2 L726.0 944.4 L727.0 945.5 L728.0 946.5 L729.0 947.6 L730.0 948.6 L731.0 949.6 L732.0 950.5 L733.0 951.4 L734.0 952.3 L735.0 953.2 L736.0 954.1 L737.0 954.9 L738.0 955.7 L739.0 956.5 L740.0 957.3 L741.0 958.0 L742.0 958.7 L743.0 959.4 L744.0 960.1 L745.0 960.7 L746.0 961.3 L747.0 961.9 L748.0 962.4 L749.0 962.9 L750.0 963.5 L751.0 963.9 L752.0 964.4 L753.0 964.9 L754.0 965.3 L755.0 965.8 L756.0 966.2 L757.0 966.6 L758.0 967.0 L759.0 967.4 L760.0 967.8 L761.0 968.1 L762.0 968.5 L763.0 968.9 L764.0 969.2 L765.0 969.5 L766.0 969.9 L767.0 970.2 L768.0 970.5 L769.0 970.8 L770.0 971.1 L771.0 971.4 L772.0 971.7 L773.0 972.0 L774.0 972.2 L775.0 972.5 L776.0 972.8 L777.0 973.1 L778.0 973.4 L779.0 973.6 L780.0 973.9 L781.0 974.1 L782.0 974.3 L783.0 974.5 L784.0 974.7 L785.0 974.8 L786.0 974.9 L787.0 975.0 L788.0 975.2 L789.0 975.3 L790.0 975.4 L791.0 975.5 L792.0 975.6 L793.0 975.6 L794.0 975.7 L795.0 975.8 L796.0 975.8 L797.0 975.8 L798.0 975.8 L799.0 975.7 L800.0 975.6 L801.0 975.4 L802.0 975.2 L803.0 975.0 L804.0 974.8 L805.0 974.6 L806.0 974.3 L807.0 974.1 L808.0 973.8 L809.0 973.6 L810.0 973.4 L811.0 973.2 L812.0 972.9 L813.0 972.7 L814.0 972.5 L815.0 972.2 L816.0 972.0 L817.0 971.8 L818.0 971.5 L819.0 971.2 L820.0 971.0 L821.0 970.7 L822.0 970.5 L823.0 970.2 L824.0 969.9 L825.0 969.6 L826.0 969.4 L827.0 969.1 L828.0 968.8 L829.0 968.5 L830.0 968.2 L831.0 967.9 L832.0 967.6 L833.0 967.2 L834.0 966.9 L835.0 966.6 L836.0 966.3 L837.0 966.0 L838.0 965.7 L839.0 965.3 L840.0 965.0 L841.0 964.7 L842.0 964.4 L843.0 964.1 L844.0 963.8 L845.0 963.5 L846.0 963.2 L847.0 962.8 L848.0 962.5 L849.0 962.2 L850.0 961.9 L851.0 961.6 L852.0 961.3 L853.0 961.0 L854.0 960.7 L855.0 960.4 L856.0 960.1 L857.0 959.8 L858.0 959.5 L859.0 959.2 L860.0 958.9 L861.0 958.6 L862.0 958.3 L863.0 958.1 L864.0 957.8 L865.0 957.6 L866.0 957.3 L867.0 957.1 L868.0 956.8 L869.0 956.6 L870.0 956.4 L871.0 956.1 L872.0 955.9 L873.0 955.7 L874.0 955.4 L875.0 955.2 L876.0 954.9 L877.0 954.7 L878.0 954.4 L879.0 954.2 L880.0 953.9 L881.0 953.6 L882.0 953.3 L883.0 953.0 L884.0 952.7 L885.0 952.4 L886.0 952.1 L887.0 951.7 L888.0 951.4 L889.0 951.1 L890.0 950.7 L891.0 950.4 L892.0 950.0 L893.0 949.7 L894.0 949.4 L895.0 949.0 L896.0 948.7 L897.0 948.4 L898.0 948.0 L899.0 947.7 L900.0 947.4 L901.0 947.1 L902.0 946.8 L903.0 946.5 L904.0 946.3 L905.0 946.0 L906.0 945.7 L907.0 945.5 L908.0 945.2 L909.0 945.0 L910.0 944.8 L911.0 944.5 L912.0 944.3 L913.0 944.0 L914.0 943.8 L915.0 943.5 L916.0 943.3 L917.0 943.1 L918.0 942.9 L919.0 942.7 L920.0 942.5 L921.0 942.2 L922.0 942.1 L923.0 941.9 L924.0 941.7 L925.0 941.5 L926.0 941.4 L927.0 941.2 L928.0 941.1 L929.0 940.9 L930.0 940.8 L931.0 940.7 L932.0 940.6 L933.0 940.4 L934.0 940.3 L935.0 940.2 L936.0 940.1 L937.0 940.0 L938.0 939.9 L939.0 939.8 L940.0 939.7 L941.0 939.6 L942.0 939.5 L943.0 939.4 L944.0 939.3 L945.0 939.2 L946.0 939.1 L947.0 939.1 L948.0 939.0 L949.0 938.9 L950.0 938.9 L951.0 938.9 L952.0 938.8 L953.0 938.8 L954.0 938.8 L955.0 938.8 L956.0 938.8 L957.0 938.8 L958.0 938.8 L959.0 938.9 L960.0 938.9 L961.0 938.9 L962.0 938.9 L963.0 939.0 L964.0 939.0 L965.0 939.1 L966.0 939.1 L967.0 939.2 L968.0 939.2 L969.0 939.3 L970.0 939.3 L971.0 939.4 L972.0 939.4 L973.0 939.5 L974.0 939.6 L975.0 939.6 L976.0 939.7 L977.0 939.8 L978.0 939.9 L979.0 939.9 L980.0 940.0 L981.0 940.1 L982.0 940.2 L983.0 940.3 L984.0 940.4 L985.0 940.5 L986.0 940.7 L987.0 940.8 L988.0 941.0 L989.0 941.1 L990.0 941.3 L991.0 941.5 L992.0 941.7 L993.0 941.9 L994.0 942.1 L995.0 942.3 L996.0 942.5 L997.0 942.7 L998.0 942.9 L999.0 943.2 L1000.0 943.4 L1001.0 943.6 L1002.0 943.9 L1003.0 944.1 L1004.0 944.3 L1005.0 944.5 L1006.0 944.8 L1007.0 945.0 L1008.0 945.3 L1009.0 945.5 L1010.0 945.8 L1011.0 946.1 L1012.0 946.4 L1013.0 946.7 L1014.0 947.0 L1015.0 947.3 L1016.0 947.6 L1017.0 947.9 L1018.0 948.3 L1019.0 948.6 L1020.0 948.9 L1021.0 949.3 L1022.0 949.6 L1023.0 950.0 L1024.0 950.3 L1025.0 950.7 L1026.0 951.1 L1027.0 951.5 L1028.0 951.8 L1029.0 952.2 L1030.0 952.6 L1031.0 953.0 L1032.0 953.4 L1033.0 953.9 L1034.0 954.3 L1035.0 954.8 L1036.0 955.2 L1037.0 955.7 L1038.0 956.2 L1039.0 956.7 L1040.0 957.2 L1041.0 957.7 L1042.0 958.2 L1043.0 958.7 L1044.0 959.3 L1045.0 959.8 L1046.0 960.3 L1047.0 960.8 L1048.0 961.4 L1049.0 961.9 L1050.0 962.4 L1051.0 962.9 L1052.0 963.4 L1053.0 964.0 L1054.0 964.5 L1055.0 965.0 L1056.0 965.6 L1057.0 966.1 L1058.0 966.7 L1059.0 967.2 L1060.0 967.8 L1061.0 968.3 L1062.0 968.9 L1063.0 969.4 L1064.0 970.0 L1065.0 970.6 L1066.0 971.2 L1067.0 971.7 L1068.0 972.3 L1069.0 972.9 L1070.0 973.5 L1071.0 974.1 L1072.0 974.7 L1073.0 975.3 L1074.0 976.0 L1075.0 976.6 L1076.0 977.2 L1077.0 977.9 L1078.0 978.5 L1079.0 979.2 L1080.0 979.8 L1081.0 980.5 L1082.0 981.1 L1083.0 981.7 L1084.0 982.4 L1085.0 983.0 L1086.0 983.6 L1087.0 984.2 L1088.0 984.9 L1089.0 985.5 L1090.0 986.1 L1091.0 986.7 L1092.0 987.3 L1093.0 988.0 L1094.0 988.6 L1095.0 989.2 L1096.0 989.8 L1097.0 990.4 L1098.0 991.0 L1099.0 991.6 L1100.0 992.3 L1101.0 992.9 L1102.0 993.5 L1103.0 994.1 L1104.0 994.7 L1105.0 995.4 L1106.0 996.0 L1107.0 996.6 L1108.0 997.2 L1109.0 997.8 L1110.0 998.5 L1111.0 999.1 L1112.0 999.7 L1113.0 1000.3 L1114.0 1001.0 L1115.0 1001.6 L1116.0 1002.2 L1117.0 1002.8 L1118.0 1003.5 L1119.0 1004.1 L1120.0 1004.7 L1121.0 1005.3 L1122.0 1006.0 L1123.0 1006.6 L1124.0 1007.3 L1125.0 1007.9 L1126.0 1008.5 L1127.0 1009.1 L1128.0 1009.7 L1129.0 1010.3 L1130.0 1010.8 L1131.0 1011.3 L1132.0 1011.9 L1133.0 1012.4 L1134.0 1012.9 L1135.0 1013.4 L1136.0 1013.9 L1137.0 1014.4 L1138.0 1014.9 L1139.0 1015.3 L1140.0 1015.8 L1141.0 1016.3 L1142.0 1016.8 L1143.0 1017.3 L1144.0 1017.7 L1145.0 1018.2 L1146.0 1018.7 L1147.0 1019.1 L1148.0 1019.6 L1149.0 1020.0 L1150.0 1020.5 L1151.0 1020.9 L1152.0 1021.4 L1153.0 1021.8 L1154.0 1022.3 L1155.0 1022.8 L1156.0 1023.2 L1157.0 1023.7 L1158.0 1024.2 L1159.0 1024.7 L1160.0 1025.3 L1161.0 1025.9 L1162.0 1026.7 L1163.0 1027.6 L1164.0 1028.5 L1165.0 1029.4 L1166.0 1030.4 L1167.0 1031.3 L1168.0 1032.2 L1169.0 1033.2 L1170.0 1034.1 L1171.0 1035.0 L1172.0 1035.7 L1173.0 1036.3 L1174.0 1036.8 L1175.0 1037.2 L1176.0 1037.6 L1177.0 1038.0 L1178.0 1038.4 L1179.0 1038.7 L1180.0 1039.1 L1181.0 1039.5 L1182.0 1039.8 L1183.0 1040.1 L1184.0 1040.5 L1185.0 1040.8 L1186.0 1041.1 L1187.0 1041.4 L1188.0 1041.7 L1189.0 1042.0 L1190.0 1042.2 L1191.0 1042.5 L1192.0 1042.8 L1193.0 1043.0 L1194.0 1043.2 L1195.0 1043.5 L1196.0 1043.7 L1197.0 1043.9 L1198.0 1044.1 L1199.0 1044.3 L1200.0 1044.5 L1201.0 1044.7 L1202.0 1044.9 L1203.0 1045.1 L1204.0 1045.3 L1205.0 1045.5 L1206.0 1045.7 L1207.0 1045.9 L1208.0 1046.2 L1209.0 1046.4 L1210.0 1046.6 L1211.0 1046.9 L1212.0 1047.1 L1213.0 1047.4 L1214.0 1047.6 L1215.0 1047.8 L1216.0 1048.1 L1217.0 1048.3 L1218.0 1048.5 L1219.0 1048.7 L1220.0 1048.9 L1221.0 1049.1 L1222.0 1049.3 L1223.0 1049.5 L1224.0 1049.7 L1225.0 1049.8 L1226.0 1050.0 L1227.0 1050.2 L1228.0 1050.4 L1229.0 1050.5 L1230.0 1050.7 L1231.0 1050.9 L1232.0 1051.0 L1233.0 1051.1 L1234.0 1051.3 L1235.0 1051.4 L1236.0 1051.6 L1237.0 1051.7 L1238.0 1051.9 L1239.0 1052.0 L1240.0 1052.2 L1241.0 1052.3 L1242.0 1052.4 L1243.0 1052.5 L1244.0 1052.7 L1245.0 1052.8 L1246.0 1052.9 L1247.0 1053.0 L1248.0 1053.1 L1249.0 1053.1 L1250.0 1053.2 L1251.0 1053.3 L1252.0 1053.3 L1253.0 1053.4 L1254.0 1053.4 L1255.0 1053.5 L1256.0 1053.5 L1257.0 1053.6 L1258.0 1053.6 L1259.0 1053.6 L1260.0 1053.7 L1261.0 1053.7 L1262.0 1053.7 L1263.0 1053.8 L1264.0 1053.8 L1265.0 1053.9 L1266.0 1053.9 L1267.0 1053.9 L1268.0 1054.0 L1269.0 1054.0 L1270.0 1054.0 L1271.0 1054.1 L1272.0 1054.1 L1273.0 1054.2 L1274.0 1054.2 L1275.0 1054.3 L1276.0 1054.3 L1277.0 1054.4 L1278.0 1054.4 L1279.0 1054.5 L1280.0 1054.5 L1281.0 1054.6 L1282.0 1054.6 L1283.0 1054.6 L1284.0 1054.7 L1285.0 1054.7 L1286.0 1054.7 L1287.0 1054.8 L1288.0 1054.8 L1289.0 1054.8 L1290.0 1054.8 L1291.0 1054.8 L1292.0 1054.7 L1293.0 1054.5 L1294.0 1054.2 L1295.0 1053.8 L1296.0 1053.4 L1297.0 1053.0 L1298.0 1052.6 L1299.0 1052.2 L1300.0 1051.9 L1301.0 1051.8 L1302.0 1051.8 L1303.0 1051.9 L1304.0 1052.1 L1305.0 1052.4 L1306.0 1052.7 L1307.0 1053.0 L1308.0 1053.4 L1309.0 1053.8 L1310.0 1054.1 L1311.0 1054.4 L1312.0 1054.6 L1313.0 1054.7 L1314.0 1054.8 L1315.0 1054.8 L1316.0 1054.8 L1317.0 1054.8 L1318.0 1054.8 L1319.0 1054.8 L1320.0 1054.8 L1321.0 1054.8 L1322.0 1054.8 L1323.0 1054.8 L1324.0 1054.8 L1325.0 1054.8 L1326.0 1054.8 L1327.0 1054.8 L1328.0 1054.8 L1329.0 1054.8 L1330.0 1054.8 L1331.0 1054.8 L1332.0 1054.8 L1333.0 1054.8 L1334.0 1054.8 L1335.0 1054.8 L1336.0 1054.8 L1337.0 1054.8 L1338.0 1054.8 L1339.0 1054.8 L1340.0 1054.8 L1341.0 1054.8 L1342.0 1054.8 L1343.0 1054.8 L1344.0 1054.8 L1345.0 1054.8 L1346.0 1054.8 L1347.0 1054.8 L1348.0 1054.8 L1349.0 1054.8 L1350.0 1054.8 L1351.0 1054.8 L1352.0 1054.8 L1353.0 1054.8 L1354.0 1054.8 L1355.0 1054.8 L1356.0 1054.8 L1357.0 1054.8 L1358.0 1054.8 L1359.0 1054.8 L1360.0 1054.8 L1361.0 1054.8 L1362.0 1054.8 L1363.0 1054.8 L1364.0 1054.8 L1365.0 1054.9 L1366.0 1054.9 L1367.0 1054.9 L1368.0 1054.9 L1369.0 1054.9 L1370.0 1054.9 L1371.0 1054.9 L1372.0 1054.9 L1373.0 1054.9 L1374.0 1054.9 L1375.0 1054.9 L1376.0 1054.9 L1377.0 1054.9 L1378.0 1054.9 L1379.0 1054.9 L1380.0 1054.9 L1381.0 1054.9 L1382.0 1054.9 L1383.0 1054.9 L1384.0 1054.9 L1385.0 1054.9 L1386.0 1054.9 L1387.0 1054.9 L1388.0 1054.9 L1389.0 1054.9 L1390.0 1054.9 L1391.0 1054.9 L1392.0 1054.9 L1393.0 1054.9 L1394.0 1054.9 L1395.0 1054.9 L1396.0 1054.9 L1397.0 1054.9 L1398.0 1054.9 L1399.0 1054.9 L1400.0 1054.9 L1401.0 1054.9 L1402.0 1054.9 L1403.0 1054.9 L1404.0 1054.9 L1405.0 1054.9 L1406.0 1054.9 L1407.0 1054.9 L1408.0 1054.9 L1409.0 1054.9 L1410.0 1054.9 L1411.0 1054.9 L1412.0 1054.9 L1413.0 1054.9 L1414.0 1054.9 L1415.0 1054.9 L1416.0 1054.9 L1417.0 1054.9 L1418.0 1054.9 L1419.0 1054.9 L1420.0 1054.9 L1421.0 1054.9 L1422.0 1054.9 L1423.0 1054.9 L1424.0 1054.9 L1425.0 1054.9 L1426.0 1054.9 L1427.0 1054.9 L1428.0 1054.9 L1429.0 1054.9 L1430.0 1054.9 L1431.0 1054.9 L1432.0 1054.9 L1433.0 1054.9 L1434.0 1054.9 L1435.0 1054.9 L1436.0 1054.9 L1437.0 1054.9 L1438.0 1054.9 L1439.0 1054.9 L1440.0 1054.9 L1441.0 1054.9 L1442.0 1054.9 L1443.0 1054.9 L1444.0 1054.9 L1445.0 1054.9 L1446.0 1054.9 L1447.0 1054.9 L1448.0 1054.9 L1449.0 1054.9 L1450.0 1054.9 L1451.0 1054.9 L1452.0 1054.9 L1453.0 1054.9 L1454.0 1054.9 L1455.0 1054.9 L1456.0 1054.9 L1457.0 1054.9 L1458.0 1054.9 L1459.0 1054.9 L1460.0 1054.9 L1461.0 1054.9 L1462.0 1054.9 L1463.0 1054.9 L1464.0 1054.9 L1465.0 1054.9 L1466.0 1054.9 L1467.0 1054.9 L1468.0 1054.9 L1469.0 1054.9 L1470.0 1054.9 L1471.0 1054.9 L1472.0 1054.9 L1473.0 1054.9 L1474.0 1054.9 L1475.0 1054.9 L1476.0 1054.9 L1477.0 1054.9 L1478.0 1054.9 L1479.0 1054.9 L1480.0 1054.9 L1481.0 1054.9 L1482.0 1054.9 L1483.0 1054.9 L1484.0 1054.9 L1485.0 1054.9 L1486.0 1054.9 L1487.0 1054.9 L1488.0 1054.9 L1489.0 1054.9 L1490.0 1054.9 L1491.0 1054.9 L1492.0 1054.9 L1493.0 1054.9 L1494.0 1054.9 L1495.0 1054.9 L1496.0 1054.9 L1497.0 1054.9 L1498.0 1054.9 L1499.0 1054.9 L1500.0 1054.9 L1501.0 1054.9 L1502.0 1054.9 L1503.0 1054.9 L1504.0 1054.9 L1505.0 1054.9 L1506.0 1054.9 L1507.0 1054.9 L1508.0 1054.9 L1509.0 1054.9 L1510.0 1054.9 L1511.0 1054.9 L1512.0 1054.9 L1513.0 1054.9 L1514.0 1054.9 L1515.0 1054.9 L1516.0 1054.9 L1517.0 1054.9 L1518.0 1054.9 L1519.0 1054.9 L1520.0 1054.9 L1521.0 1054.9 L1522.0 1054.9 L1523.0 1054.9 L1524.0 1054.9 L1525.0 1054.9 L1526.0 1054.9 L1527.0 1054.9 L1528.0 1054.9 L1529.0 1054.9 L1530.0 1054.9 L1531.0 1054.9 L1532.0 1054.9 L1533.0 1054.9 L1534.0 1054.9 L1535.0 1054.9 L1536.0 1054.9 L1537.0 1054.9 L1538.0 1054.9 L1539.0 1054.9 L1540.0 1054.9 L1541.0 1054.9 L1542.0 1054.9 L1543.0 1054.9 L1544.0 1054.9 L1545.0 1054.9 L1546.0 1054.9"/>
</g>
<g>
<line x1="245.0" y1="477.5" x2="241.7" y2="51.6" stroke="#000" stroke-width="6.1" stroke-linecap="round"/>
<polygon points="241.5,26.5 247.2,51.6 236.2,51.6" fill="#000" stroke="#000" stroke-width="6.0" stroke-linejoin="round"/>
<line x1="419.0" y1="298.5" x2="409.9" y2="814.8" stroke="#000" stroke-width="6.1" stroke-linecap="round"/>
<polygon points="409.5,839.9 404.4,814.7 415.4,814.9" fill="#000" stroke="#000" stroke-width="6.0" stroke-linejoin="round"/>
<line x1="603.4" y1="930.0" x2="604.6" y2="699.7" stroke="#000" stroke-width="6.1" stroke-linecap="round"/>
<polygon points="604.7,674.6 610.1,699.7 599.1,699.7" fill="#000" stroke="#000" stroke-width="6.0" stroke-linejoin="round"/>
<line x1="991.8" y1="1064.0" x2="988.4" y2="908.9" stroke="#000" stroke-width="6.1" stroke-linecap="round"/>
<polygon points="987.9,883.8 993.9,908.8 982.9,909.0" fill="#000" stroke="#000" stroke-width="6.0" stroke-linejoin="round"/>
</g>
<g>
<rect x="1258.9" y="92.8" width="117.1" height="9.2" rx="3" ry="3" fill="#000000"/>
<rect x="1258.9" y="153.3" width="117.1" height="9.2" rx="3" ry="3" fill="#ff0000"/>
<rect x="1258.9" y="213.7" width="117.1" height="9.2" rx="3" ry="3" fill="#0000ff"/>
<rect x="1258.9" y="274.1" width="117.1" height="9.2" rx="3" ry="3" fill="#ff00ff"/>
<rect x="1258.9" y="334.6" width="117.1" height="9.2" rx="3" ry="3" fill="#008000"/>
<rect x="1258.9" y="395.0" width="117.1" height="9.2" rx="3" ry="3" fill="#000080"/>
<rect x="1258.9" y="455.5" width="117.1" height="9.2" rx="3" ry="3" fill="#8000ff"/>
<rect x="1258.9" y="516.0" width="117.1" height="9.2" rx="3" ry="3" fill="#800080"/>
<rect x="1258.9" y="576.4" width="117.1" height="9.2" rx="3" ry="3" fill="#800000"/>
<rect x="1258.9" y="636.9" width="117.1" height="9.2" rx="3" ry="3" fill="#808000"/>
<rect x="1258.9" y="697.3" width="117.1" height="9.2" rx="3" ry="3" fill="#2e64a6"/>
<rect x="1258.9" y="757.8" width="117.1" height="9.2" rx="3" ry="3" fill="#1f9696"/>
</g>
<g font-size="50.5">
<text transform="translate(1384.6 113.7) scale(0.978 1)">0 s</text>
<text transform="translate(1384.6 174.2) scale(0.978 1)">3 s</text>
<text transform="translate(1384.6 234.6) scale(0.978 1)">8 s</text>
<text transform="translate(1384.6 295.1) scale(0.978 1)">13 s</text>
<text transform="translate(1384.6 355.5) scale(0.978 1)">17 s</text>
<text transform="translate(1384.6 415.9) scale(0.978 1)">22 s</text>
<text transform="translate(1384.6 476.4) scale(0.978 1)">27 s</text>
<text transform="translate(1384.6 536.9) scale(0.978 1)">32 s</text>
<text transform="translate(1384.6 597.3) scale(0.978 1)">37 s</text>
<text transform="translate(1384.6 657.8) scale(0.978 1)">47 s</text>
<text transform="translate(1384.6 718.2) scale(0.978 1)">62 s</text>
<text transform="translate(1384.6 778.6) scale(0.978 1)">92 s</text>
</g>
<g class="b" font-size="61.6" text-anchor="middle">
<text transform="translate(451.8 1143.6) scale(0.894 1)">250</text>
<text transform="translate(815.8 1143.6) scale(0.894 1)">300</text>
<text transform="translate(1179.9 1143.6) scale(0.894 1)">350</text>
<text transform="translate(1544.0 1143.6) scale(0.894 1)">400</text>
</g>
<g class="b" font-size="61" text-anchor="end">
<text transform="translate(139.6 126.2) scale(0.91 1)">4</text>
<text transform="translate(139.6 366.1) scale(0.91 1)">3</text>
<text transform="translate(139.6 601.8) scale(0.91 1)">2</text>
<text transform="translate(141.1 841.1) scale(0.91 1)">1</text>
<text transform="translate(139.6 1079.7) scale(0.91 1)">0</text>
</g>
<text class="b" font-size="62.3" text-anchor="middle" transform="translate(820 1205) scale(0.958 1)">Wavelength (nm)</text>
<text class="b" font-size="64.4" text-anchor="middle" transform="translate(81.8 592.3) rotate(-90) scale(1 0.975)">Absorption</text>
</svg></body></html>
